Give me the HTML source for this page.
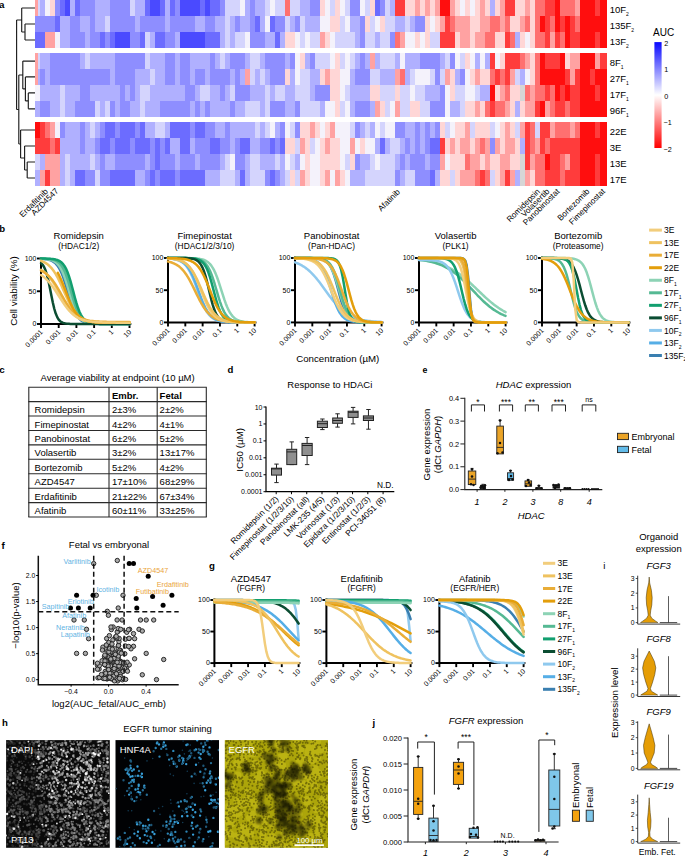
<!DOCTYPE html>
<html><head><meta charset="utf-8"><title>Figure</title>
<style>html,body{margin:0;padding:0;background:#fff;}body{width:685px;height:857px;overflow:hidden;}svg{display:block;}</style>
</head><body>
<svg width="685" height="857" viewBox="0 0 685 857" font-family='"Liberation Sans", sans-serif'>
<rect width="685" height="857" fill="#fff"/>
<g shape-rendering="crispEdges"><rect x="35" y="0" width="5.3" height="15.95" fill="#d4d4fd"/><rect x="40" y="0" width="5.3" height="15.95" fill="#b0b0ff"/><rect x="45" y="0" width="5.3" height="15.95" fill="#f4f2fb"/><rect x="50" y="0" width="5.3" height="15.95" fill="#ffd6d6"/><rect x="55" y="0" width="5.3" height="15.95" fill="#8e8eff"/><rect x="60" y="0" width="5.3" height="15.95" fill="#6c6cff"/><rect x="65" y="0" width="5.3" height="15.95" fill="#4a4aff"/><rect x="70" y="0" width="5.3" height="15.95" fill="#b0b0ff"/><rect x="75" y="0" width="5.3" height="15.95" fill="#6c6cff"/><rect x="80" y="0" width="15.3" height="15.95" fill="#8e8eff"/><rect x="95" y="0" width="15.3" height="15.95" fill="#b0b0ff"/><rect x="110" y="0" width="20.3" height="15.95" fill="#8e8eff"/><rect x="130" y="0" width="5.3" height="15.95" fill="#d4d4fd"/><rect x="135" y="0" width="10.3" height="15.95" fill="#b0b0ff"/><rect x="145" y="0" width="5.3" height="15.95" fill="#6c6cff"/><rect x="150" y="0" width="10.3" height="15.95" fill="#4a4aff"/><rect x="160" y="0" width="5.3" height="15.95" fill="#6c6cff"/><rect x="165" y="0" width="5.3" height="15.95" fill="#b0b0ff"/><rect x="170" y="0" width="5.3" height="15.95" fill="#6c6cff"/><rect x="175" y="0" width="5.3" height="15.95" fill="#8e8eff"/><rect x="180" y="0" width="20.3" height="15.95" fill="#4a4aff"/><rect x="200" y="0" width="5.3" height="15.95" fill="#6c6cff"/><rect x="205" y="0" width="5.3" height="15.95" fill="#4a4aff"/><rect x="210" y="0" width="10.3" height="15.95" fill="#6c6cff"/><rect x="220" y="0" width="5.3" height="15.95" fill="#8e8eff"/><rect x="225" y="0" width="15.3" height="15.95" fill="#d4d4fd"/><rect x="240" y="0" width="5.3" height="15.95" fill="#f4f2fb"/><rect x="245" y="0" width="5.3" height="15.95" fill="#b0b0ff"/><rect x="250" y="0" width="5.3" height="15.95" fill="#8e8eff"/><rect x="255" y="0" width="10.3" height="15.95" fill="#b0b0ff"/><rect x="265" y="0" width="5.3" height="15.95" fill="#d4d4fd"/><rect x="270" y="0" width="5.3" height="15.95" fill="#f4f2fb"/><rect x="275" y="0" width="10.3" height="15.95" fill="#d4d4fd"/><rect x="285" y="0" width="5.3" height="15.95" fill="#ff7070"/><rect x="290" y="0" width="10.3" height="15.95" fill="#d4d4fd"/><rect x="300" y="0" width="10.3" height="15.95" fill="#b0b0ff"/><rect x="310" y="0" width="10.3" height="15.95" fill="#8e8eff"/><rect x="320" y="0" width="5.3" height="15.95" fill="#ffd6d6"/><rect x="325" y="0" width="5.3" height="15.95" fill="#f4f2fb"/><rect x="330" y="0" width="5.3" height="15.95" fill="#d4d4fd"/><rect x="335" y="0" width="5.3" height="15.95" fill="#ffd6d6"/><rect x="340" y="0" width="5.3" height="15.95" fill="#f4f2fb"/><rect x="345" y="0" width="5.3" height="15.95" fill="#d4d4fd"/><rect x="350" y="0" width="10.3" height="15.95" fill="#8e8eff"/><rect x="360" y="0" width="5.3" height="15.95" fill="#f4f2fb"/><rect x="365" y="0" width="5.3" height="15.95" fill="#d4d4fd"/><rect x="370" y="0" width="5.3" height="15.95" fill="#ffd6d6"/><rect x="375" y="0" width="5.3" height="15.95" fill="#6c6cff"/><rect x="380" y="0" width="5.3" height="15.95" fill="#8e8eff"/><rect x="385" y="0" width="5.3" height="15.95" fill="#d4d4fd"/><rect x="390" y="0" width="5.3" height="15.95" fill="#b0b0ff"/><rect x="395" y="0" width="10.3" height="15.95" fill="#ff3c3c"/><rect x="405" y="0" width="10.3" height="15.95" fill="#ffd6d6"/><rect x="415" y="0" width="5.3" height="15.95" fill="#ffa2a2"/><rect x="420" y="0" width="5.3" height="15.95" fill="#ffd6d6"/><rect x="425" y="0" width="5.3" height="15.95" fill="#ffa2a2"/><rect x="430" y="0" width="5.3" height="15.95" fill="#ffd6d6"/><rect x="435" y="0" width="5.3" height="15.95" fill="#ffa2a2"/><rect x="440" y="0" width="10.3" height="15.95" fill="#ff0e0e"/><rect x="450" y="0" width="5.3" height="15.95" fill="#ffa2a2"/><rect x="455" y="0" width="5.3" height="15.95" fill="#ffd6d6"/><rect x="460" y="0" width="5.3" height="15.95" fill="#f4f2fb"/><rect x="465" y="0" width="5.3" height="15.95" fill="#ffd6d6"/><rect x="470" y="0" width="5.3" height="15.95" fill="#f4f2fb"/><rect x="475" y="0" width="5.3" height="15.95" fill="#ffd6d6"/><rect x="480" y="0" width="5.3" height="15.95" fill="#ffa2a2"/><rect x="485" y="0" width="5.3" height="15.95" fill="#ffd6d6"/><rect x="490" y="0" width="5.3" height="15.95" fill="#b0b0ff"/><rect x="495" y="0" width="5.3" height="15.95" fill="#ffd6d6"/><rect x="500" y="0" width="5.3" height="15.95" fill="#ffa2a2"/><rect x="505" y="0" width="10.3" height="15.95" fill="#ff3c3c"/><rect x="515" y="0" width="10.3" height="15.95" fill="#ffd6d6"/><rect x="525" y="0" width="5.3" height="15.95" fill="#ffa2a2"/><rect x="530" y="0" width="5.3" height="15.95" fill="#ffd6d6"/><rect x="535" y="0" width="10.3" height="15.95" fill="#ff7070"/><rect x="545" y="0" width="10.3" height="15.95" fill="#ff3c3c"/><rect x="555" y="0" width="5.3" height="15.95" fill="#ff0e0e"/><rect x="560" y="0" width="15.3" height="15.95" fill="#ff7070"/><rect x="575" y="0" width="5.3" height="15.95" fill="#ffa2a2"/><rect x="580" y="0" width="15.3" height="15.95" fill="#ff0e0e"/><rect x="595" y="0" width="5.3" height="15.95" fill="#ff3c3c"/><rect x="600" y="0" width="7" height="15.95" fill="#ff0e0e"/><rect x="35" y="15.95" width="20.3" height="16" fill="#8e8eff"/><rect x="55" y="15.95" width="5.3" height="16" fill="#6c6cff"/><rect x="60" y="15.95" width="10.3" height="16" fill="#b0b0ff"/><rect x="70" y="15.95" width="10.3" height="16" fill="#8e8eff"/><rect x="80" y="15.95" width="10.3" height="16" fill="#b0b0ff"/><rect x="90" y="15.95" width="5.3" height="16" fill="#8e8eff"/><rect x="95" y="15.95" width="10.3" height="16" fill="#b0b0ff"/><rect x="105" y="15.95" width="5.3" height="16" fill="#d4d4fd"/><rect x="110" y="15.95" width="25.3" height="16" fill="#8e8eff"/><rect x="135" y="15.95" width="5.3" height="16" fill="#b0b0ff"/><rect x="140" y="15.95" width="25.3" height="16" fill="#8e8eff"/><rect x="165" y="15.95" width="5.3" height="16" fill="#b0b0ff"/><rect x="170" y="15.95" width="25.3" height="16" fill="#8e8eff"/><rect x="195" y="15.95" width="10.3" height="16" fill="#b0b0ff"/><rect x="205" y="15.95" width="10.3" height="16" fill="#8e8eff"/><rect x="215" y="15.95" width="10.3" height="16" fill="#b0b0ff"/><rect x="225" y="15.95" width="5.3" height="16" fill="#d4d4fd"/><rect x="230" y="15.95" width="5.3" height="16" fill="#b0b0ff"/><rect x="235" y="15.95" width="5.3" height="16" fill="#8e8eff"/><rect x="240" y="15.95" width="10.3" height="16" fill="#b0b0ff"/><rect x="250" y="15.95" width="5.3" height="16" fill="#8e8eff"/><rect x="255" y="15.95" width="5.3" height="16" fill="#6c6cff"/><rect x="260" y="15.95" width="5.3" height="16" fill="#b0b0ff"/><rect x="265" y="15.95" width="5.3" height="16" fill="#f4f2fb"/><rect x="270" y="15.95" width="5.3" height="16" fill="#6c6cff"/><rect x="275" y="15.95" width="10.3" height="16" fill="#8e8eff"/><rect x="285" y="15.95" width="5.3" height="16" fill="#d4d4fd"/><rect x="290" y="15.95" width="5.3" height="16" fill="#b0b0ff"/><rect x="295" y="15.95" width="5.3" height="16" fill="#8e8eff"/><rect x="300" y="15.95" width="5.3" height="16" fill="#d4d4fd"/><rect x="305" y="15.95" width="15.3" height="16" fill="#b0b0ff"/><rect x="320" y="15.95" width="10.3" height="16" fill="#f4f2fb"/><rect x="330" y="15.95" width="10.3" height="16" fill="#ffd6d6"/><rect x="340" y="15.95" width="5.3" height="16" fill="#d4d4fd"/><rect x="345" y="15.95" width="5.3" height="16" fill="#f4f2fb"/><rect x="350" y="15.95" width="10.3" height="16" fill="#b0b0ff"/><rect x="360" y="15.95" width="5.3" height="16" fill="#8e8eff"/><rect x="365" y="15.95" width="5.3" height="16" fill="#ffd6d6"/><rect x="370" y="15.95" width="5.3" height="16" fill="#d4d4fd"/><rect x="375" y="15.95" width="5.3" height="16" fill="#f4f2fb"/><rect x="380" y="15.95" width="5.3" height="16" fill="#ffd6d6"/><rect x="385" y="15.95" width="10.3" height="16" fill="#d4d4fd"/><rect x="395" y="15.95" width="10.3" height="16" fill="#b0b0ff"/><rect x="405" y="15.95" width="5.3" height="16" fill="#d4d4fd"/><rect x="410" y="15.95" width="5.3" height="16" fill="#b0b0ff"/><rect x="415" y="15.95" width="10.3" height="16" fill="#8e8eff"/><rect x="425" y="15.95" width="5.3" height="16" fill="#ffd6d6"/><rect x="430" y="15.95" width="5.3" height="16" fill="#f4f2fb"/><rect x="435" y="15.95" width="5.3" height="16" fill="#ffd6d6"/><rect x="440" y="15.95" width="5.3" height="16" fill="#ffa2a2"/><rect x="445" y="15.95" width="5.3" height="16" fill="#ff3c3c"/><rect x="450" y="15.95" width="5.3" height="16" fill="#ff7070"/><rect x="455" y="15.95" width="15.3" height="16" fill="#ffa2a2"/><rect x="470" y="15.95" width="10.3" height="16" fill="#ffd6d6"/><rect x="480" y="15.95" width="10.3" height="16" fill="#ffa2a2"/><rect x="490" y="15.95" width="10.3" height="16" fill="#ff7070"/><rect x="500" y="15.95" width="5.3" height="16" fill="#ffa2a2"/><rect x="505" y="15.95" width="5.3" height="16" fill="#ff7070"/><rect x="510" y="15.95" width="10.3" height="16" fill="#ffd6d6"/><rect x="520" y="15.95" width="5.3" height="16" fill="#ffa2a2"/><rect x="525" y="15.95" width="5.3" height="16" fill="#ff7070"/><rect x="530" y="15.95" width="5.3" height="16" fill="#ffd6d6"/><rect x="535" y="15.95" width="5.3" height="16" fill="#ff7070"/><rect x="540" y="15.95" width="5.3" height="16" fill="#ff0e0e"/><rect x="545" y="15.95" width="5.3" height="16" fill="#ff3c3c"/><rect x="550" y="15.95" width="5.3" height="16" fill="#ff7070"/><rect x="555" y="15.95" width="5.3" height="16" fill="#ff0e0e"/><rect x="560" y="15.95" width="5.3" height="16" fill="#ff3c3c"/><rect x="565" y="15.95" width="5.3" height="16" fill="#ff0e0e"/><rect x="570" y="15.95" width="5.3" height="16" fill="#ff3c3c"/><rect x="575" y="15.95" width="5.3" height="16" fill="#ff7070"/><rect x="580" y="15.95" width="27" height="16" fill="#ff0e0e"/><rect x="35" y="31.95" width="10.3" height="16.05" fill="#6c6cff"/><rect x="45" y="31.95" width="10.3" height="16.05" fill="#ffa2a2"/><rect x="55" y="31.95" width="5.3" height="16.05" fill="#f4f2fb"/><rect x="60" y="31.95" width="10.3" height="16.05" fill="#b0b0ff"/><rect x="70" y="31.95" width="15.3" height="16.05" fill="#8e8eff"/><rect x="85" y="31.95" width="5.3" height="16.05" fill="#b0b0ff"/><rect x="90" y="31.95" width="10.3" height="16.05" fill="#8e8eff"/><rect x="100" y="31.95" width="5.3" height="16.05" fill="#6c6cff"/><rect x="105" y="31.95" width="5.3" height="16.05" fill="#8e8eff"/><rect x="110" y="31.95" width="5.3" height="16.05" fill="#6c6cff"/><rect x="115" y="31.95" width="15.3" height="16.05" fill="#4a4aff"/><rect x="130" y="31.95" width="10.3" height="16.05" fill="#8e8eff"/><rect x="140" y="31.95" width="5.3" height="16.05" fill="#6c6cff"/><rect x="145" y="31.95" width="5.3" height="16.05" fill="#d4d4fd"/><rect x="150" y="31.95" width="5.3" height="16.05" fill="#b0b0ff"/><rect x="155" y="31.95" width="10.3" height="16.05" fill="#6c6cff"/><rect x="165" y="31.95" width="10.3" height="16.05" fill="#8e8eff"/><rect x="175" y="31.95" width="5.3" height="16.05" fill="#b0b0ff"/><rect x="180" y="31.95" width="25.3" height="16.05" fill="#4a4aff"/><rect x="205" y="31.95" width="15.3" height="16.05" fill="#6c6cff"/><rect x="220" y="31.95" width="5.3" height="16.05" fill="#b0b0ff"/><rect x="225" y="31.95" width="5.3" height="16.05" fill="#d4d4fd"/><rect x="230" y="31.95" width="5.3" height="16.05" fill="#b0b0ff"/><rect x="235" y="31.95" width="10.3" height="16.05" fill="#d4d4fd"/><rect x="245" y="31.95" width="5.3" height="16.05" fill="#f4f2fb"/><rect x="250" y="31.95" width="15.3" height="16.05" fill="#8e8eff"/><rect x="265" y="31.95" width="10.3" height="16.05" fill="#b0b0ff"/><rect x="275" y="31.95" width="5.3" height="16.05" fill="#6c6cff"/><rect x="280" y="31.95" width="5.3" height="16.05" fill="#b0b0ff"/><rect x="285" y="31.95" width="10.3" height="16.05" fill="#ffd6d6"/><rect x="295" y="31.95" width="5.3" height="16.05" fill="#f4f2fb"/><rect x="300" y="31.95" width="5.3" height="16.05" fill="#d4d4fd"/><rect x="305" y="31.95" width="5.3" height="16.05" fill="#f4f2fb"/><rect x="310" y="31.95" width="10.3" height="16.05" fill="#d4d4fd"/><rect x="320" y="31.95" width="5.3" height="16.05" fill="#ffa2a2"/><rect x="325" y="31.95" width="5.3" height="16.05" fill="#ffd6d6"/><rect x="330" y="31.95" width="5.3" height="16.05" fill="#f4f2fb"/><rect x="335" y="31.95" width="20.3" height="16.05" fill="#d4d4fd"/><rect x="355" y="31.95" width="5.3" height="16.05" fill="#b0b0ff"/><rect x="360" y="31.95" width="5.3" height="16.05" fill="#8e8eff"/><rect x="365" y="31.95" width="10.3" height="16.05" fill="#d4d4fd"/><rect x="375" y="31.95" width="5.3" height="16.05" fill="#b0b0ff"/><rect x="380" y="31.95" width="10.3" height="16.05" fill="#d4d4fd"/><rect x="390" y="31.95" width="5.3" height="16.05" fill="#8e8eff"/><rect x="395" y="31.95" width="5.3" height="16.05" fill="#ff7070"/><rect x="400" y="31.95" width="5.3" height="16.05" fill="#ffa2a2"/><rect x="405" y="31.95" width="10.3" height="16.05" fill="#f4f2fb"/><rect x="415" y="31.95" width="5.3" height="16.05" fill="#ffd6d6"/><rect x="420" y="31.95" width="5.3" height="16.05" fill="#f4f2fb"/><rect x="425" y="31.95" width="5.3" height="16.05" fill="#ffd6d6"/><rect x="430" y="31.95" width="10.3" height="16.05" fill="#d4d4fd"/><rect x="440" y="31.95" width="15.3" height="16.05" fill="#ff3c3c"/><rect x="455" y="31.95" width="5.3" height="16.05" fill="#ffd6d6"/><rect x="460" y="31.95" width="10.3" height="16.05" fill="#ffa2a2"/><rect x="470" y="31.95" width="5.3" height="16.05" fill="#ffd6d6"/><rect x="475" y="31.95" width="10.3" height="16.05" fill="#ffa2a2"/><rect x="485" y="31.95" width="10.3" height="16.05" fill="#ff7070"/><rect x="495" y="31.95" width="10.3" height="16.05" fill="#ffd6d6"/><rect x="505" y="31.95" width="5.3" height="16.05" fill="#ff3c3c"/><rect x="510" y="31.95" width="5.3" height="16.05" fill="#ff7070"/><rect x="515" y="31.95" width="5.3" height="16.05" fill="#b0b0ff"/><rect x="520" y="31.95" width="5.3" height="16.05" fill="#ffd6d6"/><rect x="525" y="31.95" width="5.3" height="16.05" fill="#f4f2fb"/><rect x="530" y="31.95" width="5.3" height="16.05" fill="#ffd6d6"/><rect x="535" y="31.95" width="10.3" height="16.05" fill="#ff7070"/><rect x="545" y="31.95" width="5.3" height="16.05" fill="#ff3c3c"/><rect x="550" y="31.95" width="5.3" height="16.05" fill="#ffa2a2"/><rect x="555" y="31.95" width="5.3" height="16.05" fill="#ff3c3c"/><rect x="560" y="31.95" width="5.3" height="16.05" fill="#ff7070"/><rect x="565" y="31.95" width="5.3" height="16.05" fill="#ff0e0e"/><rect x="570" y="31.95" width="10.3" height="16.05" fill="#ff3c3c"/><rect x="580" y="31.95" width="15.3" height="16.05" fill="#ff0e0e"/><rect x="595" y="31.95" width="5.3" height="16.05" fill="#ff3c3c"/><rect x="600" y="31.95" width="7" height="16.05" fill="#ff0e0e"/><rect x="35" y="53.1" width="5.3" height="15.9" fill="#d4d4fd"/><rect x="40" y="53.1" width="10.3" height="15.9" fill="#b0b0ff"/><rect x="50" y="53.1" width="30.3" height="15.9" fill="#8e8eff"/><rect x="80" y="53.1" width="5.3" height="15.9" fill="#b0b0ff"/><rect x="85" y="53.1" width="5.3" height="15.9" fill="#d4d4fd"/><rect x="90" y="53.1" width="25.3" height="15.9" fill="#b0b0ff"/><rect x="115" y="53.1" width="30.3" height="15.9" fill="#8e8eff"/><rect x="145" y="53.1" width="5.3" height="15.9" fill="#d4d4fd"/><rect x="150" y="53.1" width="15.3" height="15.9" fill="#b0b0ff"/><rect x="165" y="53.1" width="10.3" height="15.9" fill="#8e8eff"/><rect x="175" y="53.1" width="5.3" height="15.9" fill="#b0b0ff"/><rect x="180" y="53.1" width="10.3" height="15.9" fill="#8e8eff"/><rect x="190" y="53.1" width="20.3" height="15.9" fill="#b0b0ff"/><rect x="210" y="53.1" width="5.3" height="15.9" fill="#8e8eff"/><rect x="215" y="53.1" width="5.3" height="15.9" fill="#b0b0ff"/><rect x="220" y="53.1" width="5.3" height="15.9" fill="#d4d4fd"/><rect x="225" y="53.1" width="5.3" height="15.9" fill="#b0b0ff"/><rect x="230" y="53.1" width="15.3" height="15.9" fill="#8e8eff"/><rect x="245" y="53.1" width="5.3" height="15.9" fill="#b0b0ff"/><rect x="250" y="53.1" width="10.3" height="15.9" fill="#d4d4fd"/><rect x="260" y="53.1" width="5.3" height="15.9" fill="#b0b0ff"/><rect x="265" y="53.1" width="20.3" height="15.9" fill="#8e8eff"/><rect x="285" y="53.1" width="5.3" height="15.9" fill="#b0b0ff"/><rect x="290" y="53.1" width="5.3" height="15.9" fill="#8e8eff"/><rect x="295" y="53.1" width="5.3" height="15.9" fill="#f4f2fb"/><rect x="300" y="53.1" width="5.3" height="15.9" fill="#ffd6d6"/><rect x="305" y="53.1" width="5.3" height="15.9" fill="#b0b0ff"/><rect x="310" y="53.1" width="5.3" height="15.9" fill="#8e8eff"/><rect x="315" y="53.1" width="15.3" height="15.9" fill="#d4d4fd"/><rect x="330" y="53.1" width="5.3" height="15.9" fill="#f4f2fb"/><rect x="335" y="53.1" width="5.3" height="15.9" fill="#ffd6d6"/><rect x="340" y="53.1" width="5.3" height="15.9" fill="#d4d4fd"/><rect x="345" y="53.1" width="5.3" height="15.9" fill="#f4f2fb"/><rect x="350" y="53.1" width="5.3" height="15.9" fill="#d4d4fd"/><rect x="355" y="53.1" width="5.3" height="15.9" fill="#b0b0ff"/><rect x="360" y="53.1" width="5.3" height="15.9" fill="#8e8eff"/><rect x="365" y="53.1" width="5.3" height="15.9" fill="#b0b0ff"/><rect x="370" y="53.1" width="5.3" height="15.9" fill="#ffa2a2"/><rect x="375" y="53.1" width="5.3" height="15.9" fill="#b0b0ff"/><rect x="380" y="53.1" width="15.3" height="15.9" fill="#d4d4fd"/><rect x="395" y="53.1" width="5.3" height="15.9" fill="#b0b0ff"/><rect x="400" y="53.1" width="5.3" height="15.9" fill="#f4f2fb"/><rect x="405" y="53.1" width="15.3" height="15.9" fill="#b0b0ff"/><rect x="420" y="53.1" width="20.3" height="15.9" fill="#8e8eff"/><rect x="440" y="53.1" width="5.3" height="15.9" fill="#b0b0ff"/><rect x="445" y="53.1" width="5.3" height="15.9" fill="#d4d4fd"/><rect x="450" y="53.1" width="5.3" height="15.9" fill="#8e8eff"/><rect x="455" y="53.1" width="5.3" height="15.9" fill="#f4f2fb"/><rect x="460" y="53.1" width="5.3" height="15.9" fill="#d4d4fd"/><rect x="465" y="53.1" width="5.3" height="15.9" fill="#ffd6d6"/><rect x="470" y="53.1" width="5.3" height="15.9" fill="#f4f2fb"/><rect x="475" y="53.1" width="5.3" height="15.9" fill="#b0b0ff"/><rect x="480" y="53.1" width="5.3" height="15.9" fill="#f4f2fb"/><rect x="485" y="53.1" width="5.3" height="15.9" fill="#b0b0ff"/><rect x="490" y="53.1" width="5.3" height="15.9" fill="#ff3c3c"/><rect x="495" y="53.1" width="5.3" height="15.9" fill="#f4f2fb"/><rect x="500" y="53.1" width="5.3" height="15.9" fill="#ffd6d6"/><rect x="505" y="53.1" width="15.3" height="15.9" fill="#ff3c3c"/><rect x="520" y="53.1" width="5.3" height="15.9" fill="#ff7070"/><rect x="525" y="53.1" width="5.3" height="15.9" fill="#ffa2a2"/><rect x="530" y="53.1" width="5.3" height="15.9" fill="#ffd6d6"/><rect x="535" y="53.1" width="5.3" height="15.9" fill="#ff7070"/><rect x="540" y="53.1" width="5.3" height="15.9" fill="#ff0e0e"/><rect x="545" y="53.1" width="15.3" height="15.9" fill="#ff3c3c"/><rect x="560" y="53.1" width="5.3" height="15.9" fill="#ff0e0e"/><rect x="565" y="53.1" width="5.3" height="15.9" fill="#ffd6d6"/><rect x="570" y="53.1" width="10.3" height="15.9" fill="#ffa2a2"/><rect x="580" y="53.1" width="15.3" height="15.9" fill="#ff0e0e"/><rect x="595" y="53.1" width="5.3" height="15.9" fill="#ffa2a2"/><rect x="600" y="53.1" width="7" height="15.9" fill="#ff3c3c"/><rect x="35" y="69" width="5.3" height="15.9" fill="#b0b0ff"/><rect x="40" y="69" width="5.3" height="15.9" fill="#8e8eff"/><rect x="45" y="69" width="5.3" height="15.9" fill="#b0b0ff"/><rect x="50" y="69" width="60.3" height="15.9" fill="#8e8eff"/><rect x="110" y="69" width="5.3" height="15.9" fill="#b0b0ff"/><rect x="115" y="69" width="20.3" height="15.9" fill="#8e8eff"/><rect x="135" y="69" width="15.3" height="15.9" fill="#b0b0ff"/><rect x="150" y="69" width="5.3" height="15.9" fill="#d4d4fd"/><rect x="155" y="69" width="10.3" height="15.9" fill="#b0b0ff"/><rect x="165" y="69" width="10.3" height="15.9" fill="#8e8eff"/><rect x="175" y="69" width="5.3" height="15.9" fill="#b0b0ff"/><rect x="180" y="69" width="10.3" height="15.9" fill="#8e8eff"/><rect x="190" y="69" width="5.3" height="15.9" fill="#b0b0ff"/><rect x="195" y="69" width="10.3" height="15.9" fill="#8e8eff"/><rect x="205" y="69" width="5.3" height="15.9" fill="#b0b0ff"/><rect x="210" y="69" width="20.3" height="15.9" fill="#8e8eff"/><rect x="230" y="69" width="5.3" height="15.9" fill="#b0b0ff"/><rect x="235" y="69" width="5.3" height="15.9" fill="#8e8eff"/><rect x="240" y="69" width="5.3" height="15.9" fill="#b0b0ff"/><rect x="245" y="69" width="5.3" height="15.9" fill="#ffa2a2"/><rect x="250" y="69" width="5.3" height="15.9" fill="#d4d4fd"/><rect x="255" y="69" width="5.3" height="15.9" fill="#b0b0ff"/><rect x="260" y="69" width="5.3" height="15.9" fill="#d4d4fd"/><rect x="265" y="69" width="5.3" height="15.9" fill="#b0b0ff"/><rect x="270" y="69" width="15.3" height="15.9" fill="#8e8eff"/><rect x="285" y="69" width="5.3" height="15.9" fill="#ffd6d6"/><rect x="290" y="69" width="5.3" height="15.9" fill="#b0b0ff"/><rect x="295" y="69" width="5.3" height="15.9" fill="#f4f2fb"/><rect x="300" y="69" width="10.3" height="15.9" fill="#d4d4fd"/><rect x="310" y="69" width="10.3" height="15.9" fill="#b0b0ff"/><rect x="320" y="69" width="5.3" height="15.9" fill="#ffd6d6"/><rect x="325" y="69" width="5.3" height="15.9" fill="#ffa2a2"/><rect x="330" y="69" width="10.3" height="15.9" fill="#ffd6d6"/><rect x="340" y="69" width="10.3" height="15.9" fill="#f4f2fb"/><rect x="350" y="69" width="5.3" height="15.9" fill="#b0b0ff"/><rect x="355" y="69" width="15.3" height="15.9" fill="#8e8eff"/><rect x="370" y="69" width="10.3" height="15.9" fill="#d4d4fd"/><rect x="380" y="69" width="15.3" height="15.9" fill="#b0b0ff"/><rect x="395" y="69" width="5.3" height="15.9" fill="#ffa2a2"/><rect x="400" y="69" width="5.3" height="15.9" fill="#ff7070"/><rect x="405" y="69" width="5.3" height="15.9" fill="#b0b0ff"/><rect x="410" y="69" width="5.3" height="15.9" fill="#d4d4fd"/><rect x="415" y="69" width="15.3" height="15.9" fill="#f4f2fb"/><rect x="430" y="69" width="5.3" height="15.9" fill="#d4d4fd"/><rect x="435" y="69" width="5.3" height="15.9" fill="#8e8eff"/><rect x="440" y="69" width="5.3" height="15.9" fill="#d4d4fd"/><rect x="445" y="69" width="5.3" height="15.9" fill="#ffa2a2"/><rect x="450" y="69" width="5.3" height="15.9" fill="#ffd6d6"/><rect x="455" y="69" width="5.3" height="15.9" fill="#b0b0ff"/><rect x="460" y="69" width="5.3" height="15.9" fill="#8e8eff"/><rect x="465" y="69" width="5.3" height="15.9" fill="#f4f2fb"/><rect x="470" y="69" width="5.3" height="15.9" fill="#ffd6d6"/><rect x="475" y="69" width="5.3" height="15.9" fill="#ffa2a2"/><rect x="480" y="69" width="10.3" height="15.9" fill="#ffd6d6"/><rect x="490" y="69" width="5.3" height="15.9" fill="#ff7070"/><rect x="495" y="69" width="5.3" height="15.9" fill="#ff3c3c"/><rect x="500" y="69" width="5.3" height="15.9" fill="#ff7070"/><rect x="505" y="69" width="5.3" height="15.9" fill="#ff3c3c"/><rect x="510" y="69" width="5.3" height="15.9" fill="#ffa2a2"/><rect x="515" y="69" width="5.3" height="15.9" fill="#d4d4fd"/><rect x="520" y="69" width="5.3" height="15.9" fill="#b0b0ff"/><rect x="525" y="69" width="5.3" height="15.9" fill="#f4f2fb"/><rect x="530" y="69" width="5.3" height="15.9" fill="#ffd6d6"/><rect x="535" y="69" width="5.3" height="15.9" fill="#ff7070"/><rect x="540" y="69" width="25.3" height="15.9" fill="#ff0e0e"/><rect x="565" y="69" width="5.3" height="15.9" fill="#ff3c3c"/><rect x="570" y="69" width="5.3" height="15.9" fill="#ffa2a2"/><rect x="575" y="69" width="5.3" height="15.9" fill="#ff3c3c"/><rect x="580" y="69" width="10.3" height="15.9" fill="#ff0e0e"/><rect x="590" y="69" width="5.3" height="15.9" fill="#ff3c3c"/><rect x="595" y="69" width="12" height="15.9" fill="#ff0e0e"/><rect x="35" y="84.9" width="5.3" height="15.9" fill="#f4f2fb"/><rect x="40" y="84.9" width="20.3" height="15.9" fill="#b0b0ff"/><rect x="60" y="84.9" width="5.3" height="15.9" fill="#d4d4fd"/><rect x="65" y="84.9" width="15.3" height="15.9" fill="#b0b0ff"/><rect x="80" y="84.9" width="10.3" height="15.9" fill="#8e8eff"/><rect x="90" y="84.9" width="30.3" height="15.9" fill="#b0b0ff"/><rect x="120" y="84.9" width="5.3" height="15.9" fill="#8e8eff"/><rect x="125" y="84.9" width="5.3" height="15.9" fill="#b0b0ff"/><rect x="130" y="84.9" width="5.3" height="15.9" fill="#8e8eff"/><rect x="135" y="84.9" width="5.3" height="15.9" fill="#b0b0ff"/><rect x="140" y="84.9" width="10.3" height="15.9" fill="#d4d4fd"/><rect x="150" y="84.9" width="35.3" height="15.9" fill="#b0b0ff"/><rect x="185" y="84.9" width="10.3" height="15.9" fill="#8e8eff"/><rect x="195" y="84.9" width="5.3" height="15.9" fill="#b0b0ff"/><rect x="200" y="84.9" width="10.3" height="15.9" fill="#d4d4fd"/><rect x="210" y="84.9" width="10.3" height="15.9" fill="#b0b0ff"/><rect x="220" y="84.9" width="5.3" height="15.9" fill="#8e8eff"/><rect x="225" y="84.9" width="5.3" height="15.9" fill="#b0b0ff"/><rect x="230" y="84.9" width="5.3" height="15.9" fill="#d4d4fd"/><rect x="235" y="84.9" width="15.3" height="15.9" fill="#8e8eff"/><rect x="250" y="84.9" width="15.3" height="15.9" fill="#b0b0ff"/><rect x="265" y="84.9" width="5.3" height="15.9" fill="#d4d4fd"/><rect x="270" y="84.9" width="5.3" height="15.9" fill="#b0b0ff"/><rect x="275" y="84.9" width="10.3" height="15.9" fill="#d4d4fd"/><rect x="285" y="84.9" width="10.3" height="15.9" fill="#b0b0ff"/><rect x="295" y="84.9" width="15.3" height="15.9" fill="#d4d4fd"/><rect x="310" y="84.9" width="5.3" height="15.9" fill="#b0b0ff"/><rect x="315" y="84.9" width="15.3" height="15.9" fill="#8e8eff"/><rect x="330" y="84.9" width="10.3" height="15.9" fill="#ffd6d6"/><rect x="340" y="84.9" width="5.3" height="15.9" fill="#f4f2fb"/><rect x="345" y="84.9" width="5.3" height="15.9" fill="#d4d4fd"/><rect x="350" y="84.9" width="20.3" height="15.9" fill="#b0b0ff"/><rect x="370" y="84.9" width="10.3" height="15.9" fill="#ffd6d6"/><rect x="380" y="84.9" width="15.3" height="15.9" fill="#d4d4fd"/><rect x="395" y="84.9" width="5.3" height="15.9" fill="#ffd6d6"/><rect x="400" y="84.9" width="10.3" height="15.9" fill="#d4d4fd"/><rect x="410" y="84.9" width="5.3" height="15.9" fill="#f4f2fb"/><rect x="415" y="84.9" width="10.3" height="15.9" fill="#d4d4fd"/><rect x="425" y="84.9" width="15.3" height="15.9" fill="#b0b0ff"/><rect x="440" y="84.9" width="5.3" height="15.9" fill="#8e8eff"/><rect x="445" y="84.9" width="5.3" height="15.9" fill="#f4f2fb"/><rect x="450" y="84.9" width="5.3" height="15.9" fill="#ffd6d6"/><rect x="455" y="84.9" width="10.3" height="15.9" fill="#d4d4fd"/><rect x="465" y="84.9" width="10.3" height="15.9" fill="#f4f2fb"/><rect x="475" y="84.9" width="5.3" height="15.9" fill="#d4d4fd"/><rect x="480" y="84.9" width="10.3" height="15.9" fill="#b0b0ff"/><rect x="490" y="84.9" width="5.3" height="15.9" fill="#ff0e0e"/><rect x="495" y="84.9" width="5.3" height="15.9" fill="#ffd6d6"/><rect x="500" y="84.9" width="5.3" height="15.9" fill="#ffa2a2"/><rect x="505" y="84.9" width="5.3" height="15.9" fill="#ff7070"/><rect x="510" y="84.9" width="10.3" height="15.9" fill="#ffd6d6"/><rect x="520" y="84.9" width="5.3" height="15.9" fill="#d6d6d6"/><rect x="525" y="84.9" width="5.3" height="15.9" fill="#ff7070"/><rect x="530" y="84.9" width="5.3" height="15.9" fill="#ffa2a2"/><rect x="535" y="84.9" width="10.3" height="15.9" fill="#ff7070"/><rect x="545" y="84.9" width="5.3" height="15.9" fill="#ff3c3c"/><rect x="550" y="84.9" width="5.3" height="15.9" fill="#ff7070"/><rect x="555" y="84.9" width="5.3" height="15.9" fill="#ff0e0e"/><rect x="560" y="84.9" width="5.3" height="15.9" fill="#ff3c3c"/><rect x="565" y="84.9" width="5.3" height="15.9" fill="#ff0e0e"/><rect x="570" y="84.9" width="10.3" height="15.9" fill="#ff3c3c"/><rect x="580" y="84.9" width="15.3" height="15.9" fill="#ff0e0e"/><rect x="595" y="84.9" width="5.3" height="15.9" fill="#ff3c3c"/><rect x="600" y="84.9" width="7" height="15.9" fill="#ff0e0e"/><rect x="35" y="100.8" width="5.3" height="15.9" fill="#b0b0ff"/><rect x="40" y="100.8" width="10.3" height="15.9" fill="#8e8eff"/><rect x="50" y="100.8" width="10.3" height="15.9" fill="#b0b0ff"/><rect x="60" y="100.8" width="5.3" height="15.9" fill="#d4d4fd"/><rect x="65" y="100.8" width="10.3" height="15.9" fill="#b0b0ff"/><rect x="75" y="100.8" width="20.3" height="15.9" fill="#8e8eff"/><rect x="95" y="100.8" width="5.3" height="15.9" fill="#d4d4fd"/><rect x="100" y="100.8" width="5.3" height="15.9" fill="#b0b0ff"/><rect x="105" y="100.8" width="5.3" height="15.9" fill="#d4d4fd"/><rect x="110" y="100.8" width="5.3" height="15.9" fill="#8e8eff"/><rect x="115" y="100.8" width="5.3" height="15.9" fill="#b0b0ff"/><rect x="120" y="100.8" width="10.3" height="15.9" fill="#8e8eff"/><rect x="130" y="100.8" width="10.3" height="15.9" fill="#b0b0ff"/><rect x="140" y="100.8" width="5.3" height="15.9" fill="#d4d4fd"/><rect x="145" y="100.8" width="15.3" height="15.9" fill="#b0b0ff"/><rect x="160" y="100.8" width="30.3" height="15.9" fill="#8e8eff"/><rect x="190" y="100.8" width="5.3" height="15.9" fill="#b0b0ff"/><rect x="195" y="100.8" width="5.3" height="15.9" fill="#8e8eff"/><rect x="200" y="100.8" width="5.3" height="15.9" fill="#b0b0ff"/><rect x="205" y="100.8" width="5.3" height="15.9" fill="#8e8eff"/><rect x="210" y="100.8" width="20.3" height="15.9" fill="#b0b0ff"/><rect x="230" y="100.8" width="5.3" height="15.9" fill="#8e8eff"/><rect x="235" y="100.8" width="10.3" height="15.9" fill="#b0b0ff"/><rect x="245" y="100.8" width="15.3" height="15.9" fill="#d4d4fd"/><rect x="260" y="100.8" width="5.3" height="15.9" fill="#b0b0ff"/><rect x="265" y="100.8" width="5.3" height="15.9" fill="#d4d4fd"/><rect x="270" y="100.8" width="15.3" height="15.9" fill="#8e8eff"/><rect x="285" y="100.8" width="10.3" height="15.9" fill="#b0b0ff"/><rect x="295" y="100.8" width="5.3" height="15.9" fill="#8e8eff"/><rect x="300" y="100.8" width="20.3" height="15.9" fill="#d4d4fd"/><rect x="320" y="100.8" width="5.3" height="15.9" fill="#b0b0ff"/><rect x="325" y="100.8" width="10.3" height="15.9" fill="#f4f2fb"/><rect x="335" y="100.8" width="5.3" height="15.9" fill="#ffd6d6"/><rect x="340" y="100.8" width="5.3" height="15.9" fill="#d4d4fd"/><rect x="345" y="100.8" width="5.3" height="15.9" fill="#f4f2fb"/><rect x="350" y="100.8" width="5.3" height="15.9" fill="#b0b0ff"/><rect x="355" y="100.8" width="15.3" height="15.9" fill="#8e8eff"/><rect x="370" y="100.8" width="5.3" height="15.9" fill="#b0b0ff"/><rect x="375" y="100.8" width="5.3" height="15.9" fill="#ffa2a2"/><rect x="380" y="100.8" width="5.3" height="15.9" fill="#ffd6d6"/><rect x="385" y="100.8" width="5.3" height="15.9" fill="#d4d4fd"/><rect x="390" y="100.8" width="5.3" height="15.9" fill="#f4f2fb"/><rect x="395" y="100.8" width="5.3" height="15.9" fill="#ffa2a2"/><rect x="400" y="100.8" width="10.3" height="15.9" fill="#d4d4fd"/><rect x="410" y="100.8" width="10.3" height="15.9" fill="#ffd6d6"/><rect x="420" y="100.8" width="10.3" height="15.9" fill="#d4d4fd"/><rect x="430" y="100.8" width="15.3" height="15.9" fill="#8e8eff"/><rect x="445" y="100.8" width="5.3" height="15.9" fill="#f4f2fb"/><rect x="450" y="100.8" width="10.3" height="15.9" fill="#b0b0ff"/><rect x="460" y="100.8" width="5.3" height="15.9" fill="#d4d4fd"/><rect x="465" y="100.8" width="10.3" height="15.9" fill="#ffd6d6"/><rect x="475" y="100.8" width="5.3" height="15.9" fill="#ffa2a2"/><rect x="480" y="100.8" width="5.3" height="15.9" fill="#ffd6d6"/><rect x="485" y="100.8" width="5.3" height="15.9" fill="#ff7070"/><rect x="490" y="100.8" width="5.3" height="15.9" fill="#ff3c3c"/><rect x="495" y="100.8" width="10.3" height="15.9" fill="#ff7070"/><rect x="505" y="100.8" width="5.3" height="15.9" fill="#ffa2a2"/><rect x="510" y="100.8" width="5.3" height="15.9" fill="#ffd6d6"/><rect x="515" y="100.8" width="5.3" height="15.9" fill="#b0b0ff"/><rect x="520" y="100.8" width="5.3" height="15.9" fill="#ffd6d6"/><rect x="525" y="100.8" width="10.3" height="15.9" fill="#ffa2a2"/><rect x="535" y="100.8" width="5.3" height="15.9" fill="#ff3c3c"/><rect x="540" y="100.8" width="5.3" height="15.9" fill="#ff0e0e"/><rect x="545" y="100.8" width="5.3" height="15.9" fill="#ffa2a2"/><rect x="550" y="100.8" width="5.3" height="15.9" fill="#ff7070"/><rect x="555" y="100.8" width="10.3" height="15.9" fill="#ff3c3c"/><rect x="565" y="100.8" width="5.3" height="15.9" fill="#ff7070"/><rect x="570" y="100.8" width="10.3" height="15.9" fill="#ff3c3c"/><rect x="580" y="100.8" width="27" height="15.9" fill="#ff0e0e"/><rect x="35" y="121.9" width="5.3" height="16" fill="#ff0e0e"/><rect x="40" y="121.9" width="5.3" height="16" fill="#ff3c3c"/><rect x="45" y="121.9" width="5.3" height="16" fill="#ff7070"/><rect x="50" y="121.9" width="5.3" height="16" fill="#ffa2a2"/><rect x="55" y="121.9" width="5.3" height="16" fill="#f4f2fb"/><rect x="60" y="121.9" width="5.3" height="16" fill="#8e8eff"/><rect x="65" y="121.9" width="15.3" height="16" fill="#b0b0ff"/><rect x="80" y="121.9" width="5.3" height="16" fill="#8e8eff"/><rect x="85" y="121.9" width="5.3" height="16" fill="#b0b0ff"/><rect x="90" y="121.9" width="5.3" height="16" fill="#d4d4fd"/><rect x="95" y="121.9" width="5.3" height="16" fill="#b0b0ff"/><rect x="100" y="121.9" width="5.3" height="16" fill="#8e8eff"/><rect x="105" y="121.9" width="10.3" height="16" fill="#6c6cff"/><rect x="115" y="121.9" width="5.3" height="16" fill="#8e8eff"/><rect x="120" y="121.9" width="15.3" height="16" fill="#6c6cff"/><rect x="135" y="121.9" width="5.3" height="16" fill="#8e8eff"/><rect x="140" y="121.9" width="5.3" height="16" fill="#6c6cff"/><rect x="145" y="121.9" width="10.3" height="16" fill="#b0b0ff"/><rect x="155" y="121.9" width="10.3" height="16" fill="#d4d4fd"/><rect x="165" y="121.9" width="5.3" height="16" fill="#b0b0ff"/><rect x="170" y="121.9" width="20.3" height="16" fill="#6c6cff"/><rect x="190" y="121.9" width="5.3" height="16" fill="#8e8eff"/><rect x="195" y="121.9" width="10.3" height="16" fill="#6c6cff"/><rect x="205" y="121.9" width="10.3" height="16" fill="#8e8eff"/><rect x="215" y="121.9" width="10.3" height="16" fill="#b0b0ff"/><rect x="225" y="121.9" width="5.3" height="16" fill="#8e8eff"/><rect x="230" y="121.9" width="25.3" height="16" fill="#b0b0ff"/><rect x="255" y="121.9" width="5.3" height="16" fill="#d4d4fd"/><rect x="260" y="121.9" width="5.3" height="16" fill="#b0b0ff"/><rect x="265" y="121.9" width="5.3" height="16" fill="#d4d4fd"/><rect x="270" y="121.9" width="5.3" height="16" fill="#f4f2fb"/><rect x="275" y="121.9" width="5.3" height="16" fill="#b0b0ff"/><rect x="280" y="121.9" width="5.3" height="16" fill="#8e8eff"/><rect x="285" y="121.9" width="5.3" height="16" fill="#f4f2fb"/><rect x="290" y="121.9" width="5.3" height="16" fill="#d4d4fd"/><rect x="295" y="121.9" width="5.3" height="16" fill="#8e8eff"/><rect x="300" y="121.9" width="10.3" height="16" fill="#ffd6d6"/><rect x="310" y="121.9" width="5.3" height="16" fill="#ffa2a2"/><rect x="315" y="121.9" width="5.3" height="16" fill="#ffd6d6"/><rect x="320" y="121.9" width="5.3" height="16" fill="#f4f2fb"/><rect x="325" y="121.9" width="5.3" height="16" fill="#ffd6d6"/><rect x="330" y="121.9" width="5.3" height="16" fill="#ffa2a2"/><rect x="335" y="121.9" width="15.3" height="16" fill="#f4f2fb"/><rect x="350" y="121.9" width="5.3" height="16" fill="#d4d4fd"/><rect x="355" y="121.9" width="5.3" height="16" fill="#8e8eff"/><rect x="360" y="121.9" width="5.3" height="16" fill="#b0b0ff"/><rect x="365" y="121.9" width="5.3" height="16" fill="#d4d4fd"/><rect x="370" y="121.9" width="5.3" height="16" fill="#b0b0ff"/><rect x="375" y="121.9" width="5.3" height="16" fill="#f4f2fb"/><rect x="380" y="121.9" width="5.3" height="16" fill="#d4d4fd"/><rect x="385" y="121.9" width="10.3" height="16" fill="#f4f2fb"/><rect x="395" y="121.9" width="10.3" height="16" fill="#8e8eff"/><rect x="405" y="121.9" width="10.3" height="16" fill="#b0b0ff"/><rect x="415" y="121.9" width="5.3" height="16" fill="#8e8eff"/><rect x="420" y="121.9" width="5.3" height="16" fill="#b0b0ff"/><rect x="425" y="121.9" width="5.3" height="16" fill="#8e8eff"/><rect x="430" y="121.9" width="5.3" height="16" fill="#b0b0ff"/><rect x="435" y="121.9" width="5.3" height="16" fill="#8e8eff"/><rect x="440" y="121.9" width="5.3" height="16" fill="#ffd6d6"/><rect x="445" y="121.9" width="5.3" height="16" fill="#d4d4fd"/><rect x="450" y="121.9" width="5.3" height="16" fill="#f4f2fb"/><rect x="455" y="121.9" width="10.3" height="16" fill="#ffd6d6"/><rect x="465" y="121.9" width="5.3" height="16" fill="#ffa2a2"/><rect x="470" y="121.9" width="5.3" height="16" fill="#d4d4fd"/><rect x="475" y="121.9" width="15.3" height="16" fill="#ffd6d6"/><rect x="490" y="121.9" width="5.3" height="16" fill="#d4d4fd"/><rect x="495" y="121.9" width="5.3" height="16" fill="#f4f2fb"/><rect x="500" y="121.9" width="5.3" height="16" fill="#ffd6d6"/><rect x="505" y="121.9" width="5.3" height="16" fill="#ffa2a2"/><rect x="510" y="121.9" width="5.3" height="16" fill="#ffd6d6"/><rect x="515" y="121.9" width="5.3" height="16" fill="#d4d4fd"/><rect x="520" y="121.9" width="5.3" height="16" fill="#ffa2a2"/><rect x="525" y="121.9" width="5.3" height="16" fill="#ff3c3c"/><rect x="530" y="121.9" width="5.3" height="16" fill="#ff7070"/><rect x="535" y="121.9" width="5.3" height="16" fill="#d4d4fd"/><rect x="540" y="121.9" width="10.3" height="16" fill="#ff3c3c"/><rect x="550" y="121.9" width="5.3" height="16" fill="#ffa2a2"/><rect x="555" y="121.9" width="15.3" height="16" fill="#ff7070"/><rect x="570" y="121.9" width="5.3" height="16" fill="#ffa2a2"/><rect x="575" y="121.9" width="5.3" height="16" fill="#ff7070"/><rect x="580" y="121.9" width="15.3" height="16" fill="#ff0e0e"/><rect x="595" y="121.9" width="5.3" height="16" fill="#ff3c3c"/><rect x="600" y="121.9" width="7" height="16" fill="#ff0e0e"/><rect x="35" y="137.9" width="15.3" height="16" fill="#ff3c3c"/><rect x="50" y="137.9" width="5.3" height="16" fill="#ff7070"/><rect x="55" y="137.9" width="5.3" height="16" fill="#ff3c3c"/><rect x="60" y="137.9" width="20.3" height="16" fill="#b0b0ff"/><rect x="80" y="137.9" width="5.3" height="16" fill="#8e8eff"/><rect x="85" y="137.9" width="10.3" height="16" fill="#b0b0ff"/><rect x="95" y="137.9" width="5.3" height="16" fill="#8e8eff"/><rect x="100" y="137.9" width="10.3" height="16" fill="#6c6cff"/><rect x="110" y="137.9" width="5.3" height="16" fill="#8e8eff"/><rect x="115" y="137.9" width="15.3" height="16" fill="#6c6cff"/><rect x="130" y="137.9" width="5.3" height="16" fill="#8e8eff"/><rect x="135" y="137.9" width="15.3" height="16" fill="#6c6cff"/><rect x="150" y="137.9" width="5.3" height="16" fill="#8e8eff"/><rect x="155" y="137.9" width="5.3" height="16" fill="#6c6cff"/><rect x="160" y="137.9" width="5.3" height="16" fill="#8e8eff"/><rect x="165" y="137.9" width="5.3" height="16" fill="#6c6cff"/><rect x="170" y="137.9" width="10.3" height="16" fill="#b0b0ff"/><rect x="180" y="137.9" width="10.3" height="16" fill="#6c6cff"/><rect x="190" y="137.9" width="5.3" height="16" fill="#b0b0ff"/><rect x="195" y="137.9" width="15.3" height="16" fill="#8e8eff"/><rect x="210" y="137.9" width="10.3" height="16" fill="#6c6cff"/><rect x="220" y="137.9" width="10.3" height="16" fill="#8e8eff"/><rect x="230" y="137.9" width="5.3" height="16" fill="#b0b0ff"/><rect x="235" y="137.9" width="5.3" height="16" fill="#8e8eff"/><rect x="240" y="137.9" width="10.3" height="16" fill="#6c6cff"/><rect x="250" y="137.9" width="10.3" height="16" fill="#b0b0ff"/><rect x="260" y="137.9" width="10.3" height="16" fill="#8e8eff"/><rect x="270" y="137.9" width="5.3" height="16" fill="#6c6cff"/><rect x="275" y="137.9" width="5.3" height="16" fill="#8e8eff"/><rect x="280" y="137.9" width="5.3" height="16" fill="#6c6cff"/><rect x="285" y="137.9" width="10.3" height="16" fill="#ffd6d6"/><rect x="295" y="137.9" width="5.3" height="16" fill="#d4d4fd"/><rect x="300" y="137.9" width="5.3" height="16" fill="#ffa2a2"/><rect x="305" y="137.9" width="5.3" height="16" fill="#ffd6d6"/><rect x="310" y="137.9" width="5.3" height="16" fill="#d4d4fd"/><rect x="315" y="137.9" width="5.3" height="16" fill="#f4f2fb"/><rect x="320" y="137.9" width="5.3" height="16" fill="#ffd6d6"/><rect x="325" y="137.9" width="5.3" height="16" fill="#ffa2a2"/><rect x="330" y="137.9" width="10.3" height="16" fill="#ffd6d6"/><rect x="340" y="137.9" width="10.3" height="16" fill="#f4f2fb"/><rect x="350" y="137.9" width="5.3" height="16" fill="#ffa2a2"/><rect x="355" y="137.9" width="5.3" height="16" fill="#f4f2fb"/><rect x="360" y="137.9" width="5.3" height="16" fill="#ffd6d6"/><rect x="365" y="137.9" width="10.3" height="16" fill="#f4f2fb"/><rect x="375" y="137.9" width="5.3" height="16" fill="#b0b0ff"/><rect x="380" y="137.9" width="5.3" height="16" fill="#6c6cff"/><rect x="385" y="137.9" width="5.3" height="16" fill="#b0b0ff"/><rect x="390" y="137.9" width="10.3" height="16" fill="#d4d4fd"/><rect x="400" y="137.9" width="5.3" height="16" fill="#b0b0ff"/><rect x="405" y="137.9" width="5.3" height="16" fill="#8e8eff"/><rect x="410" y="137.9" width="5.3" height="16" fill="#b0b0ff"/><rect x="415" y="137.9" width="5.3" height="16" fill="#8e8eff"/><rect x="420" y="137.9" width="5.3" height="16" fill="#b0b0ff"/><rect x="425" y="137.9" width="5.3" height="16" fill="#8e8eff"/><rect x="430" y="137.9" width="10.3" height="16" fill="#6c6cff"/><rect x="440" y="137.9" width="5.3" height="16" fill="#ff3c3c"/><rect x="445" y="137.9" width="5.3" height="16" fill="#ffd6d6"/><rect x="450" y="137.9" width="5.3" height="16" fill="#ffa2a2"/><rect x="455" y="137.9" width="5.3" height="16" fill="#ffd6d6"/><rect x="460" y="137.9" width="10.3" height="16" fill="#ffa2a2"/><rect x="470" y="137.9" width="5.3" height="16" fill="#ffd6d6"/><rect x="475" y="137.9" width="5.3" height="16" fill="#ffa2a2"/><rect x="480" y="137.9" width="5.3" height="16" fill="#ff7070"/><rect x="485" y="137.9" width="5.3" height="16" fill="#ffa2a2"/><rect x="490" y="137.9" width="5.3" height="16" fill="#8e8eff"/><rect x="495" y="137.9" width="5.3" height="16" fill="#ffa2a2"/><rect x="500" y="137.9" width="5.3" height="16" fill="#ffd6d6"/><rect x="505" y="137.9" width="10.3" height="16" fill="#ffa2a2"/><rect x="515" y="137.9" width="5.3" height="16" fill="#ffd6d6"/><rect x="520" y="137.9" width="5.3" height="16" fill="#b0b0ff"/><rect x="525" y="137.9" width="5.3" height="16" fill="#ff3c3c"/><rect x="530" y="137.9" width="5.3" height="16" fill="#ff7070"/><rect x="535" y="137.9" width="5.3" height="16" fill="#ffa2a2"/><rect x="540" y="137.9" width="5.3" height="16" fill="#ff3c3c"/><rect x="545" y="137.9" width="5.3" height="16" fill="#ff7070"/><rect x="550" y="137.9" width="30.3" height="16" fill="#ff3c3c"/><rect x="580" y="137.9" width="27" height="16" fill="#ff0e0e"/><rect x="35" y="153.9" width="5.3" height="16" fill="#d4d4fd"/><rect x="40" y="153.9" width="5.3" height="16" fill="#b0b0ff"/><rect x="45" y="153.9" width="15.3" height="16" fill="#ffa2a2"/><rect x="60" y="153.9" width="5.3" height="16" fill="#b0b0ff"/><rect x="65" y="153.9" width="5.3" height="16" fill="#d4d4fd"/><rect x="70" y="153.9" width="20.3" height="16" fill="#b0b0ff"/><rect x="90" y="153.9" width="5.3" height="16" fill="#d4d4fd"/><rect x="95" y="153.9" width="5.3" height="16" fill="#b0b0ff"/><rect x="100" y="153.9" width="5.3" height="16" fill="#8e8eff"/><rect x="105" y="153.9" width="10.3" height="16" fill="#b0b0ff"/><rect x="115" y="153.9" width="30.3" height="16" fill="#8e8eff"/><rect x="145" y="153.9" width="5.3" height="16" fill="#b0b0ff"/><rect x="150" y="153.9" width="5.3" height="16" fill="#8e8eff"/><rect x="155" y="153.9" width="5.3" height="16" fill="#6c6cff"/><rect x="160" y="153.9" width="15.3" height="16" fill="#8e8eff"/><rect x="175" y="153.9" width="5.3" height="16" fill="#b0b0ff"/><rect x="180" y="153.9" width="15.3" height="16" fill="#8e8eff"/><rect x="195" y="153.9" width="5.3" height="16" fill="#b0b0ff"/><rect x="200" y="153.9" width="20.3" height="16" fill="#8e8eff"/><rect x="220" y="153.9" width="5.3" height="16" fill="#b0b0ff"/><rect x="225" y="153.9" width="5.3" height="16" fill="#d4d4fd"/><rect x="230" y="153.9" width="5.3" height="16" fill="#f4f2fb"/><rect x="235" y="153.9" width="10.3" height="16" fill="#8e8eff"/><rect x="245" y="153.9" width="5.3" height="16" fill="#b0b0ff"/><rect x="250" y="153.9" width="10.3" height="16" fill="#d4d4fd"/><rect x="260" y="153.9" width="15.3" height="16" fill="#b0b0ff"/><rect x="275" y="153.9" width="5.3" height="16" fill="#d4d4fd"/><rect x="280" y="153.9" width="5.3" height="16" fill="#b0b0ff"/><rect x="285" y="153.9" width="5.3" height="16" fill="#f4f2fb"/><rect x="290" y="153.9" width="5.3" height="16" fill="#d4d4fd"/><rect x="295" y="153.9" width="5.3" height="16" fill="#b0b0ff"/><rect x="300" y="153.9" width="5.3" height="16" fill="#f4f2fb"/><rect x="305" y="153.9" width="5.3" height="16" fill="#ffd6d6"/><rect x="310" y="153.9" width="10.3" height="16" fill="#f4f2fb"/><rect x="320" y="153.9" width="20.3" height="16" fill="#ffd6d6"/><rect x="340" y="153.9" width="5.3" height="16" fill="#f4f2fb"/><rect x="345" y="153.9" width="5.3" height="16" fill="#d4d4fd"/><rect x="350" y="153.9" width="5.3" height="16" fill="#ffd6d6"/><rect x="355" y="153.9" width="5.3" height="16" fill="#8e8eff"/><rect x="360" y="153.9" width="10.3" height="16" fill="#b0b0ff"/><rect x="370" y="153.9" width="5.3" height="16" fill="#d4d4fd"/><rect x="375" y="153.9" width="5.3" height="16" fill="#f4f2fb"/><rect x="380" y="153.9" width="15.3" height="16" fill="#d4d4fd"/><rect x="395" y="153.9" width="5.3" height="16" fill="#b0b0ff"/><rect x="400" y="153.9" width="5.3" height="16" fill="#8e8eff"/><rect x="405" y="153.9" width="5.3" height="16" fill="#b0b0ff"/><rect x="410" y="153.9" width="15.3" height="16" fill="#8e8eff"/><rect x="425" y="153.9" width="5.3" height="16" fill="#b0b0ff"/><rect x="430" y="153.9" width="10.3" height="16" fill="#8e8eff"/><rect x="440" y="153.9" width="5.3" height="16" fill="#ffa2a2"/><rect x="445" y="153.9" width="5.3" height="16" fill="#f4f2fb"/><rect x="450" y="153.9" width="15.3" height="16" fill="#ffd6d6"/><rect x="465" y="153.9" width="5.3" height="16" fill="#ff7070"/><rect x="470" y="153.9" width="10.3" height="16" fill="#ffa2a2"/><rect x="480" y="153.9" width="5.3" height="16" fill="#ffd6d6"/><rect x="485" y="153.9" width="5.3" height="16" fill="#ffa2a2"/><rect x="490" y="153.9" width="10.3" height="16" fill="#ffd6d6"/><rect x="500" y="153.9" width="10.3" height="16" fill="#ffa2a2"/><rect x="510" y="153.9" width="10.3" height="16" fill="#ffd6d6"/><rect x="520" y="153.9" width="5.3" height="16" fill="#d6d6d6"/><rect x="525" y="153.9" width="5.3" height="16" fill="#ff3c3c"/><rect x="530" y="153.9" width="5.3" height="16" fill="#ffa2a2"/><rect x="535" y="153.9" width="10.3" height="16" fill="#ff7070"/><rect x="545" y="153.9" width="5.3" height="16" fill="#ff0e0e"/><rect x="550" y="153.9" width="10.3" height="16" fill="#ff3c3c"/><rect x="560" y="153.9" width="5.3" height="16" fill="#ff7070"/><rect x="565" y="153.9" width="5.3" height="16" fill="#ffa2a2"/><rect x="570" y="153.9" width="10.3" height="16" fill="#ff3c3c"/><rect x="580" y="153.9" width="15.3" height="16" fill="#ff0e0e"/><rect x="595" y="153.9" width="5.3" height="16" fill="#ff3c3c"/><rect x="600" y="153.9" width="7" height="16" fill="#ff0e0e"/><rect x="35" y="169.9" width="5.3" height="16" fill="#b0b0ff"/><rect x="40" y="169.9" width="5.3" height="16" fill="#ffa2a2"/><rect x="45" y="169.9" width="5.3" height="16" fill="#ff3c3c"/><rect x="50" y="169.9" width="10.3" height="16" fill="#ffa2a2"/><rect x="60" y="169.9" width="5.3" height="16" fill="#b0b0ff"/><rect x="65" y="169.9" width="5.3" height="16" fill="#d4d4fd"/><rect x="70" y="169.9" width="5.3" height="16" fill="#b0b0ff"/><rect x="75" y="169.9" width="10.3" height="16" fill="#6c6cff"/><rect x="85" y="169.9" width="10.3" height="16" fill="#8e8eff"/><rect x="95" y="169.9" width="5.3" height="16" fill="#d4d4fd"/><rect x="100" y="169.9" width="10.3" height="16" fill="#8e8eff"/><rect x="110" y="169.9" width="25.3" height="16" fill="#6c6cff"/><rect x="135" y="169.9" width="10.3" height="16" fill="#b0b0ff"/><rect x="145" y="169.9" width="5.3" height="16" fill="#8e8eff"/><rect x="150" y="169.9" width="5.3" height="16" fill="#6c6cff"/><rect x="155" y="169.9" width="5.3" height="16" fill="#8e8eff"/><rect x="160" y="169.9" width="15.3" height="16" fill="#6c6cff"/><rect x="175" y="169.9" width="5.3" height="16" fill="#8e8eff"/><rect x="180" y="169.9" width="25.3" height="16" fill="#6c6cff"/><rect x="205" y="169.9" width="15.3" height="16" fill="#b0b0ff"/><rect x="220" y="169.9" width="15.3" height="16" fill="#d4d4fd"/><rect x="235" y="169.9" width="5.3" height="16" fill="#b0b0ff"/><rect x="240" y="169.9" width="5.3" height="16" fill="#6c6cff"/><rect x="245" y="169.9" width="5.3" height="16" fill="#b0b0ff"/><rect x="250" y="169.9" width="15.3" height="16" fill="#d4d4fd"/><rect x="265" y="169.9" width="5.3" height="16" fill="#8e8eff"/><rect x="270" y="169.9" width="5.3" height="16" fill="#6c6cff"/><rect x="275" y="169.9" width="5.3" height="16" fill="#8e8eff"/><rect x="280" y="169.9" width="5.3" height="16" fill="#b0b0ff"/><rect x="285" y="169.9" width="5.3" height="16" fill="#d4d4fd"/><rect x="290" y="169.9" width="5.3" height="16" fill="#ffd6d6"/><rect x="295" y="169.9" width="5.3" height="16" fill="#d4d4fd"/><rect x="300" y="169.9" width="5.3" height="16" fill="#ffa2a2"/><rect x="305" y="169.9" width="5.3" height="16" fill="#ffd6d6"/><rect x="310" y="169.9" width="10.3" height="16" fill="#f4f2fb"/><rect x="320" y="169.9" width="5.3" height="16" fill="#ffd6d6"/><rect x="325" y="169.9" width="5.3" height="16" fill="#ffa2a2"/><rect x="330" y="169.9" width="5.3" height="16" fill="#f4f2fb"/><rect x="335" y="169.9" width="5.3" height="16" fill="#ffa2a2"/><rect x="340" y="169.9" width="5.3" height="16" fill="#ffd6d6"/><rect x="345" y="169.9" width="5.3" height="16" fill="#f4f2fb"/><rect x="350" y="169.9" width="15.3" height="16" fill="#b0b0ff"/><rect x="365" y="169.9" width="30.3" height="16" fill="#d4d4fd"/><rect x="395" y="169.9" width="5.3" height="16" fill="#8e8eff"/><rect x="400" y="169.9" width="5.3" height="16" fill="#b0b0ff"/><rect x="405" y="169.9" width="10.3" height="16" fill="#d4d4fd"/><rect x="415" y="169.9" width="15.3" height="16" fill="#8e8eff"/><rect x="430" y="169.9" width="5.3" height="16" fill="#6c6cff"/><rect x="435" y="169.9" width="5.3" height="16" fill="#b0b0ff"/><rect x="440" y="169.9" width="10.3" height="16" fill="#ffd6d6"/><rect x="450" y="169.9" width="5.3" height="16" fill="#d4d4fd"/><rect x="455" y="169.9" width="5.3" height="16" fill="#ffd6d6"/><rect x="460" y="169.9" width="15.3" height="16" fill="#ffa2a2"/><rect x="475" y="169.9" width="5.3" height="16" fill="#ff7070"/><rect x="480" y="169.9" width="5.3" height="16" fill="#ff3c3c"/><rect x="485" y="169.9" width="5.3" height="16" fill="#ff7070"/><rect x="490" y="169.9" width="5.3" height="16" fill="#d4d4fd"/><rect x="495" y="169.9" width="5.3" height="16" fill="#ffd6d6"/><rect x="500" y="169.9" width="5.3" height="16" fill="#ffa2a2"/><rect x="505" y="169.9" width="5.3" height="16" fill="#ff3c3c"/><rect x="510" y="169.9" width="5.3" height="16" fill="#ffa2a2"/><rect x="515" y="169.9" width="5.3" height="16" fill="#b0b0ff"/><rect x="520" y="169.9" width="5.3" height="16" fill="#d6d6d6"/><rect x="525" y="169.9" width="5.3" height="16" fill="#ffa2a2"/><rect x="530" y="169.9" width="5.3" height="16" fill="#ffd6d6"/><rect x="535" y="169.9" width="10.3" height="16" fill="#ff7070"/><rect x="545" y="169.9" width="15.3" height="16" fill="#ff3c3c"/><rect x="560" y="169.9" width="5.3" height="16" fill="#ff7070"/><rect x="565" y="169.9" width="15.3" height="16" fill="#ff3c3c"/><rect x="580" y="169.9" width="15.3" height="16" fill="#ff0e0e"/><rect x="595" y="169.9" width="5.3" height="16" fill="#ff3c3c"/><rect x="600" y="169.9" width="7" height="16" fill="#ff0e0e"/><rect x="35" y="0" width="2.8" height="15.95" fill="#ffa2a2"/><rect x="35" y="53.1" width="2.8" height="15.9" fill="#ffa2a2"/><rect x="35" y="69" width="2.8" height="15.9" fill="#ffa2a2"/></g>
<path d="M21.7 8L35 8 M25 24L35 24 M25 40L35 40 M25 24L25 40 M21.7 32L25 32 M21.7 8L21.7 32 M16.6 20L21.7 20 M22.8 61.1L35 61.1 M25.4 76.9L35 76.9 M28.3 92.9L35 92.9 M28.3 108.8L35 108.8 M28.3 92.9L28.3 108.8 M25.4 100.9L28.3 100.9 M25.4 76.9L25.4 100.9 M22.8 88.9L25.4 88.9 M22.8 61.1L22.8 88.9 M18.8 75L22.8 75 M20.6 130L35 130 M24.6 146L35 146 M27.2 162L35 162 M27.2 178L35 178 M27.2 162L27.2 178 M24.6 170L27.2 170 M24.6 146L24.6 170 M20.6 158L24.6 158 M20.6 130L20.6 158 M18.8 144L20.6 144 M18.8 75L18.8 144 M16.6 109.5L18.8 109.5 M16.6 20L16.6 109.5" stroke="#1e1e1e" fill="none" stroke-width="1.15"/>
<text x="609.7" y="12.97" font-size="9.5" text-anchor="start" fill="#000">10F<tspan font-size="5" dy="3">2</tspan></text>
<text x="609.7" y="28.95" font-size="9.5" text-anchor="start" fill="#000">135F<tspan font-size="5" dy="3">2</tspan></text>
<text x="609.7" y="44.98" font-size="9.5" text-anchor="start" fill="#000">13F<tspan font-size="5" dy="3">2</tspan></text>
<text x="609.7" y="66.05" font-size="9.5" text-anchor="start" fill="#000">8F<tspan font-size="5" dy="3">1</tspan></text>
<text x="609.7" y="81.95" font-size="9.5" text-anchor="start" fill="#000">27F<tspan font-size="5" dy="3">1</tspan></text>
<text x="609.7" y="97.85" font-size="9.5" text-anchor="start" fill="#000">17F<tspan font-size="5" dy="3">1</tspan></text>
<text x="609.7" y="113.75" font-size="9.5" text-anchor="start" fill="#000">96F<tspan font-size="5" dy="3">1</tspan></text>
<text x="609.7" y="134.9" font-size="9.5" text-anchor="start" fill="#000">22E</text>
<text x="609.7" y="150.9" font-size="9.5" text-anchor="start" fill="#000">3E</text>
<text x="609.7" y="166.9" font-size="9.5" text-anchor="start" fill="#000">13E</text>
<text x="609.7" y="182.9" font-size="9.5" text-anchor="start" fill="#000">17E</text>
<text x="48.5" y="192" font-size="8.2" text-anchor="end" fill="#000" transform="rotate(-45 48.5 192)">Erdafitinib</text>
<text x="59" y="191.5" font-size="8.2" text-anchor="end" fill="#000" transform="rotate(-45 59 191.5)">AZD4547</text>
<text x="400.5" y="192.5" font-size="8.2" text-anchor="end" fill="#000" transform="rotate(-45 400.5 192.5)">Afatinib</text>
<text x="540.5" y="192" font-size="8.2" text-anchor="end" fill="#000" transform="rotate(-45 540.5 192)">Romidepsin</text>
<text x="550" y="192" font-size="8.2" text-anchor="end" fill="#000" transform="rotate(-45 550 192)">Volasertib</text>
<text x="560" y="192" font-size="8.2" text-anchor="end" fill="#000" transform="rotate(-45 560 192)">Panobinostat</text>
<text x="590" y="192" font-size="8.2" text-anchor="end" fill="#000" transform="rotate(-45 590 192)">Bortezomib</text>
<text x="605.5" y="192" font-size="8.2" text-anchor="end" fill="#000" transform="rotate(-45 605.5 192)">Fimepinostat</text>
<defs><linearGradient id="cb" x1="0" y1="0" x2="0" y2="1"><stop offset="0" stop-color="#0808ff"/><stop offset="0.5" stop-color="#ffffff"/><stop offset="1" stop-color="#ff0000"/></linearGradient></defs>
<rect x="654.4" y="42.1" width="7.2" height="105.9" fill="url(#cb)"/>
<text x="653" y="35.5" font-size="10" text-anchor="start" fill="#000">AUC</text>
<text x="664.2" y="46.2" font-size="7.2" text-anchor="start" fill="#000">2</text>
<text x="664.2" y="72.4" font-size="7.2" text-anchor="start" fill="#000">1</text>
<text x="664.2" y="98.6" font-size="7.2" text-anchor="start" fill="#000">0</text>
<text x="663.5" y="124.8" font-size="7.2" text-anchor="start" fill="#000">−1</text>
<text x="663.5" y="151.5" font-size="7.2" text-anchor="start" fill="#000">−2</text>
<text x="-1" y="7.9" font-size="9.8" text-anchor="start" fill="#000" font-weight="bold">a</text>
<path d="M41 258.69 L42.48 258.76 L43.95 258.86 L45.42 258.98 L46.9 259.16 L48.38 259.39 L49.85 259.7 L51.33 260.12 L52.8 260.69 L54.27 261.44 L55.75 262.43 L57.22 263.73 L58.7 265.41 L60.17 267.56 L61.65 270.23 L63.12 273.48 L64.6 277.32 L66.08 281.68 L67.55 286.46 L69.02 291.45 L70.5 296.43 L71.97 301.18 L73.45 305.51 L74.93 309.3 L76.4 312.51 L77.88 315.13 L79.35 317.24 L80.82 318.88 L82.3 320.16 L83.78 321.13 L85.25 321.86 L86.72 322.41 L88.2 322.83 L89.67 323.13 L91.15 323.36 L92.62 323.53 L94.1 323.65 L95.58 323.74 L97.05 323.81 L98.53 323.86 L100 323.9 L101.47 323.92 L102.95 323.94 L104.42 323.96 L105.9 323.97 L107.38 323.98 L108.85 323.98 L110.32 323.99 L111.8 323.99 L113.27 323.99 L114.75 324 L116.22 324 L117.7 324 L119.17 324 L120.65 324 L122.12 324 L123.6 324 L125.08 324 L126.55 324 L128.03 324 L129.5 324 L129.5 324 L128.03 324 L126.55 324 L125.08 324 L123.6 324 L122.12 324 L120.65 324 L119.17 324 L117.7 324 L116.22 324 L114.75 324 L113.27 323.99 L111.8 323.99 L110.32 323.99 L108.85 323.98 L107.38 323.98 L105.9 323.97 L104.42 323.96 L102.95 323.94 L101.47 323.91 L100 323.88 L98.53 323.83 L97.05 323.75 L95.58 323.65 L94.1 323.51 L92.62 323.31 L91.15 323.03 L89.67 322.64 L88.2 322.1 L86.72 321.34 L85.25 320.31 L83.78 318.91 L82.3 317.03 L80.82 314.57 L79.35 311.42 L77.88 307.54 L76.4 302.93 L74.93 297.72 L73.45 292.15 L71.97 286.53 L70.5 281.18 L69.02 276.36 L67.55 272.24 L66.08 268.86 L64.6 266.19 L63.12 264.14 L61.65 262.59 L60.17 261.45 L58.7 260.62 L57.22 260.01 L55.75 259.58 L54.27 259.27 L52.8 259.05 L51.33 258.89 L49.85 258.77 L48.38 258.69 L46.9 258.64 L45.42 258.6 L43.95 258.57 L42.48 258.55 L41 258.53 Z" stroke="none" fill="#8ad2b6" stroke-width="1"/>
<path d="M41 257.9 L41 324 L130.3 324" stroke="#000" fill="none" stroke-width="2" stroke-linecap="square"/>
<line x1="41" y1="324" x2="41" y2="328" stroke="#000" stroke-width="1.9"/>
<line x1="58.7" y1="324" x2="58.7" y2="328" stroke="#000" stroke-width="1.9"/>
<line x1="76.4" y1="324" x2="76.4" y2="328" stroke="#000" stroke-width="1.9"/>
<line x1="94.1" y1="324" x2="94.1" y2="328" stroke="#000" stroke-width="1.9"/>
<line x1="111.8" y1="324" x2="111.8" y2="328" stroke="#000" stroke-width="1.9"/>
<line x1="129.5" y1="324" x2="129.5" y2="328" stroke="#000" stroke-width="1.9"/>
<line x1="37" y1="258.5" x2="41" y2="258.5" stroke="#000" stroke-width="1.9"/>
<text x="36.4" y="260.8" font-size="7" text-anchor="end" fill="#000">100</text>
<line x1="37" y1="291.25" x2="41" y2="291.25" stroke="#000" stroke-width="1.9"/>
<text x="36.4" y="293.55" font-size="7" text-anchor="end" fill="#000">50</text>
<line x1="37" y1="324" x2="41" y2="324" stroke="#000" stroke-width="1.9"/>
<text x="36.4" y="326.3" font-size="7" text-anchor="end" fill="#000">0</text>
<text x="43.2" y="332.6" font-size="7" text-anchor="end" fill="#000" transform="rotate(-45 43.2 332.6)">0.0001</text>
<text x="60.9" y="332.6" font-size="7" text-anchor="end" fill="#000" transform="rotate(-45 60.9 332.6)">0.001</text>
<text x="78.6" y="332.6" font-size="7" text-anchor="end" fill="#000" transform="rotate(-45 78.6 332.6)">0.01</text>
<text x="96.3" y="332.6" font-size="7" text-anchor="end" fill="#000" transform="rotate(-45 96.3 332.6)">0.1</text>
<text x="114" y="332.6" font-size="7" text-anchor="end" fill="#000" transform="rotate(-45 114 332.6)">1</text>
<text x="131.7" y="332.6" font-size="7" text-anchor="end" fill="#000" transform="rotate(-45 131.7 332.6)">10</text>
<path d="M41 258.76 L42.48 258.85 L43.95 258.98 L45.42 259.15 L46.9 259.38 L48.38 259.69 L49.85 260.1 L51.33 260.66 L52.8 261.41 L54.27 262.39 L55.75 263.67 L57.22 265.34 L58.7 267.46 L60.17 270.11 L61.65 273.34 L63.12 277.15 L64.6 281.5 L66.08 286.26 L67.55 291.25 L69.02 296.24 L70.5 301 L71.97 305.35 L73.45 309.16 L74.93 312.39 L76.4 315.04 L77.88 317.16 L79.35 318.83 L80.82 320.11 L82.3 321.09 L83.78 321.84 L85.25 322.4 L86.72 322.81 L88.2 323.12 L89.67 323.35 L91.15 323.52 L92.62 323.65 L94.1 323.74 L95.58 323.81 L97.05 323.86 L98.53 323.9 L100 323.92 L101.47 323.94 L102.95 323.96 L104.42 323.97 L105.9 323.98 L107.38 323.98 L108.85 323.99 L110.32 323.99 L111.8 323.99 L113.27 324 L114.75 324 L116.22 324 L117.7 324 L119.17 324 L120.65 324 L122.12 324 L123.6 324 L125.08 324 L126.55 324 L128.03 324 L129.5 324" stroke="#3a7fb0" fill="none" stroke-width="2.5" stroke-linejoin="round" stroke-linecap="round"/>
<path d="M41 258.69 L42.48 258.76 L43.95 258.86 L45.42 258.98 L46.9 259.16 L48.38 259.39 L49.85 259.7 L51.33 260.12 L52.8 260.69 L54.27 261.44 L55.75 262.43 L57.22 263.73 L58.7 265.41 L60.17 267.56 L61.65 270.23 L63.12 273.48 L64.6 277.32 L66.08 281.68 L67.55 286.46 L69.02 291.45 L70.5 296.43 L71.97 301.18 L73.45 305.51 L74.93 309.3 L76.4 312.51 L77.88 315.13 L79.35 317.24 L80.82 318.88 L82.3 320.16 L83.78 321.13 L85.25 321.86 L86.72 322.41 L88.2 322.83 L89.67 323.13 L91.15 323.36 L92.62 323.53 L94.1 323.65 L95.58 323.74 L97.05 323.81 L98.53 323.86 L100 323.9 L101.47 323.92 L102.95 323.94 L104.42 323.96 L105.9 323.97 L107.38 323.98 L108.85 323.98 L110.32 323.99 L111.8 323.99 L113.27 323.99 L114.75 324 L116.22 324 L117.7 324 L119.17 324 L120.65 324 L122.12 324 L123.6 324 L125.08 324 L126.55 324 L128.03 324 L129.5 324" stroke="#8dd3b5" fill="none" stroke-width="2.5" stroke-linejoin="round" stroke-linecap="round"/>
<path d="M41 258.58 L42.48 258.62 L43.95 258.66 L45.42 258.72 L46.9 258.81 L48.38 258.93 L49.85 259.09 L51.33 259.32 L52.8 259.63 L54.27 260.05 L55.75 260.63 L57.22 261.42 L58.7 262.47 L60.17 263.88 L61.65 265.72 L63.12 268.1 L64.6 271.09 L66.08 274.75 L67.55 279.05 L69.02 283.9 L70.5 289.12 L71.97 294.44 L73.45 299.61 L74.93 304.36 L76.4 308.54 L77.88 312.06 L79.35 314.92 L80.82 317.18 L82.3 318.93 L83.78 320.26 L85.25 321.26 L86.72 322 L88.2 322.54 L89.67 322.94 L91.15 323.23 L92.62 323.45 L94.1 323.6 L95.58 323.71 L97.05 323.79 L98.53 323.85 L100 323.89 L101.47 323.92 L102.95 323.94 L104.42 323.96 L105.9 323.97 L107.38 323.98 L108.85 323.98 L110.32 323.99 L111.8 323.99 L113.27 323.99 L114.75 324 L116.22 324 L117.7 324 L119.17 324 L120.65 324 L122.12 324 L123.6 324 L125.08 324 L126.55 324 L128.03 324 L129.5 324" stroke="#55b993" fill="none" stroke-width="2.5" stroke-linejoin="round" stroke-linecap="round"/>
<path d="M41 258.53 L42.48 258.55 L43.95 258.57 L45.42 258.6 L46.9 258.64 L48.38 258.69 L49.85 258.77 L51.33 258.89 L52.8 259.05 L54.27 259.27 L55.75 259.58 L57.22 260.01 L58.7 260.62 L60.17 261.45 L61.65 262.59 L63.12 264.14 L64.6 266.19 L66.08 268.86 L67.55 272.24 L69.02 276.36 L70.5 281.18 L71.97 286.53 L73.45 292.15 L74.93 297.72 L76.4 302.93 L77.88 307.54 L79.35 311.42 L80.82 314.57 L82.3 317.03 L83.78 318.91 L85.25 320.31 L86.72 321.34 L88.2 322.1 L89.67 322.64 L91.15 323.03 L92.62 323.31 L94.1 323.51 L95.58 323.65 L97.05 323.75 L98.53 323.83 L100 323.88 L101.47 323.91 L102.95 323.94 L104.42 323.96 L105.9 323.97 L107.38 323.98 L108.85 323.98 L110.32 323.99 L111.8 323.99 L113.27 323.99 L114.75 324 L116.22 324 L117.7 324 L119.17 324 L120.65 324 L122.12 324 L123.6 324 L125.08 324 L126.55 324 L128.03 324 L129.5 324" stroke="#129f6f" fill="none" stroke-width="2.5" stroke-linejoin="round" stroke-linecap="round"/>
<path d="M41 263.04 L42.48 264.52 L43.95 266.76 L45.42 270.06 L46.9 274.64 L48.38 280.61 L49.85 287.69 L51.33 295.27 L52.8 302.52 L54.27 308.74 L55.75 313.6 L57.22 317.13 L58.7 319.57 L60.17 321.18 L61.65 322.23 L63.12 322.89 L64.6 323.31 L66.08 323.57 L67.55 323.73 L69.02 323.83 L70.5 323.9 L71.97 323.94 L73.45 323.96 L74.93 323.98 L76.4 323.98 L77.88 323.99 L79.35 323.99 L80.82 324 L82.3 324 L83.78 324 L85.25 324 L86.72 324 L88.2 324 L89.67 324 L91.15 324 L92.62 324 L94.1 324 L95.58 324 L97.05 324 L98.53 324 L100 324 L101.47 324 L102.95 324 L104.42 324 L105.9 324 L107.38 324 L108.85 324 L110.32 324 L111.8 324 L113.27 324 L114.75 324 L116.22 324 L117.7 324 L119.17 324 L120.65 324 L122.12 324 L123.6 324 L125.08 324 L126.55 324 L128.03 324 L129.5 324" stroke="#0b4d32" fill="none" stroke-width="2.5" stroke-linejoin="round" stroke-linecap="round"/>
<path d="M41 269.77 L42.48 270.67 L43.95 271.72 L45.42 272.94 L46.9 274.33 L48.38 275.93 L49.85 277.72 L51.33 279.72 L52.8 281.92 L54.27 284.29 L55.75 286.83 L57.22 289.48 L58.7 292.21 L60.17 294.98 L61.65 297.72 L63.12 300.39 L64.6 302.95 L66.08 305.36 L67.55 307.59 L69.02 309.63 L70.5 311.47 L71.97 313.1 L73.45 314.54 L74.93 315.79 L76.4 316.88 L77.88 317.8 L79.35 318.6 L80.82 319.27 L82.3 319.84 L83.78 320.31 L85.25 320.71 L86.72 321.05 L88.2 321.33 L89.67 321.56 L91.15 321.76 L92.62 321.92 L94.1 322.05 L95.58 322.16 L97.05 322.25 L98.53 322.33 L100 322.39 L101.47 322.44 L102.95 322.49 L104.42 322.52 L105.9 322.55 L107.38 322.58 L108.85 322.6 L110.32 322.61 L111.8 322.63 L113.27 322.64 L114.75 322.65 L116.22 322.65 L117.7 322.66 L119.17 322.67 L120.65 322.67 L122.12 322.67 L123.6 322.68 L125.08 322.68 L126.55 322.68 L128.03 322.68 L129.5 322.68" stroke="#f2cd7c" fill="none" stroke-width="2.5" stroke-linejoin="round" stroke-linecap="round"/>
<path d="M41 260.91 L42.48 261.46 L43.95 262.11 L45.42 262.9 L46.9 263.85 L48.38 264.98 L49.85 266.32 L51.33 267.89 L52.8 269.71 L54.27 271.79 L55.75 274.16 L57.22 276.79 L58.7 279.67 L60.17 282.76 L61.65 286.02 L63.12 289.38 L64.6 292.76 L66.08 296.1 L67.55 299.31 L69.02 302.35 L70.5 305.17 L71.97 307.72 L73.45 310.01 L74.93 312.02 L76.4 313.77 L77.88 315.27 L79.35 316.55 L80.82 317.62 L82.3 318.52 L83.78 319.27 L85.25 319.9 L86.72 320.41 L88.2 320.83 L89.67 321.18 L91.15 321.46 L92.62 321.69 L94.1 321.88 L95.58 322.03 L97.05 322.15 L98.53 322.26 L100 322.34 L101.47 322.4 L102.95 322.46 L104.42 322.5 L105.9 322.54 L107.38 322.57 L108.85 322.59 L110.32 322.61 L111.8 322.62 L113.27 322.64 L114.75 322.65 L116.22 322.66 L117.7 322.66 L119.17 322.67 L120.65 322.67 L122.12 322.68 L123.6 322.68 L125.08 322.68 L126.55 322.68 L128.03 322.68 L129.5 322.68" stroke="#efc25f" fill="none" stroke-width="2.5" stroke-linejoin="round" stroke-linecap="round"/>
<path d="M41 270.65 L42.48 271.36 L43.95 272.19 L45.42 273.17 L46.9 274.3 L48.38 275.6 L49.85 277.08 L51.33 278.75 L52.8 280.62 L54.27 282.68 L55.75 284.92 L57.22 287.31 L58.7 289.82 L60.17 292.42 L61.65 295.05 L63.12 297.68 L64.6 300.25 L66.08 302.72 L67.55 305.05 L69.02 307.21 L70.5 309.2 L71.97 310.99 L73.45 312.59 L74.93 314 L76.4 315.23 L77.88 316.29 L79.35 317.2 L80.82 317.99 L82.3 318.65 L83.78 319.21 L85.25 319.68 L86.72 320.08 L88.2 320.41 L89.67 320.69 L91.15 320.92 L92.62 321.11 L94.1 321.27 L95.58 321.4 L97.05 321.51 L98.53 321.6 L100 321.68 L101.47 321.74 L102.95 321.79 L104.42 321.83 L105.9 321.87 L107.38 321.9 L108.85 321.92 L110.32 321.94 L111.8 321.96 L113.27 321.97 L114.75 321.98 L116.22 321.99 L117.7 322 L119.17 322.01 L120.65 322.01 L122.12 322.01 L123.6 322.02 L125.08 322.02 L126.55 322.02 L128.03 322.03 L129.5 322.03" stroke="#e9ad37" fill="none" stroke-width="2.5" stroke-linejoin="round" stroke-linecap="round"/>
<path d="M57.81 272.93 L59.01 275.22 L60.2 277.73 L61.4 280.45 L62.59 283.33 L63.79 286.35 L64.98 289.44 L66.18 292.56 L67.37 295.63 L68.57 298.62 L69.76 301.46 L70.96 304.13 L72.15 306.58 L73.35 308.81 L74.54 310.81 L75.74 312.58 L76.93 314.12 L78.13 315.47 L79.32 316.62 L80.52 317.61 L81.71 318.45 L82.9 319.15 L84.1 319.75 L85.29 320.25 L86.49 320.67 L87.68 321.01 L88.88 321.3 L90.07 321.54 L91.27 321.74 L92.46 321.91 L93.66 322.05 L94.85 322.16 L96.05 322.25 L97.24 322.33 L98.44 322.39 L99.63 322.44 L100.83 322.49 L102.02 322.52 L103.22 322.55 L104.41 322.58 L105.61 322.6 L106.8 322.61 L107.99 322.63 L109.19 322.64 L110.38 322.65 L111.58 322.65 L112.77 322.66 L113.97 322.67 L115.16 322.67 L116.36 322.67 L117.55 322.68 L118.75 322.68 L119.94 322.68 L121.14 322.68 L122.33 322.68 L123.53 322.68 L124.72 322.69 L125.92 322.69 L127.11 322.69 L128.31 322.69 L129.5 322.69" stroke="#e39e0b" fill="none" stroke-width="2.5" stroke-linejoin="round" stroke-linecap="round"/>
<path d="M41 274.99 L42.48 275.97 L43.95 277.09 L45.42 278.35 L46.9 279.76 L48.38 281.33 L49.85 283.05 L51.33 284.91 L52.8 286.91 L54.27 289.03 L55.75 291.24 L57.22 293.52 L58.7 295.83 L60.17 298.15 L61.65 300.43 L63.12 302.64 L64.6 304.76 L66.08 306.76 L67.55 308.62 L69.02 310.34 L70.5 311.91 L71.97 313.32 L73.45 314.58 L74.93 315.7 L76.4 316.68 L77.88 317.55 L79.35 318.29 L80.82 318.94 L82.3 319.5 L83.78 319.98 L85.25 320.39 L86.72 320.74 L88.2 321.04 L89.67 321.3 L91.15 321.51 L92.62 321.7 L94.1 321.85 L95.58 321.98 L97.05 322.09 L98.53 322.19 L100 322.27 L101.47 322.33 L102.95 322.39 L104.42 322.44 L105.9 322.48 L107.38 322.51 L108.85 322.54 L110.32 322.56 L111.8 322.58 L113.27 322.6 L114.75 322.61 L116.22 322.63 L117.7 322.64 L119.17 322.64 L120.65 322.65 L122.12 322.66 L123.6 322.66 L125.08 322.67 L126.55 322.67 L128.03 322.67 L129.5 322.68" stroke="#f2cd7c" fill="none" stroke-width="2.5" stroke-linejoin="round" stroke-linecap="round"/>
<text x="78.7" y="239.3" font-size="9.5" text-anchor="middle" fill="#000">Romidepsin</text>
<text x="78.7" y="249.1" font-size="8.4" text-anchor="middle" fill="#000">(HDAC1/2)</text>
<path d="M168 257.4 L168 322.4 L255.4 322.4" stroke="#000" fill="none" stroke-width="2" stroke-linecap="square"/>
<line x1="168" y1="322.4" x2="168" y2="326.4" stroke="#000" stroke-width="1.9"/>
<line x1="185.32" y1="322.4" x2="185.32" y2="326.4" stroke="#000" stroke-width="1.9"/>
<line x1="202.64" y1="322.4" x2="202.64" y2="326.4" stroke="#000" stroke-width="1.9"/>
<line x1="219.96" y1="322.4" x2="219.96" y2="326.4" stroke="#000" stroke-width="1.9"/>
<line x1="237.28" y1="322.4" x2="237.28" y2="326.4" stroke="#000" stroke-width="1.9"/>
<line x1="254.6" y1="322.4" x2="254.6" y2="326.4" stroke="#000" stroke-width="1.9"/>
<line x1="164" y1="258" x2="168" y2="258" stroke="#000" stroke-width="1.9"/>
<text x="163.4" y="260.3" font-size="7" text-anchor="end" fill="#000">100</text>
<line x1="164" y1="290.2" x2="168" y2="290.2" stroke="#000" stroke-width="1.9"/>
<text x="163.4" y="292.5" font-size="7" text-anchor="end" fill="#000">50</text>
<line x1="164" y1="322.4" x2="168" y2="322.4" stroke="#000" stroke-width="1.9"/>
<text x="163.4" y="324.7" font-size="7" text-anchor="end" fill="#000">0</text>
<text x="170.2" y="331" font-size="7" text-anchor="end" fill="#000" transform="rotate(-45 170.2 331)">0.0001</text>
<text x="187.52" y="331" font-size="7" text-anchor="end" fill="#000" transform="rotate(-45 187.52 331)">0.001</text>
<text x="204.84" y="331" font-size="7" text-anchor="end" fill="#000" transform="rotate(-45 204.84 331)">0.01</text>
<text x="222.16" y="331" font-size="7" text-anchor="end" fill="#000" transform="rotate(-45 222.16 331)">0.1</text>
<text x="239.48" y="331" font-size="7" text-anchor="end" fill="#000" transform="rotate(-45 239.48 331)">1</text>
<text x="256.8" y="331" font-size="7" text-anchor="end" fill="#000" transform="rotate(-45 256.8 331)">10</text>
<path d="M168 258 L169.44 258 L170.89 258 L172.33 258 L173.77 258 L175.22 258.01 L176.66 258.01 L178.1 258.01 L179.55 258.02 L180.99 258.02 L182.43 258.03 L183.88 258.04 L185.32 258.05 L186.76 258.07 L188.21 258.09 L189.65 258.12 L191.09 258.15 L192.54 258.21 L193.98 258.27 L195.42 258.36 L196.87 258.48 L198.31 258.64 L199.75 258.86 L201.2 259.14 L202.64 259.51 L204.08 260 L205.53 260.63 L206.97 261.47 L208.41 262.54 L209.86 263.92 L211.3 265.65 L212.74 267.82 L214.19 270.46 L215.63 273.61 L217.07 277.26 L218.52 281.35 L219.96 285.78 L221.4 290.39 L222.85 294.98 L224.29 299.39 L225.73 303.45 L227.18 307.06 L228.62 310.17 L230.06 312.77 L231.51 314.9 L232.95 316.61 L234.39 317.96 L235.84 319.01 L237.28 319.82 L238.72 320.45 L240.17 320.92 L241.61 321.29 L243.05 321.56 L244.5 321.77 L245.94 321.93 L247.38 322.04 L248.83 322.13 L250.27 322.2 L251.71 322.25 L253.16 322.29 L254.6 322.32" stroke="#8dd3b5" fill="none" stroke-width="2.5" stroke-linejoin="round" stroke-linecap="round"/>
<path d="M168 258 L169.44 258 L170.89 258 L172.33 258.01 L173.77 258.01 L175.22 258.01 L176.66 258.01 L178.1 258.02 L179.55 258.02 L180.99 258.03 L182.43 258.05 L183.88 258.06 L185.32 258.08 L186.76 258.12 L188.21 258.16 L189.65 258.21 L191.09 258.29 L192.54 258.39 L193.98 258.53 L195.42 258.72 L196.87 258.97 L198.31 259.32 L199.75 259.78 L201.2 260.39 L202.64 261.21 L204.08 262.29 L205.53 263.69 L206.97 265.5 L208.41 267.79 L209.86 270.61 L211.3 274.02 L212.74 277.99 L214.19 282.45 L215.63 287.24 L217.07 292.17 L218.52 297.02 L219.96 301.55 L221.4 305.63 L222.85 309.15 L224.29 312.09 L225.73 314.48 L227.18 316.38 L228.62 317.86 L230.06 319 L231.51 319.86 L232.95 320.51 L234.39 321 L235.84 321.36 L237.28 321.63 L238.72 321.84 L240.17 321.98 L241.61 322.09 L243.05 322.17 L244.5 322.23 L245.94 322.28 L247.38 322.31 L248.83 322.33 L250.27 322.35 L251.71 322.36 L253.16 322.37 L254.6 322.38" stroke="#55b993" fill="none" stroke-width="2.5" stroke-linejoin="round" stroke-linecap="round"/>
<path d="M168 258 L169.44 258 L170.89 258 L172.33 258 L173.77 258 L175.22 258.01 L176.66 258.01 L178.1 258.01 L179.55 258.02 L180.99 258.03 L182.43 258.04 L183.88 258.05 L185.32 258.07 L186.76 258.11 L188.21 258.15 L189.65 258.21 L191.09 258.3 L192.54 258.42 L193.98 258.59 L195.42 258.83 L196.87 259.17 L198.31 259.64 L199.75 260.29 L201.2 261.18 L202.64 262.41 L204.08 264.05 L205.53 266.23 L206.97 269.05 L208.41 272.57 L209.86 276.82 L211.3 281.73 L212.74 287.1 L214.19 292.64 L215.63 298.05 L217.07 303.02 L218.52 307.36 L219.96 310.97 L221.4 313.87 L222.85 316.12 L224.29 317.82 L225.73 319.09 L227.18 320.02 L228.62 320.7 L230.06 321.18 L231.51 321.54 L232.95 321.79 L234.39 321.96 L235.84 322.09 L237.28 322.18 L238.72 322.24 L240.17 322.29 L241.61 322.32 L243.05 322.34 L244.5 322.36 L245.94 322.37 L247.38 322.38 L248.83 322.39 L250.27 322.39 L251.71 322.39 L253.16 322.4 L254.6 322.4" stroke="#129f6f" fill="none" stroke-width="2.5" stroke-linejoin="round" stroke-linecap="round"/>
<path d="M168 258 L169.44 258 L170.89 258 L172.33 258 L173.77 258.01 L175.22 258.01 L176.66 258.01 L178.1 258.02 L179.55 258.03 L180.99 258.04 L182.43 258.05 L183.88 258.08 L185.32 258.12 L186.76 258.17 L188.21 258.25 L189.65 258.37 L191.09 258.54 L192.54 258.79 L193.98 259.15 L195.42 259.68 L196.87 260.43 L198.31 261.5 L199.75 263.02 L201.2 265.1 L202.64 267.91 L204.08 271.58 L205.53 276.14 L206.97 281.52 L208.41 287.49 L209.86 293.65 L211.3 299.56 L212.74 304.86 L214.19 309.31 L215.63 312.87 L217.07 315.58 L218.52 317.59 L219.96 319.05 L221.4 320.08 L222.85 320.8 L224.29 321.3 L225.73 321.65 L227.18 321.88 L228.62 322.05 L230.06 322.16 L231.51 322.24 L232.95 322.29 L234.39 322.32 L235.84 322.35 L237.28 322.36 L238.72 322.38 L240.17 322.38 L241.61 322.39 L243.05 322.39 L244.5 322.39 L245.94 322.4 L247.38 322.4 L248.83 322.4 L250.27 322.4 L251.71 322.4 L253.16 322.4 L254.6 322.4" stroke="#0b4d32" fill="none" stroke-width="2.5" stroke-linejoin="round" stroke-linecap="round"/>
<path d="M168 258.39 L169.44 258.51 L170.89 258.65 L172.33 258.83 L173.77 259.06 L175.22 259.35 L176.66 259.73 L178.1 260.2 L179.55 260.79 L180.99 261.54 L182.43 262.48 L183.88 263.63 L185.32 265.05 L186.76 266.78 L188.21 268.85 L189.65 271.29 L191.09 274.11 L192.54 277.31 L193.98 280.84 L195.42 284.63 L196.87 288.59 L198.31 292.61 L199.75 296.54 L201.2 300.29 L202.64 303.76 L204.08 306.88 L205.53 309.63 L206.97 311.99 L208.41 313.99 L209.86 315.65 L211.3 317.02 L212.74 318.13 L214.19 319.02 L215.63 319.74 L217.07 320.3 L218.52 320.76 L219.96 321.11 L221.4 321.39 L222.85 321.61 L224.29 321.78 L225.73 321.92 L227.18 322.02 L228.62 322.11 L230.06 322.17 L231.51 322.22 L232.95 322.26 L234.39 322.29 L235.84 322.32 L237.28 322.33 L238.72 322.35 L240.17 322.36 L241.61 322.37 L243.05 322.38 L244.5 322.38 L245.94 322.39 L247.38 322.39 L248.83 322.39 L250.27 322.39 L251.71 322.39 L253.16 322.4 L254.6 322.4" stroke="#8fc9ee" fill="none" stroke-width="2.5" stroke-linejoin="round" stroke-linecap="round"/>
<path d="M168 258.34 L169.44 258.44 L170.89 258.56 L172.33 258.71 L173.77 258.91 L175.22 259.17 L176.66 259.49 L178.1 259.9 L179.55 260.42 L180.99 261.07 L182.43 261.89 L183.88 262.91 L185.32 264.17 L186.76 265.71 L188.21 267.57 L189.65 269.78 L191.09 272.37 L192.54 275.35 L193.98 278.68 L195.42 282.33 L196.87 286.2 L198.31 290.2 L199.75 294.2 L201.2 298.07 L202.64 301.72 L204.08 305.05 L205.53 308.03 L206.97 310.62 L208.41 312.83 L209.86 314.69 L211.3 316.23 L212.74 317.49 L214.19 318.51 L215.63 319.33 L217.07 319.98 L218.52 320.5 L219.96 320.91 L221.4 321.23 L222.85 321.49 L224.29 321.69 L225.73 321.84 L227.18 321.96 L228.62 322.06 L230.06 322.13 L231.51 322.19 L232.95 322.24 L234.39 322.27 L235.84 322.3 L237.28 322.32 L238.72 322.34 L240.17 322.35 L241.61 322.36 L243.05 322.37 L244.5 322.38 L245.94 322.38 L247.38 322.39 L248.83 322.39 L250.27 322.39 L251.71 322.39 L253.16 322.4 L254.6 322.4" stroke="#56aee6" fill="none" stroke-width="2.5" stroke-linejoin="round" stroke-linecap="round"/>
<path d="M168 261.57 L169.44 261.9 L170.89 262.31 L172.33 262.79 L173.77 263.36 L175.22 264.03 L176.66 264.83 L178.1 265.77 L179.55 266.87 L180.99 268.14 L182.43 269.61 L183.88 271.29 L185.32 273.18 L186.76 275.29 L188.21 277.62 L189.65 280.15 L191.09 282.86 L192.54 285.71 L193.98 288.65 L195.42 291.65 L196.87 294.63 L198.31 297.55 L199.75 300.36 L201.2 303.01 L202.64 305.48 L204.08 307.74 L205.53 309.78 L206.97 311.6 L208.41 313.21 L209.86 314.62 L211.3 315.83 L212.74 316.88 L214.19 317.77 L215.63 318.53 L217.07 319.17 L218.52 319.71 L219.96 320.16 L221.4 320.54 L222.85 320.86 L224.29 321.12 L225.73 321.34 L227.18 321.52 L228.62 321.67 L230.06 321.8 L231.51 321.9 L232.95 321.99 L234.39 322.06 L235.84 322.12 L237.28 322.17 L238.72 322.21 L240.17 322.24 L241.61 322.27 L243.05 322.29 L244.5 322.31 L245.94 322.33 L247.38 322.34 L248.83 322.35 L250.27 322.36 L251.71 322.37 L253.16 322.37 L254.6 322.38" stroke="#e9ad37" fill="none" stroke-width="2.5" stroke-linejoin="round" stroke-linecap="round"/>
<path d="M168 258.34 L169.44 258.42 L170.89 258.53 L172.33 258.67 L173.77 258.84 L175.22 259.05 L176.66 259.32 L178.1 259.65 L179.55 260.06 L180.99 260.58 L182.43 261.21 L183.88 261.99 L185.32 262.95 L186.76 264.1 L188.21 265.5 L189.65 267.17 L191.09 269.13 L192.54 271.41 L193.98 274.02 L195.42 276.95 L196.87 280.17 L198.31 283.62 L199.75 287.24 L201.2 290.94 L202.64 294.62 L204.08 298.19 L205.53 301.55 L206.97 304.66 L208.41 307.46 L209.86 309.94 L211.3 312.09 L212.74 313.93 L214.19 315.49 L215.63 316.79 L217.07 317.86 L218.52 318.74 L219.96 319.46 L221.4 320.04 L222.85 320.51 L224.29 320.89 L225.73 321.2 L227.18 321.44 L228.62 321.63 L230.06 321.79 L231.51 321.92 L232.95 322.01 L234.39 322.09 L235.84 322.16 L237.28 322.21 L238.72 322.25 L240.17 322.28 L241.61 322.3 L243.05 322.32 L244.5 322.34 L245.94 322.35 L247.38 322.36 L248.83 322.37 L250.27 322.38 L251.71 322.38 L253.16 322.38 L254.6 322.39" stroke="#f2cd7c" fill="none" stroke-width="2.5" stroke-linejoin="round" stroke-linecap="round"/>
<path d="M168 258.46 L169.44 258.56 L170.89 258.7 L172.33 258.86 L173.77 259.06 L175.22 259.3 L176.66 259.6 L178.1 259.96 L179.55 260.4 L180.99 260.94 L182.43 261.59 L183.88 262.38 L185.32 263.33 L186.76 264.45 L188.21 265.79 L189.65 267.35 L191.09 269.17 L192.54 271.25 L193.98 273.61 L195.42 276.24 L196.87 279.12 L198.31 282.21 L199.75 285.48 L201.2 288.84 L202.64 292.24 L204.08 295.59 L205.53 298.82 L206.97 301.88 L208.41 304.71 L209.86 307.29 L211.3 309.59 L212.74 311.62 L214.19 313.38 L215.63 314.9 L217.07 316.19 L218.52 317.28 L219.96 318.19 L221.4 318.95 L222.85 319.57 L224.29 320.09 L225.73 320.52 L227.18 320.87 L228.62 321.15 L230.06 321.39 L231.51 321.58 L232.95 321.73 L234.39 321.86 L235.84 321.96 L237.28 322.04 L238.72 322.11 L240.17 322.17 L241.61 322.21 L243.05 322.25 L244.5 322.28 L245.94 322.3 L247.38 322.32 L248.83 322.33 L250.27 322.35 L251.71 322.36 L253.16 322.36 L254.6 322.37" stroke="#efc25f" fill="none" stroke-width="2.5" stroke-linejoin="round" stroke-linecap="round"/>
<path d="M168 258.08 L169.44 258.1 L170.89 258.13 L172.33 258.16 L173.77 258.2 L175.22 258.25 L176.66 258.32 L178.1 258.4 L179.55 258.5 L180.99 258.63 L182.43 258.79 L183.88 259 L185.32 259.25 L186.76 259.56 L188.21 259.96 L189.65 260.44 L191.09 261.05 L192.54 261.79 L193.98 262.7 L195.42 263.81 L196.87 265.14 L198.31 266.74 L199.75 268.63 L201.2 270.83 L202.64 273.36 L204.08 276.22 L205.53 279.37 L206.97 282.77 L208.41 286.36 L209.86 290.05 L211.3 293.74 L212.74 297.35 L214.19 300.77 L215.63 303.94 L217.07 306.82 L218.52 309.38 L219.96 311.61 L221.4 313.52 L222.85 315.14 L224.29 316.5 L225.73 317.62 L227.18 318.54 L228.62 319.3 L230.06 319.91 L231.51 320.41 L232.95 320.81 L234.39 321.13 L235.84 321.39 L237.28 321.59 L238.72 321.76 L240.17 321.89 L241.61 321.99 L243.05 322.08 L244.5 322.14 L245.94 322.2 L247.38 322.24 L248.83 322.27 L250.27 322.3 L251.71 322.32 L253.16 322.34 L254.6 322.35" stroke="#e39e0b" fill="none" stroke-width="2.5" stroke-linejoin="round" stroke-linecap="round"/>
<text x="204.6" y="239.3" font-size="9.5" text-anchor="middle" fill="#000">Fimepinostat</text>
<text x="204.6" y="249.1" font-size="8.4" text-anchor="middle" fill="#000">(HDAC1/2/3/10)</text>
<path d="M295 257.4 L295 322.4 L382.4 322.4" stroke="#000" fill="none" stroke-width="2" stroke-linecap="square"/>
<line x1="295" y1="322.4" x2="295" y2="326.4" stroke="#000" stroke-width="1.9"/>
<line x1="312.32" y1="322.4" x2="312.32" y2="326.4" stroke="#000" stroke-width="1.9"/>
<line x1="329.64" y1="322.4" x2="329.64" y2="326.4" stroke="#000" stroke-width="1.9"/>
<line x1="346.96" y1="322.4" x2="346.96" y2="326.4" stroke="#000" stroke-width="1.9"/>
<line x1="364.28" y1="322.4" x2="364.28" y2="326.4" stroke="#000" stroke-width="1.9"/>
<line x1="381.6" y1="322.4" x2="381.6" y2="326.4" stroke="#000" stroke-width="1.9"/>
<line x1="291" y1="258" x2="295" y2="258" stroke="#000" stroke-width="1.9"/>
<text x="290.4" y="260.3" font-size="7" text-anchor="end" fill="#000">100</text>
<line x1="291" y1="290.2" x2="295" y2="290.2" stroke="#000" stroke-width="1.9"/>
<text x="290.4" y="292.5" font-size="7" text-anchor="end" fill="#000">50</text>
<line x1="291" y1="322.4" x2="295" y2="322.4" stroke="#000" stroke-width="1.9"/>
<text x="290.4" y="324.7" font-size="7" text-anchor="end" fill="#000">0</text>
<text x="297.2" y="331" font-size="7" text-anchor="end" fill="#000" transform="rotate(-45 297.2 331)">0.0001</text>
<text x="314.52" y="331" font-size="7" text-anchor="end" fill="#000" transform="rotate(-45 314.52 331)">0.001</text>
<text x="331.84" y="331" font-size="7" text-anchor="end" fill="#000" transform="rotate(-45 331.84 331)">0.01</text>
<text x="349.16" y="331" font-size="7" text-anchor="end" fill="#000" transform="rotate(-45 349.16 331)">0.1</text>
<text x="366.48" y="331" font-size="7" text-anchor="end" fill="#000" transform="rotate(-45 366.48 331)">1</text>
<text x="383.8" y="331" font-size="7" text-anchor="end" fill="#000" transform="rotate(-45 383.8 331)">10</text>
<path d="M295 262.37 L296.44 262.91 L297.89 263.51 L299.33 264.17 L300.77 264.9 L302.22 265.71 L303.66 266.59 L305.1 267.57 L306.55 268.63 L307.99 269.78 L309.43 271.03 L310.88 272.37 L312.32 273.81 L313.76 275.35 L315.21 276.97 L316.65 278.68 L318.09 280.47 L319.54 282.33 L320.98 284.25 L322.42 286.2 L323.87 288.19 L325.31 290.2 L326.75 292.21 L328.2 294.2 L329.64 296.15 L331.08 298.07 L332.53 299.93 L333.97 301.72 L335.41 303.43 L336.86 305.05 L338.3 306.59 L339.74 308.03 L341.19 309.37 L342.63 310.62 L344.07 311.77 L345.52 312.83 L346.96 313.81 L348.4 314.69 L349.85 315.5 L351.29 316.23 L352.73 316.89 L354.18 317.49 L355.62 318.03 L357.06 318.51 L358.51 318.94 L359.95 319.33 L361.39 319.67 L362.84 319.98 L364.28 320.25 L365.72 320.5 L367.17 320.72 L368.61 320.91 L370.05 321.08 L371.5 321.23 L372.94 321.37 L374.38 321.49 L375.83 321.59 L377.27 321.69 L378.71 321.77 L380.16 321.84 L381.6 321.91" stroke="#8fc9ee" fill="none" stroke-width="2.5" stroke-linejoin="round" stroke-linecap="round"/>
<path d="M295 258.05 L296.44 258.07 L297.89 258.09 L299.33 258.12 L300.77 258.15 L302.22 258.21 L303.66 258.27 L305.1 258.36 L306.55 258.48 L307.99 258.64 L309.43 258.86 L310.88 259.14 L312.32 259.51 L313.76 260 L315.21 260.63 L316.65 261.47 L318.09 262.54 L319.54 263.92 L320.98 265.65 L322.42 267.82 L323.87 270.46 L325.31 273.61 L326.75 277.26 L328.2 281.35 L329.64 285.78 L331.08 290.39 L332.53 294.98 L333.97 299.39 L335.41 303.45 L336.86 307.06 L338.3 310.17 L339.74 312.77 L341.19 314.9 L342.63 316.61 L344.07 317.96 L345.52 319.01 L346.96 319.82 L348.4 320.45 L349.85 320.92 L351.29 321.29 L352.73 321.56 L354.18 321.77 L355.62 321.93 L357.06 322.04 L358.51 322.13 L359.95 322.2 L361.39 322.25 L362.84 322.29 L364.28 322.32 L365.72 322.34 L367.17 322.35 L368.61 322.36 L370.05 322.37 L371.5 322.38 L372.94 322.38 L374.38 322.39 L375.83 322.39 L377.27 322.39 L378.71 322.4 L380.16 322.4 L381.6 322.4" stroke="#56aee6" fill="none" stroke-width="2.5" stroke-linejoin="round" stroke-linecap="round"/>
<path d="M295 258 L296.44 258 L297.89 258 L299.33 258.01 L300.77 258.01 L302.22 258.01 L303.66 258.02 L305.1 258.02 L306.55 258.03 L307.99 258.05 L309.43 258.06 L310.88 258.09 L312.32 258.13 L313.76 258.18 L315.21 258.26 L316.65 258.36 L318.09 258.51 L319.54 258.71 L320.98 259 L322.42 259.41 L323.87 259.97 L325.31 260.75 L326.75 261.82 L328.2 263.27 L329.64 265.2 L331.08 267.72 L332.53 270.93 L333.97 274.87 L335.41 279.5 L336.86 284.69 L338.3 290.2 L339.74 295.71 L341.19 300.9 L342.63 305.53 L344.07 309.47 L345.52 312.68 L346.96 315.2 L348.4 317.13 L349.85 318.58 L351.29 319.65 L352.73 320.43 L354.18 320.99 L355.62 321.4 L357.06 321.69 L358.51 321.89 L359.95 322.04 L361.39 322.14 L362.84 322.22 L364.28 322.27 L365.72 322.31 L367.17 322.34 L368.61 322.35 L370.05 322.37 L371.5 322.38 L372.94 322.38 L374.38 322.39 L375.83 322.39 L377.27 322.39 L378.71 322.4 L380.16 322.4 L381.6 322.4" stroke="#3a7fb0" fill="none" stroke-width="2.5" stroke-linejoin="round" stroke-linecap="round"/>
<path d="M295 258.01 L296.44 258.01 L297.89 258.01 L299.33 258.01 L300.77 258.02 L302.22 258.02 L303.66 258.03 L305.1 258.05 L306.55 258.06 L307.99 258.08 L309.43 258.12 L310.88 258.16 L312.32 258.21 L313.76 258.29 L315.21 258.39 L316.65 258.53 L318.09 258.72 L319.54 258.97 L320.98 259.32 L322.42 259.78 L323.87 260.39 L325.31 261.21 L326.75 262.29 L328.2 263.69 L329.64 265.5 L331.08 267.79 L332.53 270.61 L333.97 274.02 L335.41 277.99 L336.86 282.45 L338.3 287.24 L339.74 292.17 L341.19 297.02 L342.63 301.55 L344.07 305.63 L345.52 309.15 L346.96 312.09 L348.4 314.48 L349.85 316.38 L351.29 317.86 L352.73 319 L354.18 319.86 L355.62 320.51 L357.06 321 L358.51 321.36 L359.95 321.63 L361.39 321.84 L362.84 321.98 L364.28 322.09 L365.72 322.17 L367.17 322.23 L368.61 322.28 L370.05 322.31 L371.5 322.33 L372.94 322.35 L374.38 322.36 L375.83 322.37 L377.27 322.38 L378.71 322.39 L380.16 322.39 L381.6 322.39" stroke="#8dd3b5" fill="none" stroke-width="2.5" stroke-linejoin="round" stroke-linecap="round"/>
<path d="M295 258 L296.44 258 L297.89 258 L299.33 258.01 L300.77 258.01 L302.22 258.01 L303.66 258.02 L305.1 258.02 L306.55 258.03 L307.99 258.05 L309.43 258.06 L310.88 258.09 L312.32 258.12 L313.76 258.17 L315.21 258.23 L316.65 258.32 L318.09 258.45 L319.54 258.62 L320.98 258.86 L322.42 259.18 L323.87 259.63 L325.31 260.23 L326.75 261.05 L328.2 262.15 L329.64 263.61 L331.08 265.53 L332.53 267.98 L333.97 271.05 L335.41 274.77 L336.86 279.12 L338.3 283.98 L339.74 289.15 L341.19 294.38 L342.63 299.39 L344.07 303.96 L345.52 307.94 L346.96 311.27 L348.4 313.96 L349.85 316.08 L351.29 317.71 L352.73 318.95 L354.18 319.87 L355.62 320.55 L357.06 321.06 L358.51 321.43 L359.95 321.69 L361.39 321.89 L362.84 322.03 L364.28 322.13 L365.72 322.21 L367.17 322.26 L368.61 322.3 L370.05 322.33 L371.5 322.35 L372.94 322.36 L374.38 322.37 L375.83 322.38 L377.27 322.39 L378.71 322.39 L380.16 322.39 L381.6 322.39" stroke="#55b993" fill="none" stroke-width="2.5" stroke-linejoin="round" stroke-linecap="round"/>
<path d="M295 258 L296.44 258 L297.89 258 L299.33 258 L300.77 258 L302.22 258 L303.66 258 L305.1 258 L306.55 258 L307.99 258 L309.43 258 L310.88 258 L312.32 258 L313.76 258 L315.21 258 L316.65 258 L318.09 258 L319.54 258 L320.98 258 L322.42 258.01 L323.87 258.01 L325.31 258.03 L326.75 258.05 L328.2 258.08 L329.64 258.15 L331.08 258.26 L332.53 258.46 L333.97 258.82 L335.41 259.44 L336.86 260.52 L338.3 262.35 L339.74 265.35 L341.19 270 L342.63 276.64 L344.07 285.05 L345.52 294.26 L346.96 302.83 L348.4 309.71 L349.85 314.59 L351.29 317.76 L352.73 319.71 L354.18 320.86 L355.62 321.52 L357.06 321.9 L358.51 322.12 L359.95 322.24 L361.39 322.31 L362.84 322.35 L364.28 322.37 L365.72 322.38 L367.17 322.39 L368.61 322.4 L370.05 322.4 L371.5 322.4 L372.94 322.4 L374.38 322.4 L375.83 322.4 L377.27 322.4 L378.71 322.4 L380.16 322.4 L381.6 322.4" stroke="#129f6f" fill="none" stroke-width="2.5" stroke-linejoin="round" stroke-linecap="round"/>
<path d="M295 258.2 L296.44 258.26 L297.89 258.32 L299.33 258.41 L300.77 258.51 L302.22 258.64 L303.66 258.81 L305.1 259.01 L306.55 259.27 L307.99 259.59 L309.43 259.99 L310.88 260.49 L312.32 261.1 L313.76 261.86 L315.21 262.78 L316.65 263.9 L318.09 265.26 L319.54 266.88 L320.98 268.79 L322.42 271.02 L323.87 273.58 L325.31 276.46 L326.75 279.63 L328.2 283.05 L329.64 286.66 L331.08 290.35 L332.53 294.04 L333.97 297.63 L335.41 301.03 L336.86 304.18 L338.3 307.04 L339.74 309.57 L341.19 311.77 L342.63 313.66 L344.07 315.26 L345.52 316.59 L346.96 317.7 L348.4 318.61 L349.85 319.35 L351.29 319.96 L352.73 320.44 L354.18 320.84 L355.62 321.15 L357.06 321.4 L358.51 321.61 L359.95 321.77 L361.39 321.9 L362.84 322 L364.28 322.08 L365.72 322.15 L367.17 322.2 L368.61 322.24 L370.05 322.27 L371.5 322.3 L372.94 322.32 L374.38 322.34 L375.83 322.35 L377.27 322.36 L378.71 322.37 L380.16 322.37 L381.6 322.38" stroke="#f2cd7c" fill="none" stroke-width="2.5" stroke-linejoin="round" stroke-linecap="round"/>
<path d="M295 258.13 L296.44 258.16 L297.89 258.2 L299.33 258.26 L300.77 258.32 L302.22 258.4 L303.66 258.51 L305.1 258.64 L306.55 258.8 L307.99 259 L309.43 259.26 L310.88 259.58 L312.32 259.97 L313.76 260.47 L315.21 261.07 L316.65 261.82 L318.09 262.74 L319.54 263.85 L320.98 265.2 L322.42 266.81 L323.87 268.71 L325.31 270.93 L326.75 273.47 L328.2 276.34 L329.64 279.5 L331.08 282.91 L332.53 286.51 L333.97 290.2 L335.41 293.89 L336.86 297.49 L338.3 300.9 L339.74 304.06 L341.19 306.93 L342.63 309.47 L344.07 311.69 L345.52 313.59 L346.96 315.2 L348.4 316.55 L349.85 317.66 L351.29 318.58 L352.73 319.33 L354.18 319.93 L355.62 320.43 L357.06 320.82 L358.51 321.14 L359.95 321.4 L361.39 321.6 L362.84 321.76 L364.28 321.89 L365.72 322 L367.17 322.08 L368.61 322.14 L370.05 322.2 L371.5 322.24 L372.94 322.27 L374.38 322.3 L375.83 322.32 L377.27 322.34 L378.71 322.35 L380.16 322.36 L381.6 322.37" stroke="#efc25f" fill="none" stroke-width="2.5" stroke-linejoin="round" stroke-linecap="round"/>
<path d="M295 258.02 L296.44 258.03 L297.89 258.03 L299.33 258.04 L300.77 258.05 L302.22 258.07 L303.66 258.09 L305.1 258.11 L306.55 258.15 L307.99 258.19 L309.43 258.24 L310.88 258.31 L312.32 258.39 L313.76 258.51 L315.21 258.65 L316.65 258.83 L318.09 259.06 L319.54 259.35 L320.98 259.73 L322.42 260.2 L323.87 260.79 L325.31 261.54 L326.75 262.48 L328.2 263.63 L329.64 265.05 L331.08 266.78 L332.53 268.85 L333.97 271.29 L335.41 274.11 L336.86 277.31 L338.3 280.84 L339.74 284.63 L341.19 288.59 L342.63 292.61 L344.07 296.54 L345.52 300.29 L346.96 303.76 L348.4 306.88 L349.85 309.63 L351.29 311.99 L352.73 313.99 L354.18 315.65 L355.62 317.02 L357.06 318.13 L358.51 319.02 L359.95 319.74 L361.39 320.3 L362.84 320.76 L364.28 321.11 L365.72 321.39 L367.17 321.61 L368.61 321.78 L370.05 321.92 L371.5 322.02 L372.94 322.11 L374.38 322.17 L375.83 322.22 L377.27 322.26 L378.71 322.29 L380.16 322.32 L381.6 322.33" stroke="#e9ad37" fill="none" stroke-width="2.5" stroke-linejoin="round" stroke-linecap="round"/>
<path d="M295 258 L296.44 258 L297.89 258 L299.33 258 L300.77 258 L302.22 258 L303.66 258 L305.1 258 L306.55 258 L307.99 258 L309.43 258.01 L310.88 258.01 L312.32 258.01 L313.76 258.02 L315.21 258.02 L316.65 258.03 L318.09 258.04 L319.54 258.06 L320.98 258.08 L322.42 258.12 L323.87 258.17 L325.31 258.24 L326.75 258.34 L328.2 258.47 L329.64 258.67 L331.08 258.94 L332.53 259.32 L333.97 259.85 L335.41 260.58 L336.86 261.58 L338.3 262.95 L339.74 264.77 L341.19 267.17 L342.63 270.23 L344.07 274.02 L345.52 278.52 L346.96 283.62 L348.4 289.09 L349.85 294.62 L351.29 299.9 L352.73 304.66 L354.18 308.74 L355.62 312.09 L357.06 314.75 L358.51 316.79 L359.95 318.32 L361.39 319.46 L362.84 320.29 L364.28 320.89 L365.72 321.32 L367.17 321.63 L368.61 321.86 L370.05 322.01 L371.5 322.13 L372.94 322.21 L374.38 322.26 L375.83 322.3 L377.27 322.33 L378.71 322.35 L380.16 322.37 L381.6 322.38" stroke="#e39e0b" fill="none" stroke-width="2.5" stroke-linejoin="round" stroke-linecap="round"/>
<text x="331.6" y="239.3" font-size="9.5" text-anchor="middle" fill="#000">Panobinostat</text>
<text x="331.6" y="249.1" font-size="8.4" text-anchor="middle" fill="#000">(Pan-HDAC)</text>
<path d="M419 257.4 L419 322.4 L506.4 322.4" stroke="#000" fill="none" stroke-width="2" stroke-linecap="square"/>
<line x1="419" y1="322.4" x2="419" y2="326.4" stroke="#000" stroke-width="1.9"/>
<line x1="436.32" y1="322.4" x2="436.32" y2="326.4" stroke="#000" stroke-width="1.9"/>
<line x1="453.64" y1="322.4" x2="453.64" y2="326.4" stroke="#000" stroke-width="1.9"/>
<line x1="470.96" y1="322.4" x2="470.96" y2="326.4" stroke="#000" stroke-width="1.9"/>
<line x1="488.28" y1="322.4" x2="488.28" y2="326.4" stroke="#000" stroke-width="1.9"/>
<line x1="505.6" y1="322.4" x2="505.6" y2="326.4" stroke="#000" stroke-width="1.9"/>
<line x1="415" y1="258" x2="419" y2="258" stroke="#000" stroke-width="1.9"/>
<text x="414.4" y="260.3" font-size="7" text-anchor="end" fill="#000">100</text>
<line x1="415" y1="290.2" x2="419" y2="290.2" stroke="#000" stroke-width="1.9"/>
<text x="414.4" y="292.5" font-size="7" text-anchor="end" fill="#000">50</text>
<line x1="415" y1="322.4" x2="419" y2="322.4" stroke="#000" stroke-width="1.9"/>
<text x="414.4" y="324.7" font-size="7" text-anchor="end" fill="#000">0</text>
<text x="421.2" y="331" font-size="7" text-anchor="end" fill="#000" transform="rotate(-45 421.2 331)">0.0001</text>
<text x="438.52" y="331" font-size="7" text-anchor="end" fill="#000" transform="rotate(-45 438.52 331)">0.001</text>
<text x="455.84" y="331" font-size="7" text-anchor="end" fill="#000" transform="rotate(-45 455.84 331)">0.01</text>
<text x="473.16" y="331" font-size="7" text-anchor="end" fill="#000" transform="rotate(-45 473.16 331)">0.1</text>
<text x="490.48" y="331" font-size="7" text-anchor="end" fill="#000" transform="rotate(-45 490.48 331)">1</text>
<text x="507.8" y="331" font-size="7" text-anchor="end" fill="#000" transform="rotate(-45 507.8 331)">10</text>
<path d="M419 259.85 L420.44 260.01 L421.89 260.18 L423.33 260.37 L424.77 260.58 L426.22 260.8 L427.66 261.04 L429.1 261.3 L430.55 261.58 L431.99 261.88 L433.43 262.21 L434.88 262.57 L436.32 262.95 L437.76 263.35 L439.21 263.79 L440.65 264.27 L442.09 264.77 L443.54 265.31 L444.98 265.89 L446.42 266.51 L447.87 267.17 L449.31 267.87 L450.75 268.61 L452.2 269.4 L453.64 270.23 L455.08 271.11 L456.53 272.03 L457.97 273 L459.41 274.02 L460.86 275.08 L462.3 276.19 L463.74 277.33 L465.19 278.52 L466.63 279.75 L468.07 281.01 L469.52 282.3 L470.96 283.62 L472.4 284.96 L473.85 286.33 L475.29 287.7 L476.73 289.09 L478.18 290.48 L479.62 291.87 L481.06 293.25 L482.51 294.62 L483.95 295.98 L485.39 297.31 L486.84 298.62 L488.28 299.9 L489.72 301.15 L491.17 302.36 L492.61 303.53 L494.05 304.66 L495.5 305.75 L496.94 306.79 L498.38 307.79 L499.83 308.74 L501.27 309.65 L502.71 310.51 L504.16 311.32 L505.6 312.09" stroke="#8dd3b5" fill="none" stroke-width="2.5" stroke-linejoin="round" stroke-linecap="round"/>
<path d="M419 259.77 L420.44 259.94 L421.89 260.13 L423.33 260.33 L424.77 260.56 L426.22 260.8 L427.66 261.07 L429.1 261.37 L430.55 261.69 L431.99 262.03 L433.43 262.41 L434.88 262.82 L436.32 263.27 L437.76 263.75 L439.21 264.28 L440.65 264.84 L442.09 265.45 L443.54 266.11 L444.98 266.81 L446.42 267.57 L447.87 268.37 L449.31 269.24 L450.75 270.15 L452.2 271.13 L453.64 272.16 L455.08 273.25 L456.53 274.39 L457.97 275.59 L459.41 276.85 L460.86 278.15 L462.3 279.5 L463.74 280.9 L465.19 282.33 L466.63 283.8 L468.07 285.3 L469.52 286.81 L470.96 288.35 L472.4 289.89 L473.85 291.44 L475.29 292.97 L476.73 294.5 L478.18 296.01 L479.62 297.49 L481.06 298.93 L482.51 300.35 L483.95 301.72 L485.39 303.04 L486.84 304.31 L488.28 305.53 L489.72 306.7 L491.17 307.81 L492.61 308.87 L494.05 309.86 L495.5 310.8 L496.94 311.69 L498.38 312.52 L499.83 313.29 L501.27 314.02 L502.71 314.69 L504.16 315.32 L505.6 315.9" stroke="#55b993" fill="none" stroke-width="2.5" stroke-linejoin="round" stroke-linecap="round"/>
<path d="M419 259.96 L420.44 259.97 L421.89 259.98 L423.33 259.99 L424.77 260.02 L426.22 260.04 L427.66 260.08 L429.1 260.13 L430.55 260.19 L431.99 260.28 L433.43 260.4 L434.88 260.55 L436.32 260.75 L437.76 261.02 L439.21 261.38 L440.65 261.85 L442.09 262.46 L443.54 263.26 L444.98 264.29 L446.42 265.61 L447.87 267.28 L449.31 269.36 L450.75 271.91 L452.2 274.94 L453.64 278.46 L455.08 282.42 L456.53 286.7 L457.97 291.17 L459.41 295.63 L460.86 299.92 L462.3 303.87 L463.74 307.39 L465.19 310.43 L466.63 312.97 L468.07 315.05 L469.52 316.72 L470.96 318.04 L472.4 319.07 L473.85 319.87 L475.29 320.49 L476.73 320.95 L478.18 321.31 L479.62 321.58 L481.06 321.78 L482.51 321.94 L483.95 322.05 L485.39 322.14 L486.84 322.2 L488.28 322.25 L489.72 322.29 L491.17 322.32 L492.61 322.34 L494.05 322.35 L495.5 322.36 L496.94 322.37 L498.38 322.38 L499.83 322.39 L501.27 322.39 L502.71 322.39 L504.16 322.39 L505.6 322.4" stroke="#8fc9ee" fill="none" stroke-width="2.5" stroke-linejoin="round" stroke-linecap="round"/>
<path d="M419 258 L420.44 258 L421.89 258 L423.33 258 L424.77 258 L426.22 258.01 L427.66 258.01 L429.1 258.01 L430.55 258.02 L431.99 258.02 L433.43 258.04 L434.88 258.05 L436.32 258.08 L437.76 258.11 L439.21 258.17 L440.65 258.24 L442.09 258.36 L443.54 258.52 L444.98 258.77 L446.42 259.12 L447.87 259.63 L449.31 260.36 L450.75 261.4 L452.2 262.88 L453.64 264.91 L455.08 267.66 L456.53 271.25 L457.97 275.74 L459.41 281.07 L460.86 287 L462.3 293.16 L463.74 299.11 L465.19 304.46 L466.63 308.99 L468.07 312.61 L469.52 315.39 L470.96 317.45 L472.4 318.95 L473.85 320.01 L475.29 320.75 L476.73 321.27 L478.18 321.62 L479.62 321.87 L481.06 322.04 L482.51 322.15 L483.95 322.23 L485.39 322.28 L486.84 322.32 L488.28 322.35 L489.72 322.36 L491.17 322.38 L492.61 322.38 L494.05 322.39 L495.5 322.39 L496.94 322.39 L498.38 322.4 L499.83 322.4 L501.27 322.4 L502.71 322.4 L504.16 322.4 L505.6 322.4" stroke="#129f6f" fill="none" stroke-width="2.5" stroke-linejoin="round" stroke-linecap="round"/>
<path d="M419 258 L420.44 258 L421.89 258 L423.33 258 L424.77 258 L426.22 258 L427.66 258 L429.1 258 L430.55 258 L431.99 258 L433.43 258 L434.88 258 L436.32 258 L437.76 258 L439.21 258 L440.65 258 L442.09 258 L443.54 258 L444.98 258 L446.42 258 L447.87 258 L449.31 258 L450.75 258 L452.2 258 L453.64 258 L455.08 258 L456.53 258 L457.97 258.01 L459.41 258.03 L460.86 258.08 L462.3 258.26 L463.74 258.8 L465.19 260.47 L466.63 265.2 L468.07 276.34 L469.52 293.89 L470.96 309.47 L472.4 317.66 L473.85 320.82 L475.29 321.89 L476.73 322.24 L478.18 322.35 L479.62 322.38 L481.06 322.39 L482.51 322.4 L483.95 322.4 L485.39 322.4 L486.84 322.4 L488.28 322.4 L489.72 322.4 L491.17 322.4 L492.61 322.4 L494.05 322.4 L495.5 322.4 L496.94 322.4 L498.38 322.4 L499.83 322.4 L501.27 322.4 L502.71 322.4 L504.16 322.4 L505.6 322.4" stroke="#3a7fb0" fill="none" stroke-width="2.5" stroke-linejoin="round" stroke-linecap="round"/>
<path d="M419 258 L420.44 258 L421.89 258 L423.33 258 L424.77 258 L426.22 258 L427.66 258 L429.1 258 L430.55 258 L431.99 258 L433.43 258 L434.88 258 L436.32 258 L437.76 258.01 L439.21 258.01 L440.65 258.02 L442.09 258.02 L443.54 258.04 L444.98 258.06 L446.42 258.1 L447.87 258.17 L449.31 258.27 L450.75 258.44 L452.2 258.7 L453.64 259.13 L455.08 259.8 L456.53 260.86 L457.97 262.49 L459.41 264.96 L460.86 268.54 L462.3 273.47 L463.74 279.78 L465.19 287.12 L466.63 294.8 L468.07 301.98 L469.52 308.03 L470.96 312.68 L472.4 316.01 L473.85 318.29 L475.29 319.79 L476.73 320.76 L478.18 321.38 L479.62 321.76 L481.06 322 L482.51 322.15 L483.95 322.25 L485.39 322.31 L486.84 322.34 L488.28 322.36 L489.72 322.38 L491.17 322.39 L492.61 322.39 L494.05 322.39 L495.5 322.4 L496.94 322.4 L498.38 322.4 L499.83 322.4 L501.27 322.4 L502.71 322.4 L504.16 322.4 L505.6 322.4" stroke="#f2cd7c" fill="none" stroke-width="2.5" stroke-linejoin="round" stroke-linecap="round"/>
<path d="M419 258 L420.44 258 L421.89 258 L423.33 258 L424.77 258 L426.22 258 L427.66 258 L429.1 258 L430.55 258 L431.99 258 L433.43 258 L434.88 258 L436.32 258 L437.76 258 L439.21 258 L440.65 258 L442.09 258 L443.54 258 L444.98 258 L446.42 258 L447.87 258.01 L449.31 258.02 L450.75 258.03 L452.2 258.06 L453.64 258.12 L455.08 258.23 L456.53 258.46 L457.97 258.89 L459.41 259.71 L460.86 261.27 L462.3 264.1 L463.74 268.95 L465.19 276.44 L466.63 286.33 L468.07 297.02 L469.52 306.33 L470.96 313.05 L472.4 317.26 L473.85 319.67 L475.29 320.97 L476.73 321.66 L478.18 322.02 L479.62 322.21 L481.06 322.3 L482.51 322.35 L483.95 322.37 L485.39 322.39 L486.84 322.39 L488.28 322.4 L489.72 322.4 L491.17 322.4 L492.61 322.4 L494.05 322.4 L495.5 322.4 L496.94 322.4 L498.38 322.4 L499.83 322.4 L501.27 322.4 L502.71 322.4 L504.16 322.4 L505.6 322.4" stroke="#efc25f" fill="none" stroke-width="2.5" stroke-linejoin="round" stroke-linecap="round"/>
<path d="M419 258 L420.44 258 L421.89 258 L423.33 258 L424.77 258 L426.22 258 L427.66 258 L429.1 258 L430.55 258 L431.99 258 L433.43 258 L434.88 258 L436.32 258 L437.76 258 L439.21 258 L440.65 258 L442.09 258 L443.54 258 L444.98 258 L446.42 258 L447.87 258 L449.31 258 L450.75 258.01 L452.2 258.02 L453.64 258.03 L455.08 258.07 L456.53 258.16 L457.97 258.34 L459.41 258.72 L460.86 259.53 L462.3 261.21 L463.74 264.54 L465.19 270.61 L466.63 280.17 L468.07 292.17 L469.52 303.66 L470.96 312.09 L472.4 317.17 L473.85 319.86 L475.29 321.2 L476.73 321.84 L478.18 322.14 L479.62 322.28 L481.06 322.34 L482.51 322.37 L483.95 322.39 L485.39 322.39 L486.84 322.4 L488.28 322.4 L489.72 322.4 L491.17 322.4 L492.61 322.4 L494.05 322.4 L495.5 322.4 L496.94 322.4 L498.38 322.4 L499.83 322.4 L501.27 322.4 L502.71 322.4 L504.16 322.4 L505.6 322.4" stroke="#e9ad37" fill="none" stroke-width="2.5" stroke-linejoin="round" stroke-linecap="round"/>
<path d="M419 258 L420.44 258 L421.89 258 L423.33 258 L424.77 258 L426.22 258 L427.66 258 L429.1 258 L430.55 258 L431.99 258 L433.43 258 L434.88 258 L436.32 258 L437.76 258 L439.21 258 L440.65 258 L442.09 258 L443.54 258 L444.98 258 L446.42 258 L447.87 258 L449.31 258 L450.75 258 L452.2 258 L453.64 258 L455.08 258 L456.53 258 L457.97 258.01 L459.41 258.03 L460.86 258.11 L462.3 258.34 L463.74 259.05 L465.19 261.21 L466.63 267.17 L468.07 280.17 L469.52 298.19 L470.96 312.09 L472.4 318.74 L473.85 321.2 L475.29 322.01 L476.73 322.28 L478.18 322.36 L479.62 322.39 L481.06 322.4 L482.51 322.4 L483.95 322.4 L485.39 322.4 L486.84 322.4 L488.28 322.4 L489.72 322.4 L491.17 322.4 L492.61 322.4 L494.05 322.4 L495.5 322.4 L496.94 322.4 L498.38 322.4 L499.83 322.4 L501.27 322.4 L502.71 322.4 L504.16 322.4 L505.6 322.4" stroke="#e39e0b" fill="none" stroke-width="2.5" stroke-linejoin="round" stroke-linecap="round"/>
<text x="455.6" y="239.3" font-size="9.5" text-anchor="middle" fill="#000">Volasertib</text>
<text x="455.6" y="249.1" font-size="8.4" text-anchor="middle" fill="#000">(PLK1)</text>
<path d="M542 257.4 L542 322.4 L629.4 322.4" stroke="#000" fill="none" stroke-width="2" stroke-linecap="square"/>
<line x1="542" y1="322.4" x2="542" y2="326.4" stroke="#000" stroke-width="1.9"/>
<line x1="559.32" y1="322.4" x2="559.32" y2="326.4" stroke="#000" stroke-width="1.9"/>
<line x1="576.64" y1="322.4" x2="576.64" y2="326.4" stroke="#000" stroke-width="1.9"/>
<line x1="593.96" y1="322.4" x2="593.96" y2="326.4" stroke="#000" stroke-width="1.9"/>
<line x1="611.28" y1="322.4" x2="611.28" y2="326.4" stroke="#000" stroke-width="1.9"/>
<line x1="628.6" y1="322.4" x2="628.6" y2="326.4" stroke="#000" stroke-width="1.9"/>
<line x1="538" y1="258" x2="542" y2="258" stroke="#000" stroke-width="1.9"/>
<text x="537.4" y="260.3" font-size="7" text-anchor="end" fill="#000">100</text>
<line x1="538" y1="290.2" x2="542" y2="290.2" stroke="#000" stroke-width="1.9"/>
<text x="537.4" y="292.5" font-size="7" text-anchor="end" fill="#000">50</text>
<line x1="538" y1="322.4" x2="542" y2="322.4" stroke="#000" stroke-width="1.9"/>
<text x="537.4" y="324.7" font-size="7" text-anchor="end" fill="#000">0</text>
<text x="544.2" y="331" font-size="7" text-anchor="end" fill="#000" transform="rotate(-45 544.2 331)">0.0001</text>
<text x="561.52" y="331" font-size="7" text-anchor="end" fill="#000" transform="rotate(-45 561.52 331)">0.001</text>
<text x="578.84" y="331" font-size="7" text-anchor="end" fill="#000" transform="rotate(-45 578.84 331)">0.01</text>
<text x="596.16" y="331" font-size="7" text-anchor="end" fill="#000" transform="rotate(-45 596.16 331)">0.1</text>
<text x="613.48" y="331" font-size="7" text-anchor="end" fill="#000" transform="rotate(-45 613.48 331)">1</text>
<text x="630.8" y="331" font-size="7" text-anchor="end" fill="#000" transform="rotate(-45 630.8 331)">10</text>
<path d="M542 258 L543.44 258 L544.89 258 L546.33 258 L547.77 258 L549.22 258 L550.66 258 L552.1 258 L553.55 258.01 L554.99 258.01 L556.43 258.01 L557.88 258.02 L559.32 258.03 L560.76 258.04 L562.21 258.05 L563.65 258.07 L565.09 258.11 L566.54 258.15 L567.98 258.21 L569.42 258.3 L570.87 258.42 L572.31 258.59 L573.75 258.83 L575.2 259.17 L576.64 259.64 L578.08 260.29 L579.53 261.18 L580.97 262.41 L582.41 264.05 L583.86 266.23 L585.3 269.05 L586.74 272.57 L588.19 276.82 L589.63 281.73 L591.07 287.1 L592.52 292.64 L593.96 298.05 L595.4 303.02 L596.85 307.36 L598.29 310.97 L599.73 313.87 L601.18 316.12 L602.62 317.82 L604.06 319.09 L605.51 320.02 L606.95 320.7 L608.39 321.18 L609.84 321.54 L611.28 321.79 L612.72 321.96 L614.17 322.09 L615.61 322.18 L617.05 322.24 L618.5 322.29 L619.94 322.32 L621.38 322.34 L622.83 322.36 L624.27 322.37 L625.71 322.38 L627.16 322.39 L628.6 322.39" stroke="#8dd3b5" fill="none" stroke-width="2.5" stroke-linejoin="round" stroke-linecap="round"/>
<path d="M542 258.01 L543.44 258.01 L544.89 258.01 L546.33 258.02 L547.77 258.02 L549.22 258.03 L550.66 258.05 L552.1 258.06 L553.55 258.09 L554.99 258.13 L556.43 258.18 L557.88 258.26 L559.32 258.36 L560.76 258.51 L562.21 258.71 L563.65 259 L565.09 259.41 L566.54 259.97 L567.98 260.75 L569.42 261.82 L570.87 263.27 L572.31 265.2 L573.75 267.72 L575.2 270.93 L576.64 274.87 L578.08 279.5 L579.53 284.69 L580.97 290.2 L582.41 295.71 L583.86 300.9 L585.3 305.53 L586.74 309.47 L588.19 312.68 L589.63 315.2 L591.07 317.13 L592.52 318.58 L593.96 319.65 L595.4 320.43 L596.85 320.99 L598.29 321.4 L599.73 321.69 L601.18 321.89 L602.62 322.04 L604.06 322.14 L605.51 322.22 L606.95 322.27 L608.39 322.31 L609.84 322.34 L611.28 322.35 L612.72 322.37 L614.17 322.38 L615.61 322.38 L617.05 322.39 L618.5 322.39 L619.94 322.39 L621.38 322.4 L622.83 322.4 L624.27 322.4 L625.71 322.4 L627.16 322.4 L628.6 322.4" stroke="#0b4d32" fill="none" stroke-width="2.5" stroke-linejoin="round" stroke-linecap="round"/>
<path d="M542 258.03 L543.44 258.05 L544.89 258.07 L546.33 258.1 L547.77 258.15 L549.22 258.22 L550.66 258.32 L552.1 258.47 L553.55 258.69 L554.99 259 L556.43 259.46 L557.88 260.13 L559.32 261.07 L560.76 262.41 L562.21 264.28 L563.65 266.81 L565.09 270.15 L566.54 274.39 L567.98 279.5 L569.42 285.3 L570.87 291.44 L572.31 297.49 L573.75 303.04 L575.2 307.81 L576.64 311.69 L578.08 314.69 L579.53 316.94 L580.97 318.58 L582.41 319.75 L583.86 320.57 L585.3 321.14 L586.74 321.54 L588.19 321.81 L589.63 322 L591.07 322.12 L592.52 322.21 L593.96 322.27 L595.4 322.31 L596.85 322.34 L598.29 322.36 L599.73 322.37 L601.18 322.38 L602.62 322.39 L604.06 322.39 L605.51 322.39 L606.95 322.4 L608.39 322.4 L609.84 322.4 L611.28 322.4 L612.72 322.4 L614.17 322.4 L615.61 322.4 L617.05 322.4 L618.5 322.4 L619.94 322.4 L621.38 322.4 L622.83 322.4 L624.27 322.4 L625.71 322.4 L627.16 322.4 L628.6 322.4" stroke="#55b993" fill="none" stroke-width="2.5" stroke-linejoin="round" stroke-linecap="round"/>
<path d="M542 258 L543.44 258 L544.89 258 L546.33 258 L547.77 258 L549.22 258.01 L550.66 258.01 L552.1 258.02 L553.55 258.03 L554.99 258.05 L556.43 258.08 L557.88 258.13 L559.32 258.2 L560.76 258.33 L562.21 258.53 L563.65 258.85 L565.09 259.36 L566.54 260.17 L567.98 261.43 L569.42 263.36 L570.87 266.24 L572.31 270.34 L573.75 275.84 L575.2 282.62 L576.64 290.2 L578.08 297.78 L579.53 304.56 L580.97 310.06 L582.41 314.16 L583.86 317.04 L585.3 318.97 L586.74 320.23 L588.19 321.04 L589.63 321.55 L591.07 321.87 L592.52 322.07 L593.96 322.2 L595.4 322.27 L596.85 322.32 L598.29 322.35 L599.73 322.37 L601.18 322.38 L602.62 322.39 L604.06 322.39 L605.51 322.4 L606.95 322.4 L608.39 322.4 L609.84 322.4 L611.28 322.4 L612.72 322.4 L614.17 322.4 L615.61 322.4 L617.05 322.4 L618.5 322.4 L619.94 322.4 L621.38 322.4 L622.83 322.4 L624.27 322.4 L625.71 322.4 L627.16 322.4 L628.6 322.4" stroke="#129f6f" fill="none" stroke-width="2.5" stroke-linejoin="round" stroke-linecap="round"/>
<path d="M542 258.74 L543.44 258.93 L544.89 259.17 L546.33 259.47 L547.77 259.84 L549.22 260.3 L550.66 260.86 L552.1 261.57 L553.55 262.43 L554.99 263.47 L556.43 264.74 L557.88 266.26 L559.32 268.07 L560.76 270.18 L562.21 272.62 L563.65 275.39 L565.09 278.46 L566.54 281.8 L567.98 285.34 L569.42 289.01 L570.87 292.72 L572.31 296.35 L573.75 299.83 L575.2 303.08 L576.64 306.05 L578.08 308.69 L579.53 311.01 L580.97 313.01 L582.41 314.71 L583.86 316.14 L585.3 317.33 L586.74 318.3 L588.19 319.1 L589.63 319.75 L591.07 320.28 L592.52 320.7 L593.96 321.05 L595.4 321.32 L596.85 321.54 L598.29 321.71 L599.73 321.85 L601.18 321.97 L602.62 322.05 L604.06 322.13 L605.51 322.18 L606.95 322.23 L608.39 322.26 L609.84 322.29 L611.28 322.31 L612.72 322.33 L614.17 322.34 L615.61 322.36 L617.05 322.37 L618.5 322.37 L619.94 322.38 L621.38 322.38 L622.83 322.39 L624.27 322.39 L625.71 322.39 L627.16 322.39 L628.6 322.39" stroke="#e39e0b" fill="none" stroke-width="2.5" stroke-linejoin="round" stroke-linecap="round"/>
<path d="M542 258 L543.44 258 L544.89 258 L546.33 258 L547.77 258 L549.22 258 L550.66 258 L552.1 258 L553.55 258 L554.99 258 L556.43 258 L557.88 258 L559.32 258 L560.76 258 L562.21 258 L563.65 258 L565.09 258 L566.54 258 L567.98 258.02 L569.42 258.11 L570.87 258.74 L572.31 262.74 L573.75 280.61 L575.2 308.66 L576.64 319.93 L578.08 322.03 L579.53 322.34 L580.97 322.39 L582.41 322.4 L583.86 322.4 L585.3 322.4 L586.74 322.4 L588.19 322.4 L589.63 322.4 L591.07 322.4 L592.52 322.4 L593.96 322.4 L595.4 322.4 L596.85 322.4 L598.29 322.4 L599.73 322.4 L601.18 322.4 L602.62 322.4 L604.06 322.4 L605.51 322.4 L606.95 322.4 L608.39 322.4 L609.84 322.4 L611.28 322.4 L612.72 322.4 L614.17 322.4 L615.61 322.4 L617.05 322.4 L618.5 322.4 L619.94 322.4 L621.38 322.4 L622.83 322.4 L624.27 322.4 L625.71 322.4 L627.16 322.4 L628.6 322.4" stroke="#f2cd7c" fill="none" stroke-width="2.5" stroke-linejoin="round" stroke-linecap="round"/>
<text x="578.2" y="239.3" font-size="9.5" text-anchor="middle" fill="#000">Bortezomib</text>
<text x="578.2" y="249.1" font-size="8.4" text-anchor="middle" fill="#000">(Proteasome)</text>
<text x="-0.7" y="232" font-size="9.6" text-anchor="start" fill="#000" font-weight="bold">b</text>
<text x="17.4" y="291" font-size="9.8" text-anchor="middle" fill="#000" transform="rotate(-90 17.4 291)">Cell viability (%)</text>
<text x="337.8" y="361.8" font-size="9.7" text-anchor="middle" fill="#000">Concentration (µM)</text>
<line x1="649.1" y1="230.1" x2="661.9" y2="230.1" stroke="#f2cd7c" stroke-width="3"/>
<text x="664" y="233.2" font-size="8.5" text-anchor="start" fill="#000">3E</text>
<line x1="649.1" y1="242.64" x2="661.9" y2="242.64" stroke="#efc25f" stroke-width="3"/>
<text x="664" y="245.74" font-size="8.5" text-anchor="start" fill="#000">13E</text>
<line x1="649.1" y1="255.18" x2="661.9" y2="255.18" stroke="#e9ad37" stroke-width="3"/>
<text x="664" y="258.28" font-size="8.5" text-anchor="start" fill="#000">17E</text>
<line x1="649.1" y1="267.72" x2="661.9" y2="267.72" stroke="#e39e0b" stroke-width="3"/>
<text x="664" y="270.82" font-size="8.5" text-anchor="start" fill="#000">22E</text>
<line x1="649.1" y1="280.26" x2="661.9" y2="280.26" stroke="#8dd3b5" stroke-width="3"/>
<text x="664" y="283.36" font-size="8.5" text-anchor="start" fill="#000">8F<tspan font-size="5" dy="2.6">1</tspan></text>
<line x1="649.1" y1="292.8" x2="661.9" y2="292.8" stroke="#55b993" stroke-width="3"/>
<text x="664" y="295.9" font-size="8.5" text-anchor="start" fill="#000">17F<tspan font-size="5" dy="2.6">1</tspan></text>
<line x1="649.1" y1="305.34" x2="661.9" y2="305.34" stroke="#129f6f" stroke-width="3"/>
<text x="664" y="308.44" font-size="8.5" text-anchor="start" fill="#000">27F<tspan font-size="5" dy="2.6">1</tspan></text>
<line x1="649.1" y1="317.88" x2="661.9" y2="317.88" stroke="#0b4d32" stroke-width="3"/>
<text x="664" y="320.98" font-size="8.5" text-anchor="start" fill="#000">96F<tspan font-size="5" dy="2.6">1</tspan></text>
<line x1="649.1" y1="330.42" x2="661.9" y2="330.42" stroke="#8fc9ee" stroke-width="3"/>
<text x="664" y="333.52" font-size="8.5" text-anchor="start" fill="#000">10F<tspan font-size="5" dy="2.6">2</tspan></text>
<line x1="649.1" y1="342.96" x2="661.9" y2="342.96" stroke="#56aee6" stroke-width="3"/>
<text x="664" y="346.06" font-size="8.5" text-anchor="start" fill="#000">13F<tspan font-size="5" dy="2.6">2</tspan></text>
<line x1="649.1" y1="355.5" x2="661.9" y2="355.5" stroke="#3a7fb0" stroke-width="3"/>
<text x="664" y="358.6" font-size="8.5" text-anchor="start" fill="#000">135F<tspan font-size="5" dy="2.6">2</tspan></text>
<text x="-0.8" y="372.8" font-size="9.8" text-anchor="start" fill="#000" font-weight="bold">c</text>
<text x="117.6" y="380.8" font-size="9.5" text-anchor="middle" fill="#000">Average viability at endpoint (10 µM)</text>
<line x1="28.8" y1="387.3" x2="28.8" y2="517.04" stroke="#2a2a2a" stroke-width="1.1"/>
<line x1="109" y1="387.3" x2="109" y2="517.04" stroke="#2a2a2a" stroke-width="1.1"/>
<line x1="157.2" y1="387.3" x2="157.2" y2="517.04" stroke="#2a2a2a" stroke-width="1.1"/>
<line x1="206.3" y1="387.3" x2="206.3" y2="517.04" stroke="#2a2a2a" stroke-width="1.1"/>
<line x1="28.3" y1="387.3" x2="206.8" y2="387.3" stroke="#2a2a2a" stroke-width="1.1"/>
<line x1="28.3" y1="401.6" x2="206.8" y2="401.6" stroke="#2a2a2a" stroke-width="1.1"/>
<line x1="28.3" y1="416.03" x2="206.8" y2="416.03" stroke="#2a2a2a" stroke-width="1.1"/>
<line x1="28.3" y1="430.46" x2="206.8" y2="430.46" stroke="#2a2a2a" stroke-width="1.1"/>
<line x1="28.3" y1="444.89" x2="206.8" y2="444.89" stroke="#2a2a2a" stroke-width="1.1"/>
<line x1="28.3" y1="459.32" x2="206.8" y2="459.32" stroke="#2a2a2a" stroke-width="1.1"/>
<line x1="28.3" y1="473.75" x2="206.8" y2="473.75" stroke="#2a2a2a" stroke-width="1.1"/>
<line x1="28.3" y1="488.18" x2="206.8" y2="488.18" stroke="#2a2a2a" stroke-width="1.1"/>
<line x1="28.3" y1="502.61" x2="206.8" y2="502.61" stroke="#2a2a2a" stroke-width="1.1"/>
<line x1="28.3" y1="517.04" x2="206.8" y2="517.04" stroke="#2a2a2a" stroke-width="1.1"/>
<text x="112" y="398.8" font-size="9.5" text-anchor="start" fill="#000" font-weight="bold">Embr.</text>
<text x="159.6" y="398.8" font-size="9.5" text-anchor="start" fill="#000" font-weight="bold">Fetal</text>
<text x="34.6" y="413.12" font-size="9.5" text-anchor="start" fill="#000">Romidepsin</text>
<text x="112" y="413.12" font-size="9.5" text-anchor="start" fill="#000">2±3%</text>
<text x="159.6" y="413.12" font-size="9.5" text-anchor="start" fill="#000">2±2%</text>
<text x="34.6" y="427.55" font-size="9.5" text-anchor="start" fill="#000">Fimepinostat</text>
<text x="112" y="427.55" font-size="9.5" text-anchor="start" fill="#000">4±2%</text>
<text x="159.6" y="427.55" font-size="9.5" text-anchor="start" fill="#000">4±1%</text>
<text x="34.6" y="441.98" font-size="9.5" text-anchor="start" fill="#000">Panobinostat</text>
<text x="112" y="441.98" font-size="9.5" text-anchor="start" fill="#000">6±2%</text>
<text x="159.6" y="441.98" font-size="9.5" text-anchor="start" fill="#000">5±2%</text>
<text x="34.6" y="456.41" font-size="9.5" text-anchor="start" fill="#000">Volasertib</text>
<text x="112" y="456.41" font-size="9.5" text-anchor="start" fill="#000">3±2%</text>
<text x="159.6" y="456.41" font-size="9.5" text-anchor="start" fill="#000">13±17%</text>
<text x="34.6" y="470.84" font-size="9.5" text-anchor="start" fill="#000">Bortezomib</text>
<text x="112" y="470.84" font-size="9.5" text-anchor="start" fill="#000">5±2%</text>
<text x="159.6" y="470.84" font-size="9.5" text-anchor="start" fill="#000">4±2%</text>
<text x="34.6" y="485.27" font-size="9.5" text-anchor="start" fill="#000">AZD4547</text>
<text x="112" y="485.27" font-size="9.5" text-anchor="start" fill="#000">17±10%</text>
<text x="159.6" y="485.27" font-size="9.5" text-anchor="start" fill="#000">68±29%</text>
<text x="34.6" y="499.69" font-size="9.5" text-anchor="start" fill="#000">Erdafitinib</text>
<text x="112" y="499.69" font-size="9.5" text-anchor="start" fill="#000">21±22%</text>
<text x="159.6" y="499.69" font-size="9.5" text-anchor="start" fill="#000">67±34%</text>
<text x="34.6" y="514.12" font-size="9.5" text-anchor="start" fill="#000">Afatinib</text>
<text x="112" y="514.12" font-size="9.5" text-anchor="start" fill="#000">60±11%</text>
<text x="159.6" y="514.12" font-size="9.5" text-anchor="start" fill="#000">33±25%</text>
<text x="227.4" y="372.9" font-size="9.6" text-anchor="start" fill="#000" font-weight="bold">d</text>
<text x="329.8" y="388" font-size="9.5" text-anchor="middle" fill="#000">Response to HDACi</text>
<path d="M266 406.5 L266 491.7 L394.3 491.7" stroke="#000" fill="none" stroke-width="1.2"/>
<line x1="263.5" y1="407" x2="266" y2="407" stroke="#000" stroke-width="1"/>
<text x="262.5" y="409.5" font-size="7" text-anchor="end" fill="#000">10</text>
<line x1="263.5" y1="423.94" x2="266" y2="423.94" stroke="#000" stroke-width="1"/>
<text x="262.5" y="426.44" font-size="7" text-anchor="end" fill="#000">1</text>
<line x1="263.5" y1="440.88" x2="266" y2="440.88" stroke="#000" stroke-width="1"/>
<text x="262.5" y="443.38" font-size="7" text-anchor="end" fill="#000">0.1</text>
<line x1="263.5" y1="457.82" x2="266" y2="457.82" stroke="#000" stroke-width="1"/>
<text x="262.5" y="460.32" font-size="7" text-anchor="end" fill="#000">0.01</text>
<line x1="263.5" y1="474.76" x2="266" y2="474.76" stroke="#000" stroke-width="1"/>
<text x="262.5" y="477.26" font-size="7" text-anchor="end" fill="#000">0.001</text>
<line x1="263.5" y1="491.7" x2="266" y2="491.7" stroke="#000" stroke-width="1"/>
<text x="262.5" y="494.2" font-size="7" text-anchor="end" fill="#000">0.0001</text>
<line x1="276.2" y1="491.7" x2="276.2" y2="494.2" stroke="#000" stroke-width="1"/>
<text x="279" y="499.5" font-size="8.4" text-anchor="end" fill="#000" transform="rotate(-45 279 499.5)">Romidepsin (1/2)</text>
<line x1="291.47" y1="491.7" x2="291.47" y2="494.2" stroke="#000" stroke-width="1"/>
<text x="294.27" y="499.5" font-size="8.4" text-anchor="end" fill="#000" transform="rotate(-45 294.27 499.5)">Fimepinostat (1/2/3/10)</text>
<line x1="306.74" y1="491.7" x2="306.74" y2="494.2" stroke="#000" stroke-width="1"/>
<text x="309.54" y="499.5" font-size="8.4" text-anchor="end" fill="#000" transform="rotate(-45 309.54 499.5)">Panobinostat (all)</text>
<line x1="322.01" y1="491.7" x2="322.01" y2="494.2" stroke="#000" stroke-width="1"/>
<text x="324.81" y="499.5" font-size="8.4" text-anchor="end" fill="#000" transform="rotate(-45 324.81 499.5)">LMK-235 (4/5)</text>
<line x1="337.28" y1="491.7" x2="337.28" y2="494.2" stroke="#000" stroke-width="1"/>
<text x="340.08" y="499.5" font-size="8.4" text-anchor="end" fill="#000" transform="rotate(-45 340.08 499.5)">Vorinostat (1/3)</text>
<line x1="352.55" y1="491.7" x2="352.55" y2="494.2" stroke="#000" stroke-width="1"/>
<text x="355.35" y="499.5" font-size="8.4" text-anchor="end" fill="#000" transform="rotate(-45 355.35 499.5)">Epidaza (1/2/3/10)</text>
<line x1="367.82" y1="491.7" x2="367.82" y2="494.2" stroke="#000" stroke-width="1"/>
<text x="370.62" y="499.5" font-size="8.4" text-anchor="end" fill="#000" transform="rotate(-45 370.62 499.5)">Entinostat (1/2/3)</text>
<line x1="383.09" y1="491.7" x2="383.09" y2="494.2" stroke="#000" stroke-width="1"/>
<text x="385.89" y="499.5" font-size="8.4" text-anchor="end" fill="#000" transform="rotate(-45 385.89 499.5)">PCI-34051 (8)</text>
<text x="242.6" y="449.8" font-size="9.8" text-anchor="middle" fill="#000" transform="rotate(-90 242.6 449.8)">IC50 (µM)</text>
<text x="393.5" y="488.3" font-size="8.3" text-anchor="end" fill="#000">N.D.</text>
<line x1="276.5" y1="464.1" x2="276.5" y2="468.2" stroke="#222" stroke-width="1"/>
<line x1="276.5" y1="475.1" x2="276.5" y2="482.6" stroke="#222" stroke-width="1"/>
<line x1="274.3" y1="464.1" x2="278.7" y2="464.1" stroke="#222" stroke-width="1"/>
<line x1="274.3" y1="482.6" x2="278.7" y2="482.6" stroke="#222" stroke-width="1"/>
<rect x="271.5" y="468.2" width="10" height="6.9" fill="#8f8f8f" stroke="#222" stroke-width="1"/>
<line x1="271.5" y1="468.9" x2="281.5" y2="468.9" stroke="#222" stroke-width="1"/>
<line x1="291.75" y1="441.9" x2="291.75" y2="449.3" stroke="#222" stroke-width="1"/>
<line x1="291.75" y1="464.6" x2="291.75" y2="464.6" stroke="#222" stroke-width="1"/>
<line x1="289.55" y1="441.9" x2="293.95" y2="441.9" stroke="#222" stroke-width="1"/>
<line x1="289.55" y1="464.6" x2="293.95" y2="464.6" stroke="#222" stroke-width="1"/>
<rect x="286.8" y="449.3" width="9.9" height="15.3" fill="#8f8f8f" stroke="#222" stroke-width="1"/>
<line x1="286.8" y1="451.9" x2="296.7" y2="451.9" stroke="#222" stroke-width="1"/>
<line x1="307.1" y1="437.5" x2="307.1" y2="443.4" stroke="#222" stroke-width="1"/>
<line x1="307.1" y1="455.5" x2="307.1" y2="464.6" stroke="#222" stroke-width="1"/>
<line x1="304.9" y1="437.5" x2="309.3" y2="437.5" stroke="#222" stroke-width="1"/>
<line x1="304.9" y1="464.6" x2="309.3" y2="464.6" stroke="#222" stroke-width="1"/>
<rect x="302" y="443.4" width="10.2" height="12.1" fill="#8f8f8f" stroke="#222" stroke-width="1"/>
<line x1="302" y1="445.5" x2="312.2" y2="445.5" stroke="#222" stroke-width="1"/>
<line x1="322.4" y1="419" x2="322.4" y2="421.2" stroke="#222" stroke-width="1"/>
<line x1="322.4" y1="427.5" x2="322.4" y2="429.6" stroke="#222" stroke-width="1"/>
<line x1="320.2" y1="419" x2="324.6" y2="419" stroke="#222" stroke-width="1"/>
<line x1="320.2" y1="429.6" x2="324.6" y2="429.6" stroke="#222" stroke-width="1"/>
<rect x="317.4" y="421.2" width="10" height="6.3" fill="#8f8f8f" stroke="#222" stroke-width="1"/>
<line x1="317.4" y1="423.7" x2="327.4" y2="423.7" stroke="#222" stroke-width="1"/>
<line x1="337.55" y1="413.8" x2="337.55" y2="418" stroke="#222" stroke-width="1"/>
<line x1="337.55" y1="423.3" x2="337.55" y2="427.1" stroke="#222" stroke-width="1"/>
<line x1="335.35" y1="413.8" x2="339.75" y2="413.8" stroke="#222" stroke-width="1"/>
<line x1="335.35" y1="427.1" x2="339.75" y2="427.1" stroke="#222" stroke-width="1"/>
<rect x="332.7" y="418" width="9.7" height="5.3" fill="#8f8f8f" stroke="#222" stroke-width="1"/>
<line x1="332.7" y1="420.5" x2="342.4" y2="420.5" stroke="#222" stroke-width="1"/>
<line x1="353.1" y1="407.4" x2="353.1" y2="411.2" stroke="#222" stroke-width="1"/>
<line x1="353.1" y1="417.4" x2="353.1" y2="423.9" stroke="#222" stroke-width="1"/>
<line x1="350.9" y1="407.4" x2="355.3" y2="407.4" stroke="#222" stroke-width="1"/>
<line x1="350.9" y1="423.9" x2="355.3" y2="423.9" stroke="#222" stroke-width="1"/>
<rect x="348.1" y="411.2" width="10" height="6.2" fill="#8f8f8f" stroke="#222" stroke-width="1"/>
<line x1="348.1" y1="412.3" x2="358.1" y2="412.3" stroke="#222" stroke-width="1"/>
<line x1="368.45" y1="409.5" x2="368.45" y2="415.9" stroke="#222" stroke-width="1"/>
<line x1="368.45" y1="420.5" x2="368.45" y2="429.2" stroke="#222" stroke-width="1"/>
<line x1="366.25" y1="409.5" x2="370.65" y2="409.5" stroke="#222" stroke-width="1"/>
<line x1="366.25" y1="429.2" x2="370.65" y2="429.2" stroke="#222" stroke-width="1"/>
<rect x="363.4" y="415.9" width="10.1" height="4.6" fill="#8f8f8f" stroke="#222" stroke-width="1"/>
<line x1="363.4" y1="418" x2="373.5" y2="418" stroke="#222" stroke-width="1"/>
<text x="422.6" y="372.9" font-size="8.8" text-anchor="start" fill="#000" font-weight="bold">e</text>
<text x="533.5" y="387.5" font-size="9.5" text-anchor="middle"><tspan font-style="italic">HDAC</tspan> expression</text>
<path d="M464.8 397.8 L464.8 489.6 L602.3 489.6" stroke="#222" fill="none" stroke-width="1.1"/>
<line x1="460.4" y1="398.3" x2="464.8" y2="398.3" stroke="#222" stroke-width="1"/>
<text x="459.2" y="400.9" font-size="7.4" text-anchor="end" fill="#000">0.4</text>
<line x1="460.4" y1="421.12" x2="464.8" y2="421.12" stroke="#222" stroke-width="1"/>
<text x="459.2" y="423.73" font-size="7.4" text-anchor="end" fill="#000">0.3</text>
<line x1="460.4" y1="443.95" x2="464.8" y2="443.95" stroke="#222" stroke-width="1"/>
<text x="459.2" y="446.55" font-size="7.4" text-anchor="end" fill="#000">0.2</text>
<line x1="460.4" y1="466.78" x2="464.8" y2="466.78" stroke="#222" stroke-width="1"/>
<text x="459.2" y="469.38" font-size="7.4" text-anchor="end" fill="#000">0.1</text>
<line x1="460.4" y1="489.6" x2="464.8" y2="489.6" stroke="#222" stroke-width="1"/>
<text x="459.2" y="492.2" font-size="7.4" text-anchor="end" fill="#000">0.0</text>
<line x1="477.1" y1="489.6" x2="477.1" y2="491.8" stroke="#222" stroke-width="1"/>
<text x="477.1" y="504.5" font-size="9" text-anchor="middle" fill="#000" font-style="italic">1</text>
<line x1="504.9" y1="489.6" x2="504.9" y2="491.8" stroke="#222" stroke-width="1"/>
<text x="504.9" y="504.5" font-size="9" text-anchor="middle" fill="#000" font-style="italic">2</text>
<line x1="532.9" y1="489.6" x2="532.9" y2="491.8" stroke="#222" stroke-width="1"/>
<text x="532.9" y="504.5" font-size="9" text-anchor="middle" fill="#000" font-style="italic">3</text>
<line x1="560.7" y1="489.6" x2="560.7" y2="491.8" stroke="#222" stroke-width="1"/>
<text x="560.7" y="504.5" font-size="9" text-anchor="middle" fill="#000" font-style="italic">8</text>
<line x1="589.2" y1="489.6" x2="589.2" y2="491.8" stroke="#222" stroke-width="1"/>
<text x="589.2" y="504.5" font-size="9" text-anchor="middle" fill="#000" font-style="italic">4</text>
<text x="531.2" y="518.6" font-size="9.5" text-anchor="middle" fill="#000" font-style="italic">HDAC</text>
<text x="429.8" y="444.5" font-size="9.5" text-anchor="middle" transform="rotate(-90 429.8 444.5)">Gene expression</text>
<text x="441.3" y="444.5" font-size="9.5" text-anchor="middle" transform="rotate(-90 441.3 444.5)">(dCt <tspan font-style="italic">GAPDH</tspan>)</text>
<line x1="472.05" y1="468.4" x2="472.05" y2="471" stroke="#222" stroke-width="0.9"/>
<line x1="470.55" y1="468.4" x2="473.55" y2="468.4" stroke="#222" stroke-width="0.9"/>
<rect x="468.3" y="471" width="7.5" height="13.6" fill="#eba427" stroke="#222" stroke-width="0.9"/>
<line x1="468.3" y1="479.1" x2="475.8" y2="479.1" stroke="#222" stroke-width="0.9"/>
<circle cx="472" cy="469.3" r="1.25" fill="#111"/>
<circle cx="472" cy="476.5" r="1.25" fill="#111"/>
<circle cx="471" cy="484.3" r="1.25" fill="#111"/>
<circle cx="473.5" cy="485" r="1.25" fill="#111"/>
<line x1="483" y1="484.3" x2="483" y2="485.3" stroke="#222" stroke-width="0.9"/>
<line x1="481.5" y1="484.3" x2="484.5" y2="484.3" stroke="#222" stroke-width="0.9"/>
<rect x="480.5" y="485.3" width="5" height="3.3" fill="#111" stroke="#222" stroke-width="0.9"/>
<line x1="480.5" y1="487.5" x2="485.5" y2="487.5" stroke="#222" stroke-width="0.9"/>
<circle cx="480.5" cy="487.5" r="1.25" fill="#111"/>
<circle cx="482" cy="486" r="1.25" fill="#111"/>
<circle cx="483.5" cy="487" r="1.25" fill="#111"/>
<circle cx="485" cy="485.2" r="1.25" fill="#111"/>
<circle cx="484" cy="488.3" r="1.25" fill="#111"/>
<line x1="500.1" y1="420.2" x2="500.1" y2="426.1" stroke="#222" stroke-width="0.9"/>
<line x1="498.6" y1="420.2" x2="501.6" y2="420.2" stroke="#222" stroke-width="0.9"/>
<rect x="496.8" y="426.1" width="6.6" height="27.8" fill="#eba427" stroke="#222" stroke-width="0.9"/>
<line x1="496.8" y1="447.4" x2="503.4" y2="447.4" stroke="#222" stroke-width="0.9"/>
<circle cx="500" cy="420.6" r="1.25" fill="#111"/>
<circle cx="500" cy="443" r="1.25" fill="#111"/>
<circle cx="497.5" cy="453.3" r="1.25" fill="#111"/>
<circle cx="502.5" cy="452.4" r="1.25" fill="#111"/>
<line x1="510.55" y1="470.5" x2="510.55" y2="472.8" stroke="#222" stroke-width="0.9"/>
<line x1="509.05" y1="470.5" x2="512.05" y2="470.5" stroke="#222" stroke-width="0.9"/>
<rect x="507.5" y="472.8" width="6.1" height="7.4" fill="#62bbe9" stroke="#222" stroke-width="0.9"/>
<line x1="507.5" y1="478.5" x2="513.6" y2="478.5" stroke="#222" stroke-width="0.9"/>
<circle cx="510.5" cy="470.8" r="1.25" fill="#111"/>
<circle cx="509" cy="480" r="1.25" fill="#111"/>
<circle cx="512.5" cy="479.6" r="1.25" fill="#111"/>
<circle cx="511" cy="476" r="1.25" fill="#111"/>
<line x1="528.3" y1="479.8" x2="528.3" y2="480.9" stroke="#222" stroke-width="0.9"/>
<line x1="526.8" y1="479.8" x2="529.8" y2="479.8" stroke="#222" stroke-width="0.9"/>
<rect x="525" y="480.9" width="6.6" height="5.4" fill="#eba427" stroke="#222" stroke-width="0.9"/>
<line x1="525" y1="483.8" x2="531.6" y2="483.8" stroke="#222" stroke-width="0.9"/>
<circle cx="528" cy="480" r="1.25" fill="#111"/>
<circle cx="526" cy="486" r="1.25" fill="#111"/>
<circle cx="530.5" cy="485" r="1.25" fill="#111"/>
<circle cx="529" cy="482.5" r="1.25" fill="#111"/>
<line x1="539" y1="485.7" x2="539" y2="487.5" stroke="#222" stroke-width="0.9"/>
<line x1="537.5" y1="485.7" x2="540.5" y2="485.7" stroke="#222" stroke-width="0.9"/>
<rect x="536" y="487.5" width="6" height="1.5" fill="#111" stroke="#222" stroke-width="0.9"/>
<line x1="536" y1="488.5" x2="542" y2="488.5" stroke="#222" stroke-width="0.9"/>
<circle cx="538.8" cy="485.7" r="1.25" fill="#111"/>
<circle cx="536.5" cy="488.5" r="1.25" fill="#111"/>
<circle cx="541.5" cy="488.5" r="1.25" fill="#111"/>
<rect x="553" y="484.8" width="6.6" height="3.3" fill="#111" stroke="#222" stroke-width="0.9"/>
<line x1="553" y1="486.5" x2="559.6" y2="486.5" stroke="#222" stroke-width="0.9"/>
<circle cx="553.5" cy="485" r="1.25" fill="#111"/>
<circle cx="556" cy="485.5" r="1.25" fill="#111"/>
<circle cx="558.5" cy="484.5" r="1.25" fill="#111"/>
<circle cx="555" cy="488" r="1.25" fill="#111"/>
<rect x="564" y="487.8" width="6.6" height="1.4" fill="#111" stroke="#222" stroke-width="0.9"/>
<line x1="564" y1="488.6" x2="570.6" y2="488.6" stroke="#222" stroke-width="0.9"/>
<circle cx="565" cy="488.2" r="1.25" fill="#111"/>
<circle cx="567.5" cy="488.5" r="1.25" fill="#111"/>
<circle cx="569.8" cy="488.2" r="1.25" fill="#111"/>
<circle cx="582.5" cy="489" r="1.1" fill="#111"/>
<circle cx="584.5" cy="489" r="1.1" fill="#111"/>
<circle cx="586.5" cy="489" r="1.1" fill="#111"/>
<circle cx="588.5" cy="489" r="1.1" fill="#111"/>
<circle cx="592" cy="489" r="1.1" fill="#111"/>
<circle cx="594" cy="489" r="1.1" fill="#111"/>
<circle cx="596" cy="489" r="1.1" fill="#111"/>
<circle cx="598" cy="489" r="1.1" fill="#111"/>
<path d="M471.4 411.5 L471.4 404.9 L484.5 404.9 L484.5 411.5" stroke="#222" fill="none" stroke-width="1"/>
<text x="477.95" y="405.2" font-size="8.5" text-anchor="middle" fill="#000">*</text>
<path d="M499.4 411.5 L499.4 404.9 L512.6 404.9 L512.6 411.5" stroke="#222" fill="none" stroke-width="1"/>
<text x="506" y="405.2" font-size="8.5" text-anchor="middle" fill="#000">***</text>
<path d="M525.3 411.5 L525.3 404.9 L538.4 404.9 L538.4 411.5" stroke="#222" fill="none" stroke-width="1"/>
<text x="531.85" y="405.2" font-size="8.5" text-anchor="middle" fill="#000">**</text>
<path d="M552 411.5 L552 404.9 L565.5 404.9 L565.5 411.5" stroke="#222" fill="none" stroke-width="1"/>
<text x="558.75" y="405.2" font-size="8.5" text-anchor="middle" fill="#000">***</text>
<path d="M582.2 411.5 L582.2 404.9 L595.8 404.9 L595.8 411.5" stroke="#222" fill="none" stroke-width="1"/>
<text x="589" y="402.3" font-size="7" text-anchor="middle" fill="#000">ns</text>
<rect x="617.5" y="433.3" width="11" height="6.3" fill="#eba427" stroke="#222" stroke-width="0.9"/>
<rect x="617.5" y="446.3" width="11" height="6.3" fill="#62bbe9" stroke="#222" stroke-width="0.9"/>
<text x="631.6" y="439.8" font-size="9" text-anchor="start" fill="#000">Embryonal</text>
<text x="631.6" y="452.8" font-size="9" text-anchor="start" fill="#000">Fetal</text>
<text x="1.6" y="548.6" font-size="9.8" text-anchor="start" fill="#000" font-weight="bold">f</text>
<text x="109" y="547.5" font-size="9.5" text-anchor="middle" fill="#000">Fetal vs embryonal</text>
<path d="M38.3 555.7 L38.3 684.7 L178.7 684.7" stroke="#111" fill="none" stroke-width="1.5"/>
<line x1="36.1" y1="679.7" x2="38.3" y2="679.7" stroke="#000" stroke-width="1"/>
<text x="35.3" y="682.1" font-size="6.8" text-anchor="end" fill="#000">0.0</text>
<line x1="36.1" y1="653.65" x2="38.3" y2="653.65" stroke="#000" stroke-width="1"/>
<text x="35.3" y="656.05" font-size="6.8" text-anchor="end" fill="#000">0.5</text>
<line x1="36.1" y1="627.6" x2="38.3" y2="627.6" stroke="#000" stroke-width="1"/>
<text x="35.3" y="630" font-size="6.8" text-anchor="end" fill="#000">1.0</text>
<line x1="36.1" y1="601.55" x2="38.3" y2="601.55" stroke="#000" stroke-width="1"/>
<text x="35.3" y="603.95" font-size="6.8" text-anchor="end" fill="#000">1.5</text>
<line x1="36.1" y1="575.5" x2="38.3" y2="575.5" stroke="#000" stroke-width="1"/>
<text x="35.3" y="577.9" font-size="6.8" text-anchor="end" fill="#000">2.0</text>
<line x1="71.1" y1="684.7" x2="71.1" y2="686.7" stroke="#000" stroke-width="1"/>
<text x="71.1" y="693.5" font-size="6.8" text-anchor="middle" fill="#000">−0.4</text>
<line x1="108.6" y1="684.7" x2="108.6" y2="686.7" stroke="#000" stroke-width="1"/>
<text x="108.6" y="693.5" font-size="6.8" text-anchor="middle" fill="#000">0.0</text>
<line x1="146.1" y1="684.7" x2="146.1" y2="686.7" stroke="#000" stroke-width="1"/>
<text x="146.1" y="693.5" font-size="6.8" text-anchor="middle" fill="#000">0.4</text>
<text x="18.5" y="615.5" font-size="9.5" text-anchor="middle" fill="#000" transform="rotate(-90 18.5 615.5)">−log10(p-value)</text>
<text x="109" y="706.8" font-size="9.5" text-anchor="middle" fill="#000">log2(AUC_fetal/AUC_emb)</text>
<circle cx="93.7" cy="563.6" r="2.2" fill="#a9a9a9" stroke="#1a1a1a" stroke-width="0.9"/>
<circle cx="117.3" cy="560.5" r="2.2" fill="#a9a9a9" stroke="#1a1a1a" stroke-width="0.9"/>
<circle cx="96.3" cy="595.3" r="2.2" fill="#a9a9a9" stroke="#1a1a1a" stroke-width="0.9"/>
<circle cx="123" cy="595.3" r="2.2" fill="#a9a9a9" stroke="#1a1a1a" stroke-width="0.9"/>
<circle cx="118.2" cy="608" r="2.2" fill="#a9a9a9" stroke="#1a1a1a" stroke-width="0.9"/>
<circle cx="107.3" cy="611.3" r="2.2" fill="#a9a9a9" stroke="#1a1a1a" stroke-width="0.9"/>
<circle cx="108.4" cy="615.3" r="2.2" fill="#a9a9a9" stroke="#1a1a1a" stroke-width="0.9"/>
<circle cx="74" cy="620" r="2.2" fill="#a9a9a9" stroke="#1a1a1a" stroke-width="0.9"/>
<circle cx="84.3" cy="620" r="2.2" fill="#a9a9a9" stroke="#1a1a1a" stroke-width="0.9"/>
<circle cx="117.1" cy="620" r="2.2" fill="#a9a9a9" stroke="#1a1a1a" stroke-width="0.9"/>
<circle cx="122.1" cy="620" r="2.2" fill="#a9a9a9" stroke="#1a1a1a" stroke-width="0.9"/>
<circle cx="140.5" cy="620" r="2.2" fill="#a9a9a9" stroke="#1a1a1a" stroke-width="0.9"/>
<circle cx="146.2" cy="620" r="2.2" fill="#a9a9a9" stroke="#1a1a1a" stroke-width="0.9"/>
<circle cx="153.7" cy="620" r="2.2" fill="#a9a9a9" stroke="#1a1a1a" stroke-width="0.9"/>
<circle cx="86.5" cy="629.3" r="2.2" fill="#a9a9a9" stroke="#1a1a1a" stroke-width="0.9"/>
<circle cx="88.6" cy="638.7" r="2.2" fill="#a9a9a9" stroke="#1a1a1a" stroke-width="0.9"/>
<circle cx="76.6" cy="653.4" r="2.2" fill="#a9a9a9" stroke="#1a1a1a" stroke-width="0.9"/>
<circle cx="85.4" cy="653.4" r="2.2" fill="#a9a9a9" stroke="#1a1a1a" stroke-width="0.9"/>
<circle cx="146.2" cy="653.4" r="2.2" fill="#a9a9a9" stroke="#1a1a1a" stroke-width="0.9"/>
<circle cx="163.7" cy="659.5" r="2.2" fill="#a9a9a9" stroke="#1a1a1a" stroke-width="0.9"/>
<circle cx="142.3" cy="674.8" r="2.2" fill="#a9a9a9" stroke="#1a1a1a" stroke-width="0.9"/>
<circle cx="156.5" cy="679.6" r="2.2" fill="#a9a9a9" stroke="#1a1a1a" stroke-width="0.9"/>
<circle cx="139" cy="629.3" r="2.2" fill="#a9a9a9" stroke="#1a1a1a" stroke-width="0.9"/>
<circle cx="142.3" cy="631" r="2.2" fill="#a9a9a9" stroke="#1a1a1a" stroke-width="0.9"/>
<circle cx="133.5" cy="633.6" r="2.2" fill="#a9a9a9" stroke="#1a1a1a" stroke-width="0.9"/>
<circle cx="134.6" cy="638.7" r="2.2" fill="#a9a9a9" stroke="#1a1a1a" stroke-width="0.9"/>
<circle cx="133.5" cy="646.3" r="2.2" fill="#a9a9a9" stroke="#1a1a1a" stroke-width="0.9"/>
<circle cx="134.6" cy="658.8" r="2.2" fill="#a9a9a9" stroke="#1a1a1a" stroke-width="0.9"/>
<circle cx="129.6" cy="629.3" r="2.2" fill="#a9a9a9" stroke="#1a1a1a" stroke-width="0.9"/>
<circle cx="116.14" cy="656.52" r="2.2" fill="#a9a9a9" stroke="#1a1a1a" stroke-width="0.9"/>
<circle cx="109.96" cy="661.1" r="2.2" fill="#a9a9a9" stroke="#1a1a1a" stroke-width="0.9"/>
<circle cx="113.04" cy="654.42" r="2.2" fill="#a9a9a9" stroke="#1a1a1a" stroke-width="0.9"/>
<circle cx="120.85" cy="671.44" r="2.2" fill="#a9a9a9" stroke="#1a1a1a" stroke-width="0.9"/>
<circle cx="104.47" cy="656.68" r="2.2" fill="#a9a9a9" stroke="#1a1a1a" stroke-width="0.9"/>
<circle cx="116.72" cy="666.88" r="2.2" fill="#a9a9a9" stroke="#1a1a1a" stroke-width="0.9"/>
<circle cx="120.49" cy="650.32" r="2.2" fill="#a9a9a9" stroke="#1a1a1a" stroke-width="0.9"/>
<circle cx="111.71" cy="678.96" r="2.2" fill="#a9a9a9" stroke="#1a1a1a" stroke-width="0.9"/>
<circle cx="111.33" cy="629.59" r="2.2" fill="#a9a9a9" stroke="#1a1a1a" stroke-width="0.9"/>
<circle cx="105.74" cy="665.3" r="2.2" fill="#a9a9a9" stroke="#1a1a1a" stroke-width="0.9"/>
<circle cx="114.45" cy="679.09" r="2.2" fill="#a9a9a9" stroke="#1a1a1a" stroke-width="0.9"/>
<circle cx="113.09" cy="674.1" r="2.2" fill="#a9a9a9" stroke="#1a1a1a" stroke-width="0.9"/>
<circle cx="118.08" cy="675.54" r="2.2" fill="#a9a9a9" stroke="#1a1a1a" stroke-width="0.9"/>
<circle cx="114.96" cy="659.06" r="2.2" fill="#a9a9a9" stroke="#1a1a1a" stroke-width="0.9"/>
<circle cx="118.56" cy="645.2" r="2.2" fill="#a9a9a9" stroke="#1a1a1a" stroke-width="0.9"/>
<circle cx="112.29" cy="652.61" r="2.2" fill="#a9a9a9" stroke="#1a1a1a" stroke-width="0.9"/>
<circle cx="113.51" cy="651.52" r="2.2" fill="#a9a9a9" stroke="#1a1a1a" stroke-width="0.9"/>
<circle cx="114.96" cy="665.43" r="2.2" fill="#a9a9a9" stroke="#1a1a1a" stroke-width="0.9"/>
<circle cx="113.13" cy="627" r="2.2" fill="#a9a9a9" stroke="#1a1a1a" stroke-width="0.9"/>
<circle cx="104.45" cy="664.15" r="2.2" fill="#a9a9a9" stroke="#1a1a1a" stroke-width="0.9"/>
<circle cx="117.88" cy="675.24" r="2.2" fill="#a9a9a9" stroke="#1a1a1a" stroke-width="0.9"/>
<circle cx="115.92" cy="679.15" r="2.2" fill="#a9a9a9" stroke="#1a1a1a" stroke-width="0.9"/>
<circle cx="106.92" cy="678.93" r="2.2" fill="#a9a9a9" stroke="#1a1a1a" stroke-width="0.9"/>
<circle cx="108.04" cy="669.73" r="2.2" fill="#a9a9a9" stroke="#1a1a1a" stroke-width="0.9"/>
<circle cx="109.84" cy="643.56" r="2.2" fill="#a9a9a9" stroke="#1a1a1a" stroke-width="0.9"/>
<circle cx="113.52" cy="667.28" r="2.2" fill="#a9a9a9" stroke="#1a1a1a" stroke-width="0.9"/>
<circle cx="109.36" cy="661.95" r="2.2" fill="#a9a9a9" stroke="#1a1a1a" stroke-width="0.9"/>
<circle cx="112.65" cy="661.02" r="2.2" fill="#a9a9a9" stroke="#1a1a1a" stroke-width="0.9"/>
<circle cx="117.87" cy="655.73" r="2.2" fill="#a9a9a9" stroke="#1a1a1a" stroke-width="0.9"/>
<circle cx="108.38" cy="678.17" r="2.2" fill="#a9a9a9" stroke="#1a1a1a" stroke-width="0.9"/>
<circle cx="116.69" cy="665.64" r="2.2" fill="#a9a9a9" stroke="#1a1a1a" stroke-width="0.9"/>
<circle cx="110.8" cy="648.16" r="2.2" fill="#a9a9a9" stroke="#1a1a1a" stroke-width="0.9"/>
<circle cx="116.91" cy="669.9" r="2.2" fill="#a9a9a9" stroke="#1a1a1a" stroke-width="0.9"/>
<circle cx="114.88" cy="675.34" r="2.2" fill="#a9a9a9" stroke="#1a1a1a" stroke-width="0.9"/>
<circle cx="109.57" cy="677.36" r="2.2" fill="#a9a9a9" stroke="#1a1a1a" stroke-width="0.9"/>
<circle cx="110.76" cy="660.71" r="2.2" fill="#a9a9a9" stroke="#1a1a1a" stroke-width="0.9"/>
<circle cx="123.68" cy="669.18" r="2.2" fill="#a9a9a9" stroke="#1a1a1a" stroke-width="0.9"/>
<circle cx="120.76" cy="661.46" r="2.2" fill="#a9a9a9" stroke="#1a1a1a" stroke-width="0.9"/>
<circle cx="118.26" cy="665.45" r="2.2" fill="#a9a9a9" stroke="#1a1a1a" stroke-width="0.9"/>
<circle cx="118.57" cy="677.33" r="2.2" fill="#a9a9a9" stroke="#1a1a1a" stroke-width="0.9"/>
<circle cx="111.14" cy="645.53" r="2.2" fill="#a9a9a9" stroke="#1a1a1a" stroke-width="0.9"/>
<circle cx="126.78" cy="667.12" r="2.2" fill="#a9a9a9" stroke="#1a1a1a" stroke-width="0.9"/>
<circle cx="119.91" cy="676.11" r="2.2" fill="#a9a9a9" stroke="#1a1a1a" stroke-width="0.9"/>
<circle cx="105.72" cy="663.52" r="2.2" fill="#a9a9a9" stroke="#1a1a1a" stroke-width="0.9"/>
<circle cx="126.77" cy="632.33" r="2.2" fill="#a9a9a9" stroke="#1a1a1a" stroke-width="0.9"/>
<circle cx="118.44" cy="677.46" r="2.2" fill="#a9a9a9" stroke="#1a1a1a" stroke-width="0.9"/>
<circle cx="107.71" cy="678.46" r="2.2" fill="#a9a9a9" stroke="#1a1a1a" stroke-width="0.9"/>
<circle cx="115.95" cy="678.76" r="2.2" fill="#a9a9a9" stroke="#1a1a1a" stroke-width="0.9"/>
<circle cx="118.43" cy="658.68" r="2.2" fill="#a9a9a9" stroke="#1a1a1a" stroke-width="0.9"/>
<circle cx="122.34" cy="679.81" r="2.2" fill="#a9a9a9" stroke="#1a1a1a" stroke-width="0.9"/>
<circle cx="118.9" cy="665.79" r="2.2" fill="#a9a9a9" stroke="#1a1a1a" stroke-width="0.9"/>
<circle cx="111.47" cy="658.76" r="2.2" fill="#a9a9a9" stroke="#1a1a1a" stroke-width="0.9"/>
<circle cx="106.96" cy="645.19" r="2.2" fill="#a9a9a9" stroke="#1a1a1a" stroke-width="0.9"/>
<circle cx="116.98" cy="676.26" r="2.2" fill="#a9a9a9" stroke="#1a1a1a" stroke-width="0.9"/>
<circle cx="106.35" cy="650.04" r="2.2" fill="#a9a9a9" stroke="#1a1a1a" stroke-width="0.9"/>
<circle cx="117.72" cy="680.96" r="2.2" fill="#a9a9a9" stroke="#1a1a1a" stroke-width="0.9"/>
<circle cx="97.95" cy="677.85" r="2.2" fill="#a9a9a9" stroke="#1a1a1a" stroke-width="0.9"/>
<circle cx="129.28" cy="664.87" r="2.2" fill="#a9a9a9" stroke="#1a1a1a" stroke-width="0.9"/>
<circle cx="107.17" cy="660.91" r="2.2" fill="#a9a9a9" stroke="#1a1a1a" stroke-width="0.9"/>
<circle cx="114.98" cy="672.75" r="2.2" fill="#a9a9a9" stroke="#1a1a1a" stroke-width="0.9"/>
<circle cx="118.13" cy="631.22" r="2.2" fill="#a9a9a9" stroke="#1a1a1a" stroke-width="0.9"/>
<circle cx="123.69" cy="678.73" r="2.2" fill="#a9a9a9" stroke="#1a1a1a" stroke-width="0.9"/>
<circle cx="125.66" cy="679.37" r="2.2" fill="#a9a9a9" stroke="#1a1a1a" stroke-width="0.9"/>
<circle cx="110.28" cy="667.3" r="2.2" fill="#a9a9a9" stroke="#1a1a1a" stroke-width="0.9"/>
<circle cx="123.17" cy="666.58" r="2.2" fill="#a9a9a9" stroke="#1a1a1a" stroke-width="0.9"/>
<circle cx="115.54" cy="667.92" r="2.2" fill="#a9a9a9" stroke="#1a1a1a" stroke-width="0.9"/>
<circle cx="108.35" cy="644.57" r="2.2" fill="#a9a9a9" stroke="#1a1a1a" stroke-width="0.9"/>
<circle cx="109.9" cy="668.79" r="2.2" fill="#a9a9a9" stroke="#1a1a1a" stroke-width="0.9"/>
<circle cx="111.24" cy="669.27" r="2.2" fill="#a9a9a9" stroke="#1a1a1a" stroke-width="0.9"/>
<circle cx="114.06" cy="665.25" r="2.2" fill="#a9a9a9" stroke="#1a1a1a" stroke-width="0.9"/>
<circle cx="114.28" cy="674.34" r="2.2" fill="#a9a9a9" stroke="#1a1a1a" stroke-width="0.9"/>
<circle cx="119.23" cy="672.42" r="2.2" fill="#a9a9a9" stroke="#1a1a1a" stroke-width="0.9"/>
<circle cx="111.94" cy="671.45" r="2.2" fill="#a9a9a9" stroke="#1a1a1a" stroke-width="0.9"/>
<circle cx="124.8" cy="653.73" r="2.2" fill="#a9a9a9" stroke="#1a1a1a" stroke-width="0.9"/>
<circle cx="112.23" cy="651.96" r="2.2" fill="#a9a9a9" stroke="#1a1a1a" stroke-width="0.9"/>
<circle cx="105.23" cy="671.43" r="2.2" fill="#a9a9a9" stroke="#1a1a1a" stroke-width="0.9"/>
<circle cx="114.85" cy="677.6" r="2.2" fill="#a9a9a9" stroke="#1a1a1a" stroke-width="0.9"/>
<circle cx="115.32" cy="637.37" r="2.2" fill="#a9a9a9" stroke="#1a1a1a" stroke-width="0.9"/>
<circle cx="97.5" cy="665.44" r="2.2" fill="#a9a9a9" stroke="#1a1a1a" stroke-width="0.9"/>
<circle cx="114.84" cy="652.81" r="2.2" fill="#a9a9a9" stroke="#1a1a1a" stroke-width="0.9"/>
<circle cx="114.79" cy="648.81" r="2.2" fill="#a9a9a9" stroke="#1a1a1a" stroke-width="0.9"/>
<circle cx="131" cy="648.83" r="2.2" fill="#a9a9a9" stroke="#1a1a1a" stroke-width="0.9"/>
<circle cx="117.48" cy="658.62" r="2.2" fill="#a9a9a9" stroke="#1a1a1a" stroke-width="0.9"/>
<circle cx="99.44" cy="677.5" r="2.2" fill="#a9a9a9" stroke="#1a1a1a" stroke-width="0.9"/>
<circle cx="103.32" cy="678.47" r="2.2" fill="#a9a9a9" stroke="#1a1a1a" stroke-width="0.9"/>
<circle cx="99.09" cy="669.08" r="2.2" fill="#a9a9a9" stroke="#1a1a1a" stroke-width="0.9"/>
<circle cx="121.87" cy="662.85" r="2.2" fill="#a9a9a9" stroke="#1a1a1a" stroke-width="0.9"/>
<circle cx="105.05" cy="648.12" r="2.2" fill="#a9a9a9" stroke="#1a1a1a" stroke-width="0.9"/>
<circle cx="119.76" cy="650.32" r="2.2" fill="#a9a9a9" stroke="#1a1a1a" stroke-width="0.9"/>
<circle cx="106.75" cy="663.94" r="2.2" fill="#a9a9a9" stroke="#1a1a1a" stroke-width="0.9"/>
<circle cx="108.8" cy="667.11" r="2.2" fill="#a9a9a9" stroke="#1a1a1a" stroke-width="0.9"/>
<circle cx="108.76" cy="657.21" r="2.2" fill="#a9a9a9" stroke="#1a1a1a" stroke-width="0.9"/>
<circle cx="118.33" cy="655.99" r="2.2" fill="#a9a9a9" stroke="#1a1a1a" stroke-width="0.9"/>
<circle cx="112.87" cy="639.87" r="2.2" fill="#a9a9a9" stroke="#1a1a1a" stroke-width="0.9"/>
<circle cx="107.06" cy="678.29" r="2.2" fill="#a9a9a9" stroke="#1a1a1a" stroke-width="0.9"/>
<circle cx="104.9" cy="678.52" r="2.2" fill="#a9a9a9" stroke="#1a1a1a" stroke-width="0.9"/>
<circle cx="118.53" cy="645.45" r="2.2" fill="#a9a9a9" stroke="#1a1a1a" stroke-width="0.9"/>
<circle cx="119.42" cy="652.2" r="2.2" fill="#a9a9a9" stroke="#1a1a1a" stroke-width="0.9"/>
<circle cx="115.27" cy="654.35" r="2.2" fill="#a9a9a9" stroke="#1a1a1a" stroke-width="0.9"/>
<circle cx="114.09" cy="666.64" r="2.2" fill="#a9a9a9" stroke="#1a1a1a" stroke-width="0.9"/>
<circle cx="106.11" cy="673.52" r="2.2" fill="#a9a9a9" stroke="#1a1a1a" stroke-width="0.9"/>
<circle cx="102.86" cy="647.15" r="2.2" fill="#a9a9a9" stroke="#1a1a1a" stroke-width="0.9"/>
<circle cx="114.48" cy="680.89" r="2.2" fill="#a9a9a9" stroke="#1a1a1a" stroke-width="0.9"/>
<circle cx="123.06" cy="671.51" r="2.2" fill="#a9a9a9" stroke="#1a1a1a" stroke-width="0.9"/>
<circle cx="117.33" cy="677.42" r="2.2" fill="#a9a9a9" stroke="#1a1a1a" stroke-width="0.9"/>
<circle cx="107.77" cy="656.63" r="2.2" fill="#a9a9a9" stroke="#1a1a1a" stroke-width="0.9"/>
<circle cx="118.98" cy="641.6" r="2.2" fill="#a9a9a9" stroke="#1a1a1a" stroke-width="0.9"/>
<circle cx="122.38" cy="667.23" r="2.2" fill="#a9a9a9" stroke="#1a1a1a" stroke-width="0.9"/>
<circle cx="120.18" cy="674.25" r="2.2" fill="#a9a9a9" stroke="#1a1a1a" stroke-width="0.9"/>
<circle cx="99.34" cy="665.73" r="2.2" fill="#a9a9a9" stroke="#1a1a1a" stroke-width="0.9"/>
<circle cx="108.93" cy="666.62" r="2.2" fill="#a9a9a9" stroke="#1a1a1a" stroke-width="0.9"/>
<circle cx="110.54" cy="665.88" r="2.2" fill="#a9a9a9" stroke="#1a1a1a" stroke-width="0.9"/>
<circle cx="119.52" cy="665.64" r="2.2" fill="#a9a9a9" stroke="#1a1a1a" stroke-width="0.9"/>
<circle cx="102.04" cy="660.77" r="2.2" fill="#a9a9a9" stroke="#1a1a1a" stroke-width="0.9"/>
<circle cx="97.5" cy="669.19" r="2.2" fill="#a9a9a9" stroke="#1a1a1a" stroke-width="0.9"/>
<circle cx="117.43" cy="678.96" r="2.2" fill="#a9a9a9" stroke="#1a1a1a" stroke-width="0.9"/>
<circle cx="115.17" cy="665.72" r="2.2" fill="#a9a9a9" stroke="#1a1a1a" stroke-width="0.9"/>
<circle cx="120.14" cy="676.37" r="2.2" fill="#a9a9a9" stroke="#1a1a1a" stroke-width="0.9"/>
<circle cx="107.84" cy="664.57" r="2.2" fill="#a9a9a9" stroke="#1a1a1a" stroke-width="0.9"/>
<circle cx="125.43" cy="665.73" r="2.2" fill="#a9a9a9" stroke="#1a1a1a" stroke-width="0.9"/>
<circle cx="112.64" cy="659.19" r="2.2" fill="#a9a9a9" stroke="#1a1a1a" stroke-width="0.9"/>
<circle cx="114.25" cy="676.49" r="2.2" fill="#a9a9a9" stroke="#1a1a1a" stroke-width="0.9"/>
<circle cx="112.13" cy="676.94" r="2.2" fill="#a9a9a9" stroke="#1a1a1a" stroke-width="0.9"/>
<circle cx="105.16" cy="674.32" r="2.2" fill="#a9a9a9" stroke="#1a1a1a" stroke-width="0.9"/>
<circle cx="124.65" cy="668.16" r="2.2" fill="#a9a9a9" stroke="#1a1a1a" stroke-width="0.9"/>
<circle cx="113.93" cy="670.27" r="2.2" fill="#a9a9a9" stroke="#1a1a1a" stroke-width="0.9"/>
<circle cx="113.91" cy="676.7" r="2.2" fill="#a9a9a9" stroke="#1a1a1a" stroke-width="0.9"/>
<circle cx="109.21" cy="673.93" r="2.2" fill="#a9a9a9" stroke="#1a1a1a" stroke-width="0.9"/>
<circle cx="115.08" cy="677.07" r="2.2" fill="#a9a9a9" stroke="#1a1a1a" stroke-width="0.9"/>
<circle cx="108.14" cy="666.03" r="2.2" fill="#a9a9a9" stroke="#1a1a1a" stroke-width="0.9"/>
<circle cx="106.16" cy="661.02" r="2.2" fill="#a9a9a9" stroke="#1a1a1a" stroke-width="0.9"/>
<circle cx="97.5" cy="663.2" r="2.2" fill="#a9a9a9" stroke="#1a1a1a" stroke-width="0.9"/>
<circle cx="109.46" cy="675.66" r="2.2" fill="#a9a9a9" stroke="#1a1a1a" stroke-width="0.9"/>
<circle cx="114.16" cy="668.6" r="2.2" fill="#a9a9a9" stroke="#1a1a1a" stroke-width="0.9"/>
<circle cx="114.03" cy="658.44" r="2.2" fill="#a9a9a9" stroke="#1a1a1a" stroke-width="0.9"/>
<circle cx="109.49" cy="678.2" r="2.2" fill="#a9a9a9" stroke="#1a1a1a" stroke-width="0.9"/>
<circle cx="119.48" cy="678.42" r="2.2" fill="#a9a9a9" stroke="#1a1a1a" stroke-width="0.9"/>
<circle cx="105.87" cy="673.12" r="2.2" fill="#a9a9a9" stroke="#1a1a1a" stroke-width="0.9"/>
<circle cx="105.75" cy="655.72" r="2.2" fill="#a9a9a9" stroke="#1a1a1a" stroke-width="0.9"/>
<circle cx="121.25" cy="653.2" r="2.2" fill="#a9a9a9" stroke="#1a1a1a" stroke-width="0.9"/>
<circle cx="111.92" cy="673.9" r="2.2" fill="#a9a9a9" stroke="#1a1a1a" stroke-width="0.9"/>
<circle cx="108.84" cy="651.81" r="2.2" fill="#a9a9a9" stroke="#1a1a1a" stroke-width="0.9"/>
<circle cx="118.95" cy="665.94" r="2.2" fill="#a9a9a9" stroke="#1a1a1a" stroke-width="0.9"/>
<circle cx="102.42" cy="650.07" r="2.2" fill="#a9a9a9" stroke="#1a1a1a" stroke-width="0.9"/>
<circle cx="119.73" cy="662.45" r="2.2" fill="#a9a9a9" stroke="#1a1a1a" stroke-width="0.9"/>
<circle cx="104.88" cy="655.08" r="2.2" fill="#a9a9a9" stroke="#1a1a1a" stroke-width="0.9"/>
<circle cx="110.85" cy="660.03" r="2.2" fill="#a9a9a9" stroke="#1a1a1a" stroke-width="0.9"/>
<circle cx="109.83" cy="673.13" r="2.2" fill="#a9a9a9" stroke="#1a1a1a" stroke-width="0.9"/>
<circle cx="101.45" cy="674.52" r="2.2" fill="#a9a9a9" stroke="#1a1a1a" stroke-width="0.9"/>
<circle cx="104.97" cy="660.98" r="2.2" fill="#a9a9a9" stroke="#1a1a1a" stroke-width="0.9"/>
<circle cx="127.49" cy="671.19" r="2.2" fill="#a9a9a9" stroke="#1a1a1a" stroke-width="0.9"/>
<circle cx="110.95" cy="627" r="2.2" fill="#a9a9a9" stroke="#1a1a1a" stroke-width="0.9"/>
<circle cx="110.57" cy="646.57" r="2.2" fill="#a9a9a9" stroke="#1a1a1a" stroke-width="0.9"/>
<circle cx="127.14" cy="662.21" r="2.2" fill="#a9a9a9" stroke="#1a1a1a" stroke-width="0.9"/>
<circle cx="108.6" cy="669.58" r="2.2" fill="#a9a9a9" stroke="#1a1a1a" stroke-width="0.9"/>
<circle cx="117.18" cy="662.28" r="2.2" fill="#a9a9a9" stroke="#1a1a1a" stroke-width="0.9"/>
<circle cx="109.7" cy="648.49" r="2.2" fill="#a9a9a9" stroke="#1a1a1a" stroke-width="0.9"/>
<circle cx="113.62" cy="676.21" r="2.2" fill="#a9a9a9" stroke="#1a1a1a" stroke-width="0.9"/>
<circle cx="111.28" cy="678.36" r="2.2" fill="#a9a9a9" stroke="#1a1a1a" stroke-width="0.9"/>
<circle cx="109.65" cy="677.2" r="2.2" fill="#a9a9a9" stroke="#1a1a1a" stroke-width="0.9"/>
<circle cx="123.9" cy="663.07" r="2.2" fill="#a9a9a9" stroke="#1a1a1a" stroke-width="0.9"/>
<circle cx="116.41" cy="673.79" r="2.2" fill="#a9a9a9" stroke="#1a1a1a" stroke-width="0.9"/>
<circle cx="112.31" cy="649.1" r="2.2" fill="#a9a9a9" stroke="#1a1a1a" stroke-width="0.9"/>
<circle cx="104.68" cy="664.62" r="2.2" fill="#a9a9a9" stroke="#1a1a1a" stroke-width="0.9"/>
<circle cx="110.8" cy="659.04" r="2.2" fill="#a9a9a9" stroke="#1a1a1a" stroke-width="0.9"/>
<circle cx="128.47" cy="629.72" r="2.2" fill="#a9a9a9" stroke="#1a1a1a" stroke-width="0.9"/>
<circle cx="106.64" cy="638.53" r="2.2" fill="#a9a9a9" stroke="#1a1a1a" stroke-width="0.9"/>
<circle cx="108.71" cy="642.58" r="2.2" fill="#a9a9a9" stroke="#1a1a1a" stroke-width="0.9"/>
<circle cx="119.17" cy="638.46" r="2.2" fill="#a9a9a9" stroke="#1a1a1a" stroke-width="0.9"/>
<circle cx="125.31" cy="639.2" r="2.2" fill="#a9a9a9" stroke="#1a1a1a" stroke-width="0.9"/>
<circle cx="109.35" cy="635.62" r="2.2" fill="#a9a9a9" stroke="#1a1a1a" stroke-width="0.9"/>
<circle cx="125.36" cy="646.01" r="2.2" fill="#a9a9a9" stroke="#1a1a1a" stroke-width="0.9"/>
<circle cx="106.25" cy="645.02" r="2.2" fill="#a9a9a9" stroke="#1a1a1a" stroke-width="0.9"/>
<circle cx="129.05" cy="638.48" r="2.2" fill="#a9a9a9" stroke="#1a1a1a" stroke-width="0.9"/>
<circle cx="117.19" cy="632.02" r="2.2" fill="#a9a9a9" stroke="#1a1a1a" stroke-width="0.9"/>
<circle cx="116.08" cy="638.06" r="2.2" fill="#a9a9a9" stroke="#1a1a1a" stroke-width="0.9"/>
<circle cx="118.16" cy="628.56" r="2.2" fill="#a9a9a9" stroke="#1a1a1a" stroke-width="0.9"/>
<circle cx="129.08" cy="638.32" r="2.2" fill="#a9a9a9" stroke="#1a1a1a" stroke-width="0.9"/>
<circle cx="112.02" cy="644.02" r="2.2" fill="#a9a9a9" stroke="#1a1a1a" stroke-width="0.9"/>
<circle cx="116.89" cy="637.82" r="2.2" fill="#a9a9a9" stroke="#1a1a1a" stroke-width="0.9"/>
<circle cx="120.73" cy="629.32" r="2.2" fill="#a9a9a9" stroke="#1a1a1a" stroke-width="0.9"/>
<circle cx="116.16" cy="636.28" r="2.2" fill="#a9a9a9" stroke="#1a1a1a" stroke-width="0.9"/>
<circle cx="128.71" cy="646.47" r="2.2" fill="#a9a9a9" stroke="#1a1a1a" stroke-width="0.9"/>
<circle cx="129.2" cy="563.6" r="2.5" fill="#000"/>
<circle cx="133.5" cy="563.6" r="2.5" fill="#000"/>
<circle cx="148.2" cy="576.3" r="2.5" fill="#000"/>
<circle cx="76.6" cy="595.3" r="2.5" fill="#000"/>
<circle cx="93" cy="595.3" r="2.5" fill="#000"/>
<circle cx="136.2" cy="598.6" r="2.5" fill="#000"/>
<circle cx="152.6" cy="596.4" r="2.5" fill="#000"/>
<circle cx="171.9" cy="595.3" r="2.5" fill="#000"/>
<circle cx="163.1" cy="605.2" r="2.5" fill="#000"/>
<circle cx="70.5" cy="608" r="2.5" fill="#000"/>
<circle cx="78.4" cy="608" r="2.5" fill="#000"/>
<circle cx="90.2" cy="608" r="2.5" fill="#000"/>
<circle cx="136.8" cy="608" r="2.5" fill="#000"/>
<line x1="93.7" y1="555.7" x2="93.7" y2="684.7" stroke="#111" stroke-width="1.5" stroke-dasharray="5 3"/>
<line x1="124.1" y1="555.7" x2="124.1" y2="684.7" stroke="#111" stroke-width="1.5" stroke-dasharray="5 3"/>
<line x1="38.3" y1="611.7" x2="178.7" y2="611.7" stroke="#111" stroke-width="1.5" stroke-dasharray="5 3"/>
<text x="63.6" y="564" font-size="7.2" text-anchor="start" fill="#5fb3e3">Varlitinib</text>
<text x="137.8" y="572.8" font-size="7.2" text-anchor="start" fill="#eaa43a">AZD4547</text>
<text x="156.8" y="587.4" font-size="7.2" text-anchor="start" fill="#eaa43a">Erdafitinib</text>
<text x="135.8" y="594.1" font-size="7.2" text-anchor="start" fill="#eaa43a">Futibatinib</text>
<text x="96.4" y="591.7" font-size="7.2" text-anchor="start" fill="#5fb3e3">Icotinib</text>
<text x="67.7" y="604" font-size="7.2" text-anchor="start" fill="#5fb3e3">Erlotinib</text>
<text x="41.8" y="609.3" font-size="7.2" text-anchor="start" fill="#5fb3e3">Sapitinib</text>
<text x="62.2" y="618" font-size="7.2" text-anchor="start" fill="#5fb3e3">Afatinib</text>
<text x="56" y="630.3" font-size="7.2" text-anchor="start" fill="#5fb3e3">Neratinib</text>
<text x="60.7" y="636.7" font-size="7.2" text-anchor="start" fill="#5fb3e3">Lapatinib</text>
<text x="209" y="568.5" font-size="9.7" text-anchor="start" fill="#000" font-weight="bold">g</text>
<path d="M214.4 599.4 L214.4 663.1 L299.4 663.1" stroke="#000" fill="none" stroke-width="2" stroke-linecap="square"/>
<line x1="214.4" y1="663.1" x2="214.4" y2="667.1" stroke="#000" stroke-width="1.9"/>
<line x1="231.24" y1="663.1" x2="231.24" y2="667.1" stroke="#000" stroke-width="1.9"/>
<line x1="248.08" y1="663.1" x2="248.08" y2="667.1" stroke="#000" stroke-width="1.9"/>
<line x1="264.92" y1="663.1" x2="264.92" y2="667.1" stroke="#000" stroke-width="1.9"/>
<line x1="281.76" y1="663.1" x2="281.76" y2="667.1" stroke="#000" stroke-width="1.9"/>
<line x1="298.6" y1="663.1" x2="298.6" y2="667.1" stroke="#000" stroke-width="1.9"/>
<line x1="210.4" y1="600" x2="214.4" y2="600" stroke="#000" stroke-width="1.9"/>
<text x="209.8" y="602.3" font-size="7" text-anchor="end" fill="#000">100</text>
<line x1="210.4" y1="631.55" x2="214.4" y2="631.55" stroke="#000" stroke-width="1.9"/>
<text x="209.8" y="633.85" font-size="7" text-anchor="end" fill="#000">50</text>
<line x1="210.4" y1="663.1" x2="214.4" y2="663.1" stroke="#000" stroke-width="1.9"/>
<text x="209.8" y="665.4" font-size="7" text-anchor="end" fill="#000">0</text>
<text x="216.6" y="671.7" font-size="7" text-anchor="end" fill="#000" transform="rotate(-45 216.6 671.7)">0.0001</text>
<text x="233.44" y="671.7" font-size="7" text-anchor="end" fill="#000" transform="rotate(-45 233.44 671.7)">0.001</text>
<text x="250.28" y="671.7" font-size="7" text-anchor="end" fill="#000" transform="rotate(-45 250.28 671.7)">0.01</text>
<text x="267.12" y="671.7" font-size="7" text-anchor="end" fill="#000" transform="rotate(-45 267.12 671.7)">0.1</text>
<text x="283.96" y="671.7" font-size="7" text-anchor="end" fill="#000" transform="rotate(-45 283.96 671.7)">1</text>
<text x="300.8" y="671.7" font-size="7" text-anchor="end" fill="#000" transform="rotate(-45 300.8 671.7)">10</text>
<path d="M214.4 601.89 L215.8 601.89 L217.21 601.89 L218.61 601.89 L220.01 601.89 L221.42 601.89 L222.82 601.89 L224.22 601.89 L225.63 601.89 L227.03 601.89 L228.43 601.89 L229.84 601.89 L231.24 601.89 L232.64 601.89 L234.05 601.89 L235.45 601.89 L236.85 601.89 L238.26 601.89 L239.66 601.89 L241.06 601.89 L242.47 601.89 L243.87 601.89 L245.27 601.89 L246.68 601.89 L248.08 601.89 L249.48 601.89 L250.89 601.89 L252.29 601.89 L253.69 601.89 L255.1 601.89 L256.5 601.89 L257.9 601.89 L259.31 601.89 L260.71 601.89 L262.11 601.89 L263.52 601.89 L264.92 601.89 L266.32 601.89 L267.73 601.89 L269.13 601.89 L270.53 601.89 L271.94 601.89 L273.34 601.89 L274.74 601.89 L276.15 601.89 L277.55 601.89 L278.95 601.89 L280.36 601.89 L281.76 601.89 L283.16 601.89 L284.57 601.89 L285.97 601.9 L287.37 601.9 L288.78 601.92 L290.18 601.99 L291.58 602.18 L292.99 602.81 L294.39 604.69 L295.79 609.94 L297.2 621.71 L298.6 638.75" stroke="#8fc9ee" fill="none" stroke-width="2.5" stroke-linejoin="round" stroke-linecap="round"/>
<path d="M214.4 600.01 L215.8 600.01 L217.21 600.01 L218.61 600.01 L220.01 600.01 L221.42 600.01 L222.82 600.02 L224.22 600.02 L225.63 600.02 L227.03 600.02 L228.43 600.03 L229.84 600.03 L231.24 600.04 L232.64 600.04 L234.05 600.05 L235.45 600.06 L236.85 600.07 L238.26 600.08 L239.66 600.09 L241.06 600.1 L242.47 600.12 L243.87 600.14 L245.27 600.16 L246.68 600.18 L248.08 600.21 L249.48 600.24 L250.89 600.28 L252.29 600.32 L253.69 600.37 L255.1 600.43 L256.5 600.5 L257.9 600.57 L259.31 600.66 L260.71 600.76 L262.11 600.88 L263.52 601.01 L264.92 601.17 L266.32 601.34 L267.73 601.55 L269.13 601.78 L270.53 602.05 L271.94 602.35 L273.34 602.7 L274.74 603.1 L276.15 603.55 L277.55 604.06 L278.95 604.64 L280.36 605.3 L281.76 606.04 L283.16 606.88 L284.57 607.81 L285.97 608.85 L287.37 610 L288.78 611.27 L290.18 612.67 L291.58 614.19 L292.99 615.83 L294.39 617.6 L295.79 619.48 L297.2 621.47 L298.6 623.56" stroke="#0b4d32" fill="none" stroke-width="2.5" stroke-linejoin="round" stroke-linecap="round"/>
<path d="M214.4 600.32 L215.8 600.32 L217.21 600.32 L218.61 600.32 L220.01 600.32 L221.42 600.32 L222.82 600.32 L224.22 600.32 L225.63 600.32 L227.03 600.32 L228.43 600.32 L229.84 600.32 L231.24 600.32 L232.64 600.32 L234.05 600.32 L235.45 600.32 L236.85 600.32 L238.26 600.32 L239.66 600.32 L241.06 600.32 L242.47 600.32 L243.87 600.32 L245.27 600.32 L246.68 600.32 L248.08 600.32 L249.48 600.32 L250.89 600.32 L252.29 600.32 L253.69 600.32 L255.1 600.32 L256.5 600.32 L257.9 600.32 L259.31 600.32 L260.71 600.32 L262.11 600.32 L263.52 600.32 L264.92 600.32 L266.32 600.32 L267.73 600.32 L269.13 600.32 L270.53 600.32 L271.94 600.32 L273.34 600.32 L274.74 600.32 L276.15 600.33 L277.55 600.33 L278.95 600.33 L280.36 600.34 L281.76 600.34 L283.16 600.35 L284.57 600.36 L285.97 600.37 L287.37 600.38 L288.78 600.4 L290.18 600.42 L291.58 600.45 L292.99 600.49 L294.39 600.53 L295.79 600.59 L297.2 600.66 L298.6 600.75" stroke="#129f6f" fill="none" stroke-width="2.5" stroke-linejoin="round" stroke-linecap="round"/>
<path d="M214.4 601.39 L215.8 601.39 L217.21 601.39 L218.61 601.39 L220.01 601.39 L221.42 601.39 L222.82 601.39 L224.22 601.39 L225.63 601.39 L227.03 601.39 L228.43 601.39 L229.84 601.39 L231.24 601.39 L232.64 601.39 L234.05 601.39 L235.45 601.39 L236.85 601.39 L238.26 601.39 L239.66 601.39 L241.06 601.39 L242.47 601.39 L243.87 601.39 L245.27 601.39 L246.68 601.39 L248.08 601.39 L249.48 601.39 L250.89 601.39 L252.29 601.39 L253.69 601.39 L255.1 601.39 L256.5 601.39 L257.9 601.39 L259.31 601.39 L260.71 601.39 L262.11 601.39 L263.52 601.39 L264.92 601.39 L266.32 601.4 L267.73 601.4 L269.13 601.4 L270.53 601.4 L271.94 601.4 L273.34 601.41 L274.74 601.41 L276.15 601.42 L277.55 601.42 L278.95 601.43 L280.36 601.44 L281.76 601.45 L283.16 601.46 L284.57 601.48 L285.97 601.5 L287.37 601.52 L288.78 601.55 L290.18 601.58 L291.58 601.62 L292.99 601.67 L294.39 601.73 L295.79 601.81 L297.2 601.89 L298.6 602" stroke="#55b993" fill="none" stroke-width="2.5" stroke-linejoin="round" stroke-linecap="round"/>
<path d="M214.4 602.78 L215.8 602.78 L217.21 602.78 L218.61 602.78 L220.01 602.78 L221.42 602.78 L222.82 602.78 L224.22 602.78 L225.63 602.78 L227.03 602.78 L228.43 602.78 L229.84 602.78 L231.24 602.78 L232.64 602.78 L234.05 602.78 L235.45 602.78 L236.85 602.78 L238.26 602.78 L239.66 602.78 L241.06 602.78 L242.47 602.78 L243.87 602.78 L245.27 602.78 L246.68 602.78 L248.08 602.78 L249.48 602.78 L250.89 602.78 L252.29 602.78 L253.69 602.78 L255.1 602.78 L256.5 602.78 L257.9 602.78 L259.31 602.78 L260.71 602.78 L262.11 602.78 L263.52 602.78 L264.92 602.78 L266.32 602.78 L267.73 602.78 L269.13 602.78 L270.53 602.78 L271.94 602.78 L273.34 602.78 L274.74 602.78 L276.15 602.78 L277.55 602.78 L278.95 602.79 L280.36 602.79 L281.76 602.79 L283.16 602.8 L284.57 602.81 L285.97 602.82 L287.37 602.84 L288.78 602.86 L290.18 602.89 L291.58 602.93 L292.99 602.99 L294.39 603.06 L295.79 603.17 L297.2 603.31 L298.6 603.49" stroke="#8dd3b5" fill="none" stroke-width="2.5" stroke-linejoin="round" stroke-linecap="round"/>
<path d="M214.4 600.35 L215.8 600.39 L217.21 600.43 L218.61 600.47 L220.01 600.52 L221.42 600.57 L222.82 600.62 L224.22 600.69 L225.63 600.76 L227.03 600.83 L228.43 600.91 L229.84 601 L231.24 601.1 L232.64 601.21 L234.05 601.33 L235.45 601.46 L236.85 601.61 L238.26 601.76 L239.66 601.93 L241.06 602.12 L242.47 602.33 L243.87 602.55 L245.27 602.8 L246.68 603.07 L248.08 603.36 L249.48 603.68 L250.89 604.02 L252.29 604.4 L253.69 604.81 L255.1 605.26 L256.5 605.74 L257.9 606.26 L259.31 606.82 L260.71 607.42 L262.11 608.08 L263.52 608.78 L264.92 609.53 L266.32 610.33 L267.73 611.18 L269.13 612.1 L270.53 613.06 L271.94 614.08 L273.34 615.16 L274.74 616.29 L276.15 617.48 L277.55 618.72 L278.95 620 L280.36 621.34 L281.76 622.71 L283.16 624.12 L284.57 625.57 L285.97 627.04 L287.37 628.53 L288.78 630.04 L290.18 631.55 L291.58 633.06 L292.99 634.57 L294.39 636.06 L295.79 637.53 L297.2 638.98 L298.6 640.39" stroke="#56aee6" fill="none" stroke-width="2.5" stroke-linejoin="round" stroke-linecap="round"/>
<path d="M214.4 600.89 L215.8 600.97 L217.21 601.05 L218.61 601.15 L220.01 601.25 L221.42 601.36 L222.82 601.48 L224.22 601.61 L225.63 601.75 L227.03 601.9 L228.43 602.07 L229.84 602.25 L231.24 602.44 L232.64 602.65 L234.05 602.88 L235.45 603.13 L236.85 603.4 L238.26 603.68 L239.66 604 L241.06 604.33 L242.47 604.69 L243.87 605.08 L245.27 605.5 L246.68 605.95 L248.08 606.43 L249.48 606.95 L250.89 607.5 L252.29 608.09 L253.69 608.72 L255.1 609.39 L256.5 610.1 L257.9 610.85 L259.31 611.65 L260.71 612.49 L262.11 613.38 L263.52 614.31 L264.92 615.29 L266.32 616.32 L267.73 617.38 L269.13 618.49 L270.53 619.64 L271.94 620.82 L273.34 622.05 L274.74 623.3 L276.15 624.58 L277.55 625.89 L278.95 627.22 L280.36 628.56 L281.76 629.92 L283.16 631.28 L284.57 632.64 L285.97 634 L287.37 635.35 L288.78 636.68 L290.18 638 L291.58 639.29 L292.99 640.56 L294.39 641.79 L295.79 642.99 L297.2 644.16 L298.6 645.28" stroke="#e39e0b" fill="none" stroke-width="2.5" stroke-linejoin="round" stroke-linecap="round"/>
<path d="M214.4 602.31 L215.8 602.39 L217.21 602.49 L218.61 602.59 L220.01 602.7 L221.42 602.82 L222.82 602.94 L224.22 603.08 L225.63 603.23 L227.03 603.39 L228.43 603.56 L229.84 603.74 L231.24 603.94 L232.64 604.16 L234.05 604.39 L235.45 604.63 L236.85 604.9 L238.26 605.19 L239.66 605.49 L241.06 605.82 L242.47 606.17 L243.87 606.55 L245.27 606.95 L246.68 607.39 L248.08 607.84 L249.48 608.33 L250.89 608.85 L252.29 609.41 L253.69 609.99 L255.1 610.62 L256.5 611.27 L257.9 611.97 L259.31 612.7 L260.71 613.47 L262.11 614.28 L263.52 615.13 L264.92 616.02 L266.32 616.94 L267.73 617.9 L269.13 618.9 L270.53 619.93 L271.94 621 L273.34 622.1 L274.74 623.23 L276.15 624.38 L277.55 625.56 L278.95 626.76 L280.36 627.97 L281.76 629.2 L283.16 630.44 L284.57 631.68 L285.97 632.93 L287.37 634.17 L288.78 635.41 L290.18 636.64 L291.58 637.85 L292.99 639.04 L294.39 640.22 L295.79 641.36 L297.2 642.49 L298.6 643.58" stroke="#e9ad37" fill="none" stroke-width="2.5" stroke-linejoin="round" stroke-linecap="round"/>
<path d="M214.4 600.1 L215.8 600.11 L217.21 600.13 L218.61 600.15 L220.01 600.17 L221.42 600.2 L222.82 600.23 L224.22 600.26 L225.63 600.31 L227.03 600.35 L228.43 600.41 L229.84 600.47 L231.24 600.54 L232.64 600.62 L234.05 600.72 L235.45 600.83 L236.85 600.96 L238.26 601.1 L239.66 601.27 L241.06 601.46 L242.47 601.68 L243.87 601.93 L245.27 602.22 L246.68 602.55 L248.08 602.93 L249.48 603.36 L250.89 603.85 L252.29 604.4 L253.69 605.03 L255.1 605.74 L256.5 606.53 L257.9 607.42 L259.31 608.42 L260.71 609.53 L262.11 610.75 L263.52 612.1 L264.92 613.56 L266.32 615.16 L267.73 616.88 L269.13 618.72 L270.53 620.66 L271.94 622.71 L273.34 624.84 L274.74 627.04 L276.15 629.28 L277.55 631.55 L278.95 633.82 L280.36 636.06 L281.76 638.26 L283.16 640.39 L284.57 642.44 L285.97 644.38 L287.37 646.22 L288.78 647.94 L290.18 649.54 L291.58 651 L292.99 652.35 L294.39 653.57 L295.79 654.68 L297.2 655.68 L298.6 656.57" stroke="#efc25f" fill="none" stroke-width="2.5" stroke-linejoin="round" stroke-linecap="round"/>
<path d="M214.4 600 L215.8 600 L217.21 600 L218.61 600 L220.01 600 L221.42 600 L222.82 600 L224.22 600 L225.63 600 L227.03 600 L228.43 600 L229.84 600 L231.24 600 L232.64 600 L234.05 600 L235.45 600 L236.85 600 L238.26 600 L239.66 600 L241.06 600 L242.47 600 L243.87 600.01 L245.27 600.01 L246.68 600.02 L248.08 600.04 L249.48 600.09 L250.89 600.17 L252.29 600.33 L253.69 600.65 L255.1 601.26 L256.5 602.42 L257.9 604.56 L259.31 608.35 L260.71 614.51 L262.11 623.27 L263.52 633.67 L264.92 643.62 L266.32 651.38 L267.73 656.51 L269.13 659.55 L270.53 661.24 L271.94 662.13 L273.34 662.6 L274.74 662.84 L276.15 662.97 L277.55 663.03 L278.95 663.07 L280.36 663.08 L281.76 663.09 L283.16 663.1 L284.57 663.1 L285.97 663.1 L287.37 663.1 L288.78 663.1 L290.18 663.1 L291.58 663.1 L292.99 663.1 L294.39 663.1 L295.79 663.1 L297.2 663.1 L298.6 663.1" stroke="#f2cd7c" fill="none" stroke-width="2.5" stroke-linejoin="round" stroke-linecap="round"/>
<text x="250.9" y="582.3" font-size="9.5" text-anchor="middle" fill="#000">AZD4547</text>
<text x="250.9" y="591.2" font-size="8.4" text-anchor="middle" fill="#000">(FGFR)</text>
<path d="M326.4 599.4 L326.4 663.1 L411.4 663.1" stroke="#000" fill="none" stroke-width="2" stroke-linecap="square"/>
<line x1="326.4" y1="663.1" x2="326.4" y2="667.1" stroke="#000" stroke-width="1.9"/>
<line x1="343.24" y1="663.1" x2="343.24" y2="667.1" stroke="#000" stroke-width="1.9"/>
<line x1="360.08" y1="663.1" x2="360.08" y2="667.1" stroke="#000" stroke-width="1.9"/>
<line x1="376.92" y1="663.1" x2="376.92" y2="667.1" stroke="#000" stroke-width="1.9"/>
<line x1="393.76" y1="663.1" x2="393.76" y2="667.1" stroke="#000" stroke-width="1.9"/>
<line x1="410.6" y1="663.1" x2="410.6" y2="667.1" stroke="#000" stroke-width="1.9"/>
<line x1="322.4" y1="600" x2="326.4" y2="600" stroke="#000" stroke-width="1.9"/>
<text x="321.8" y="602.3" font-size="7" text-anchor="end" fill="#000">100</text>
<line x1="322.4" y1="631.55" x2="326.4" y2="631.55" stroke="#000" stroke-width="1.9"/>
<text x="321.8" y="633.85" font-size="7" text-anchor="end" fill="#000">50</text>
<line x1="322.4" y1="663.1" x2="326.4" y2="663.1" stroke="#000" stroke-width="1.9"/>
<text x="321.8" y="665.4" font-size="7" text-anchor="end" fill="#000">0</text>
<text x="328.6" y="671.7" font-size="7" text-anchor="end" fill="#000" transform="rotate(-45 328.6 671.7)">0.0001</text>
<text x="345.44" y="671.7" font-size="7" text-anchor="end" fill="#000" transform="rotate(-45 345.44 671.7)">0.001</text>
<text x="362.28" y="671.7" font-size="7" text-anchor="end" fill="#000" transform="rotate(-45 362.28 671.7)">0.01</text>
<text x="379.12" y="671.7" font-size="7" text-anchor="end" fill="#000" transform="rotate(-45 379.12 671.7)">0.1</text>
<text x="395.96" y="671.7" font-size="7" text-anchor="end" fill="#000" transform="rotate(-45 395.96 671.7)">1</text>
<text x="412.8" y="671.7" font-size="7" text-anchor="end" fill="#000" transform="rotate(-45 412.8 671.7)">10</text>
<path d="M326.4 601.26 L327.8 601.26 L329.21 601.26 L330.61 601.26 L332.01 601.26 L333.42 601.26 L334.82 601.26 L336.22 601.26 L337.63 601.26 L339.03 601.26 L340.43 601.26 L341.84 601.26 L343.24 601.26 L344.64 601.26 L346.05 601.26 L347.45 601.26 L348.85 601.26 L350.26 601.26 L351.66 601.26 L353.06 601.26 L354.47 601.26 L355.87 601.26 L357.27 601.26 L358.68 601.26 L360.08 601.26 L361.48 601.26 L362.89 601.26 L364.29 601.26 L365.69 601.26 L367.1 601.26 L368.5 601.26 L369.9 601.26 L371.31 601.26 L372.71 601.26 L374.11 601.26 L375.52 601.26 L376.92 601.26 L378.32 601.26 L379.73 601.26 L381.13 601.26 L382.53 601.26 L383.94 601.26 L385.34 601.26 L386.74 601.26 L388.15 601.26 L389.55 601.26 L390.95 601.26 L392.36 601.26 L393.76 601.26 L395.16 601.26 L396.57 601.27 L397.97 601.28 L399.37 601.31 L400.78 601.39 L402.18 601.61 L403.58 602.16 L404.99 603.54 L406.39 606.88 L407.79 614.06 L409.2 626.32 L410.6 640.84" stroke="#8fc9ee" fill="none" stroke-width="2.5" stroke-linejoin="round" stroke-linecap="round"/>
<path d="M326.4 600 L327.8 600 L329.21 600 L330.61 600 L332.01 600 L333.42 600 L334.82 600 L336.22 600 L337.63 600 L339.03 600 L340.43 600 L341.84 600 L343.24 600 L344.64 600 L346.05 600 L347.45 600 L348.85 600 L350.26 600 L351.66 600 L353.06 600 L354.47 600 L355.87 600 L357.27 600 L358.68 600 L360.08 600 L361.48 600 L362.89 600 L364.29 600 L365.69 600 L367.1 600 L368.5 600 L369.9 600 L371.31 600 L372.71 600 L374.11 600 L375.52 600 L376.92 600.01 L378.32 600.01 L379.73 600.01 L381.13 600.02 L382.53 600.03 L383.94 600.04 L385.34 600.05 L386.74 600.08 L388.15 600.11 L389.55 600.15 L390.95 600.22 L392.36 600.31 L393.76 600.43 L395.16 600.61 L396.57 600.86 L397.97 601.21 L399.37 601.69 L400.78 602.36 L402.18 603.29 L403.58 604.55 L404.99 606.24 L406.39 608.46 L407.79 611.33 L409.2 614.9 L410.6 619.17" stroke="#3a7fb0" fill="none" stroke-width="2.5" stroke-linejoin="round" stroke-linecap="round"/>
<path d="M326.4 600 L327.8 600 L329.21 600 L330.61 600 L332.01 600 L333.42 600 L334.82 600 L336.22 600 L337.63 600 L339.03 600 L340.43 600 L341.84 600 L343.24 600 L344.64 600 L346.05 600 L347.45 600 L348.85 600 L350.26 600 L351.66 600 L353.06 600 L354.47 600 L355.87 600 L357.27 600 L358.68 600 L360.08 600 L361.48 600 L362.89 600 L364.29 600.01 L365.69 600.01 L367.1 600.01 L368.5 600.01 L369.9 600.02 L371.31 600.02 L372.71 600.02 L374.11 600.03 L375.52 600.04 L376.92 600.05 L378.32 600.06 L379.73 600.08 L381.13 600.1 L382.53 600.12 L383.94 600.15 L385.34 600.19 L386.74 600.24 L388.15 600.3 L389.55 600.38 L390.95 600.48 L392.36 600.6 L393.76 600.75 L395.16 600.94 L396.57 601.18 L397.97 601.48 L399.37 601.85 L400.78 602.31 L402.18 602.88 L403.58 603.59 L404.99 604.45 L406.39 605.5 L407.79 606.77 L409.2 608.3 L410.6 610.1" stroke="#0b4d32" fill="none" stroke-width="2.5" stroke-linejoin="round" stroke-linecap="round"/>
<path d="M326.4 600.32 L327.8 600.32 L329.21 600.32 L330.61 600.32 L332.01 600.32 L333.42 600.32 L334.82 600.32 L336.22 600.32 L337.63 600.32 L339.03 600.32 L340.43 600.32 L341.84 600.32 L343.24 600.32 L344.64 600.32 L346.05 600.32 L347.45 600.32 L348.85 600.32 L350.26 600.32 L351.66 600.32 L353.06 600.32 L354.47 600.32 L355.87 600.32 L357.27 600.32 L358.68 600.32 L360.08 600.32 L361.48 600.32 L362.89 600.32 L364.29 600.32 L365.69 600.32 L367.1 600.32 L368.5 600.32 L369.9 600.32 L371.31 600.32 L372.71 600.32 L374.11 600.32 L375.52 600.32 L376.92 600.32 L378.32 600.32 L379.73 600.32 L381.13 600.32 L382.53 600.32 L383.94 600.32 L385.34 600.32 L386.74 600.32 L388.15 600.33 L389.55 600.33 L390.95 600.33 L392.36 600.34 L393.76 600.34 L395.16 600.35 L396.57 600.36 L397.97 600.37 L399.37 600.38 L400.78 600.4 L402.18 600.42 L403.58 600.45 L404.99 600.49 L406.39 600.53 L407.79 600.59 L409.2 600.66 L410.6 600.75" stroke="#129f6f" fill="none" stroke-width="2.5" stroke-linejoin="round" stroke-linecap="round"/>
<path d="M326.4 601.39 L327.8 601.39 L329.21 601.39 L330.61 601.39 L332.01 601.39 L333.42 601.39 L334.82 601.39 L336.22 601.39 L337.63 601.39 L339.03 601.39 L340.43 601.39 L341.84 601.39 L343.24 601.39 L344.64 601.39 L346.05 601.39 L347.45 601.39 L348.85 601.39 L350.26 601.39 L351.66 601.39 L353.06 601.39 L354.47 601.39 L355.87 601.39 L357.27 601.39 L358.68 601.39 L360.08 601.39 L361.48 601.39 L362.89 601.39 L364.29 601.39 L365.69 601.39 L367.1 601.39 L368.5 601.39 L369.9 601.39 L371.31 601.39 L372.71 601.39 L374.11 601.39 L375.52 601.39 L376.92 601.39 L378.32 601.4 L379.73 601.4 L381.13 601.4 L382.53 601.4 L383.94 601.4 L385.34 601.41 L386.74 601.41 L388.15 601.42 L389.55 601.42 L390.95 601.43 L392.36 601.44 L393.76 601.45 L395.16 601.46 L396.57 601.48 L397.97 601.5 L399.37 601.52 L400.78 601.55 L402.18 601.58 L403.58 601.62 L404.99 601.67 L406.39 601.73 L407.79 601.81 L409.2 601.89 L410.6 602" stroke="#55b993" fill="none" stroke-width="2.5" stroke-linejoin="round" stroke-linecap="round"/>
<path d="M326.4 602.65 L327.8 602.65 L329.21 602.65 L330.61 602.65 L332.01 602.65 L333.42 602.65 L334.82 602.65 L336.22 602.65 L337.63 602.65 L339.03 602.65 L340.43 602.65 L341.84 602.65 L343.24 602.65 L344.64 602.65 L346.05 602.65 L347.45 602.65 L348.85 602.65 L350.26 602.65 L351.66 602.65 L353.06 602.65 L354.47 602.65 L355.87 602.65 L357.27 602.65 L358.68 602.65 L360.08 602.65 L361.48 602.65 L362.89 602.65 L364.29 602.65 L365.69 602.65 L367.1 602.65 L368.5 602.65 L369.9 602.65 L371.31 602.65 L372.71 602.65 L374.11 602.65 L375.52 602.66 L376.92 602.66 L378.32 602.66 L379.73 602.66 L381.13 602.66 L382.53 602.66 L383.94 602.67 L385.34 602.67 L386.74 602.67 L388.15 602.68 L389.55 602.68 L390.95 602.69 L392.36 602.7 L393.76 602.71 L395.16 602.72 L396.57 602.74 L397.97 602.76 L399.37 602.78 L400.78 602.81 L402.18 602.84 L403.58 602.88 L404.99 602.93 L406.39 602.99 L407.79 603.06 L409.2 603.15 L410.6 603.25" stroke="#8dd3b5" fill="none" stroke-width="2.5" stroke-linejoin="round" stroke-linecap="round"/>
<path d="M326.4 600.33 L327.8 600.37 L329.21 600.41 L330.61 600.46 L332.01 600.52 L333.42 600.58 L334.82 600.65 L336.22 600.73 L337.63 600.82 L339.03 600.92 L340.43 601.03 L341.84 601.15 L343.24 601.29 L344.64 601.45 L346.05 601.62 L347.45 601.81 L348.85 602.02 L350.26 602.26 L351.66 602.53 L353.06 602.82 L354.47 603.15 L355.87 603.51 L357.27 603.91 L358.68 604.35 L360.08 604.85 L361.48 605.39 L362.89 605.98 L364.29 606.63 L365.69 607.35 L367.1 608.13 L368.5 608.98 L369.9 609.91 L371.31 610.91 L372.71 611.98 L374.11 613.14 L375.52 614.38 L376.92 615.7 L378.32 617.09 L379.73 618.57 L381.13 620.11 L382.53 621.72 L383.94 623.39 L385.34 625.1 L386.74 626.86 L388.15 628.65 L389.55 630.46 L390.95 632.28 L392.36 634.09 L393.76 635.88 L395.16 637.65 L396.57 639.37 L397.97 641.05 L399.37 642.67 L400.78 644.23 L402.18 645.72 L403.58 647.13 L404.99 648.46 L406.39 649.72 L407.79 650.89 L409.2 651.99 L410.6 653" stroke="#56aee6" fill="none" stroke-width="2.5" stroke-linejoin="round" stroke-linecap="round"/>
<path d="M326.4 603.75 L327.8 603.92 L329.21 604.1 L330.61 604.29 L332.01 604.48 L333.42 604.68 L334.82 604.9 L336.22 605.12 L337.63 605.35 L339.03 605.59 L340.43 605.84 L341.84 606.1 L343.24 606.37 L344.64 606.65 L346.05 606.94 L347.45 607.24 L348.85 607.55 L350.26 607.88 L351.66 608.21 L353.06 608.56 L354.47 608.92 L355.87 609.3 L357.27 609.68 L358.68 610.08 L360.08 610.5 L361.48 610.92 L362.89 611.36 L364.29 611.82 L365.69 612.28 L367.1 612.77 L368.5 613.26 L369.9 613.77 L371.31 614.29 L372.71 614.83 L374.11 615.38 L375.52 615.95 L376.92 616.53 L378.32 617.12 L379.73 617.72 L381.13 618.34 L382.53 618.97 L383.94 619.61 L385.34 620.27 L386.74 620.93 L388.15 621.61 L389.55 622.3 L390.95 622.99 L392.36 623.7 L393.76 624.41 L395.16 625.13 L396.57 625.86 L397.97 626.6 L399.37 627.34 L400.78 628.08 L402.18 628.83 L403.58 629.59 L404.99 630.34 L406.39 631.1 L407.79 631.85 L409.2 632.61 L410.6 633.36" stroke="#e39e0b" fill="none" stroke-width="2.5" stroke-linejoin="round" stroke-linecap="round"/>
<path d="M326.4 602.42 L327.8 602.51 L329.21 602.61 L330.61 602.71 L332.01 602.82 L333.42 602.94 L334.82 603.07 L336.22 603.21 L337.63 603.37 L339.03 603.53 L340.43 603.7 L341.84 603.89 L343.24 604.09 L344.64 604.3 L346.05 604.53 L347.45 604.78 L348.85 605.04 L350.26 605.32 L351.66 605.62 L353.06 605.94 L354.47 606.29 L355.87 606.65 L357.27 607.04 L358.68 607.46 L360.08 607.9 L361.48 608.37 L362.89 608.86 L364.29 609.39 L365.69 609.95 L367.1 610.54 L368.5 611.16 L369.9 611.81 L371.31 612.5 L372.71 613.23 L374.11 613.98 L375.52 614.78 L376.92 615.61 L378.32 616.47 L379.73 617.37 L381.13 618.3 L382.53 619.26 L383.94 620.25 L385.34 621.28 L386.74 622.33 L388.15 623.41 L389.55 624.51 L390.95 625.64 L392.36 626.78 L393.76 627.94 L395.16 629.11 L396.57 630.28 L397.97 631.47 L399.37 632.66 L400.78 633.84 L402.18 635.02 L403.58 636.19 L404.99 637.35 L406.39 638.5 L407.79 639.63 L409.2 640.73 L410.6 641.82" stroke="#e9ad37" fill="none" stroke-width="2.5" stroke-linejoin="round" stroke-linecap="round"/>
<path d="M326.4 604.35 L327.8 604.76 L329.21 605.2 L330.61 605.68 L332.01 606.19 L333.42 606.75 L334.82 607.35 L336.22 608 L337.63 608.69 L339.03 609.43 L340.43 610.23 L341.84 611.08 L343.24 611.98 L344.64 612.94 L346.05 613.96 L347.45 615.03 L348.85 616.15 L350.26 617.33 L351.66 618.57 L353.06 619.85 L354.47 621.17 L355.87 622.54 L357.27 623.95 L358.68 625.39 L360.08 626.86 L361.48 628.35 L362.89 629.86 L364.29 631.37 L365.69 632.88 L367.1 634.39 L368.5 635.88 L369.9 637.36 L371.31 638.8 L372.71 640.22 L374.11 641.6 L375.52 642.94 L376.92 644.23 L378.32 645.48 L379.73 646.67 L381.13 647.81 L382.53 648.89 L383.94 649.92 L385.34 650.89 L386.74 651.81 L388.15 652.67 L389.55 653.48 L390.95 654.24 L392.36 654.94 L393.76 655.6 L395.16 656.21 L396.57 656.78 L397.97 657.3 L399.37 657.79 L400.78 658.24 L402.18 658.65 L403.58 659.03 L404.99 659.38 L406.39 659.7 L407.79 660 L409.2 660.27 L410.6 660.52" stroke="#efc25f" fill="none" stroke-width="2.5" stroke-linejoin="round" stroke-linecap="round"/>
<path d="M326.4 600.12 L327.8 600.15 L329.21 600.19 L330.61 600.24 L332.01 600.31 L333.42 600.38 L334.82 600.48 L336.22 600.61 L337.63 600.76 L339.03 600.96 L340.43 601.2 L341.84 601.51 L343.24 601.88 L344.64 602.35 L346.05 602.93 L347.45 603.65 L348.85 604.53 L350.26 605.59 L351.66 606.88 L353.06 608.43 L354.47 610.26 L355.87 612.39 L357.27 614.84 L358.68 617.61 L360.08 620.68 L361.48 624 L362.89 627.5 L364.29 631.11 L365.69 634.74 L367.1 638.27 L368.5 641.64 L369.9 644.78 L371.31 647.62 L372.71 650.15 L374.11 652.36 L375.52 654.26 L376.92 655.87 L378.32 657.22 L379.73 658.34 L381.13 659.26 L382.53 660.01 L383.94 660.62 L385.34 661.11 L386.74 661.51 L388.15 661.83 L389.55 662.09 L390.95 662.29 L392.36 662.46 L393.76 662.59 L395.16 662.69 L396.57 662.78 L397.97 662.84 L399.37 662.9 L400.78 662.94 L402.18 662.97 L403.58 663 L404.99 663.02 L406.39 663.04 L407.79 663.05 L409.2 663.06 L410.6 663.07" stroke="#f2cd7c" fill="none" stroke-width="2.5" stroke-linejoin="round" stroke-linecap="round"/>
<text x="361.7" y="582.3" font-size="9.5" text-anchor="middle" fill="#000">Erdafitinib</text>
<text x="361.7" y="591.2" font-size="8.4" text-anchor="middle" fill="#000">(FGFR)</text>
<path d="M439.4 599.4 L439.4 663.1 L524.4 663.1" stroke="#000" fill="none" stroke-width="2" stroke-linecap="square"/>
<line x1="439.4" y1="663.1" x2="439.4" y2="667.1" stroke="#000" stroke-width="1.9"/>
<line x1="456.24" y1="663.1" x2="456.24" y2="667.1" stroke="#000" stroke-width="1.9"/>
<line x1="473.08" y1="663.1" x2="473.08" y2="667.1" stroke="#000" stroke-width="1.9"/>
<line x1="489.92" y1="663.1" x2="489.92" y2="667.1" stroke="#000" stroke-width="1.9"/>
<line x1="506.76" y1="663.1" x2="506.76" y2="667.1" stroke="#000" stroke-width="1.9"/>
<line x1="523.6" y1="663.1" x2="523.6" y2="667.1" stroke="#000" stroke-width="1.9"/>
<line x1="435.4" y1="600" x2="439.4" y2="600" stroke="#000" stroke-width="1.9"/>
<text x="434.8" y="602.3" font-size="7" text-anchor="end" fill="#000">100</text>
<line x1="435.4" y1="631.55" x2="439.4" y2="631.55" stroke="#000" stroke-width="1.9"/>
<text x="434.8" y="633.85" font-size="7" text-anchor="end" fill="#000">50</text>
<line x1="435.4" y1="663.1" x2="439.4" y2="663.1" stroke="#000" stroke-width="1.9"/>
<text x="434.8" y="665.4" font-size="7" text-anchor="end" fill="#000">0</text>
<text x="441.6" y="671.7" font-size="7" text-anchor="end" fill="#000" transform="rotate(-45 441.6 671.7)">0.0001</text>
<text x="458.44" y="671.7" font-size="7" text-anchor="end" fill="#000" transform="rotate(-45 458.44 671.7)">0.001</text>
<text x="475.28" y="671.7" font-size="7" text-anchor="end" fill="#000" transform="rotate(-45 475.28 671.7)">0.01</text>
<text x="492.12" y="671.7" font-size="7" text-anchor="end" fill="#000" transform="rotate(-45 492.12 671.7)">0.1</text>
<text x="508.96" y="671.7" font-size="7" text-anchor="end" fill="#000" transform="rotate(-45 508.96 671.7)">1</text>
<text x="525.8" y="671.7" font-size="7" text-anchor="end" fill="#000" transform="rotate(-45 525.8 671.7)">10</text>
<path d="M439.4 600 L440.8 600 L442.21 600 L443.61 600 L445.01 600 L446.42 600 L447.82 600 L449.22 600 L450.63 600 L452.03 600 L453.43 600 L454.84 600 L456.24 600 L457.64 600 L459.05 600 L460.45 600 L461.85 600 L463.26 600 L464.66 600 L466.06 600 L467.47 600 L468.87 600 L470.27 600 L471.68 600 L473.08 600 L474.48 600 L475.89 600 L477.29 600 L478.69 600 L480.1 600 L481.5 600 L482.9 600.01 L484.31 600.01 L485.71 600.01 L487.11 600.01 L488.52 600.02 L489.92 600.02 L491.32 600.03 L492.73 600.04 L494.13 600.05 L495.53 600.07 L496.94 600.09 L498.34 600.13 L499.74 600.17 L501.15 600.22 L502.55 600.3 L503.95 600.4 L505.36 600.53 L506.76 600.7 L508.16 600.93 L509.57 601.23 L510.97 601.64 L512.37 602.16 L513.78 602.85 L515.18 603.75 L516.58 604.9 L517.99 606.37 L519.39 608.21 L520.79 610.5 L522.2 613.26 L523.6 616.53" stroke="#8dd3b5" fill="none" stroke-width="2.5" stroke-linejoin="round" stroke-linecap="round"/>
<path d="M439.4 600.01 L440.8 600.01 L442.21 600.01 L443.61 600.01 L445.01 600.01 L446.42 600.01 L447.82 600.02 L449.22 600.02 L450.63 600.02 L452.03 600.03 L453.43 600.03 L454.84 600.03 L456.24 600.04 L457.64 600.05 L459.05 600.05 L460.45 600.06 L461.85 600.07 L463.26 600.09 L464.66 600.1 L466.06 600.12 L467.47 600.14 L468.87 600.16 L470.27 600.18 L471.68 600.21 L473.08 600.25 L474.48 600.29 L475.89 600.34 L477.29 600.4 L478.69 600.46 L480.1 600.54 L481.5 600.62 L482.9 600.73 L484.31 600.85 L485.71 600.98 L487.11 601.14 L488.52 601.33 L489.92 601.55 L491.32 601.8 L492.73 602.08 L494.13 602.42 L495.53 602.8 L496.94 603.24 L498.34 603.75 L499.74 604.32 L501.15 604.98 L502.55 605.74 L503.95 606.59 L505.36 607.55 L506.76 608.63 L508.16 609.84 L509.57 611.18 L510.97 612.67 L512.37 614.29 L513.78 616.06 L515.18 617.97 L516.58 620 L517.99 622.16 L519.39 624.41 L520.79 626.74 L522.2 629.13 L523.6 631.55" stroke="#3a7fb0" fill="none" stroke-width="2.5" stroke-linejoin="round" stroke-linecap="round"/>
<path d="M439.4 600.28 L440.8 600.31 L442.21 600.34 L443.61 600.37 L445.01 600.41 L446.42 600.45 L447.82 600.5 L449.22 600.55 L450.63 600.6 L452.03 600.66 L453.43 600.73 L454.84 600.8 L456.24 600.88 L457.64 600.97 L459.05 601.06 L460.45 601.17 L461.85 601.28 L463.26 601.41 L464.66 601.55 L466.06 601.7 L467.47 601.86 L468.87 602.05 L470.27 602.24 L471.68 602.46 L473.08 602.7 L474.48 602.96 L475.89 603.24 L477.29 603.55 L478.69 603.88 L480.1 604.25 L481.5 604.64 L482.9 605.07 L484.31 605.54 L485.71 606.04 L487.11 606.59 L488.52 607.18 L489.92 607.81 L491.32 608.49 L492.73 609.22 L494.13 610 L495.53 610.84 L496.94 611.72 L498.34 612.67 L499.74 613.67 L501.15 614.72 L502.55 615.83 L503.95 617 L505.36 618.22 L506.76 619.48 L508.16 620.8 L509.57 622.16 L510.97 623.56 L512.37 624.99 L513.78 626.45 L515.18 627.93 L516.58 629.43 L517.99 630.94 L519.39 632.46 L520.79 633.97 L522.2 635.46 L523.6 636.94" stroke="#55b993" fill="none" stroke-width="2.5" stroke-linejoin="round" stroke-linecap="round"/>
<path d="M439.4 600.51 L440.8 600.56 L442.21 600.63 L443.61 600.7 L445.01 600.77 L446.42 600.86 L447.82 600.95 L449.22 601.06 L450.63 601.17 L452.03 601.3 L453.43 601.44 L454.84 601.6 L456.24 601.77 L457.64 601.96 L459.05 602.17 L460.45 602.4 L461.85 602.66 L463.26 602.94 L464.66 603.25 L466.06 603.59 L467.47 603.97 L468.87 604.38 L470.27 604.83 L471.68 605.32 L473.08 605.86 L474.48 606.44 L475.89 607.08 L477.29 607.77 L478.69 608.52 L480.1 609.33 L481.5 610.2 L482.9 611.13 L484.31 612.13 L485.71 613.2 L487.11 614.34 L488.52 615.54 L489.92 616.81 L491.32 618.14 L492.73 619.53 L494.13 620.99 L495.53 622.49 L496.94 624.04 L498.34 625.63 L499.74 627.25 L501.15 628.89 L502.55 630.55 L503.95 632.22 L505.36 633.88 L506.76 635.52 L508.16 637.15 L509.57 638.75 L510.97 640.3 L512.37 641.82 L513.78 643.28 L515.18 644.69 L516.58 646.03 L517.99 647.31 L519.39 648.53 L520.79 649.68 L522.2 650.76 L523.6 651.77" stroke="#129f6f" fill="none" stroke-width="2.5" stroke-linejoin="round" stroke-linecap="round"/>
<path d="M439.4 600.54 L440.8 600.6 L442.21 600.67 L443.61 600.74 L445.01 600.82 L446.42 600.91 L447.82 601.01 L449.22 601.12 L450.63 601.25 L452.03 601.38 L453.43 601.53 L454.84 601.7 L456.24 601.88 L457.64 602.08 L459.05 602.31 L460.45 602.55 L461.85 602.82 L463.26 603.12 L464.66 603.45 L466.06 603.81 L467.47 604.21 L468.87 604.64 L470.27 605.12 L471.68 605.64 L473.08 606.2 L474.48 606.82 L475.89 607.49 L477.29 608.21 L478.69 609 L480.1 609.84 L481.5 610.75 L482.9 611.72 L484.31 612.77 L485.71 613.87 L487.11 615.05 L488.52 616.29 L489.92 617.6 L491.32 618.97 L492.73 620.4 L494.13 621.88 L495.53 623.41 L496.94 624.99 L498.34 626.6 L499.74 628.23 L501.15 629.89 L502.55 631.55 L503.95 633.21 L505.36 634.87 L506.76 636.5 L508.16 638.11 L509.57 639.69 L510.97 641.22 L512.37 642.7 L513.78 644.13 L515.18 645.5 L516.58 646.81 L517.99 648.05 L519.39 649.23 L520.79 650.33 L522.2 651.38 L523.6 652.35" stroke="#0b4d32" fill="none" stroke-width="2.5" stroke-linejoin="round" stroke-linecap="round"/>
<path d="M439.4 605.62 L440.8 605.94 L442.21 606.29 L443.61 606.65 L445.01 607.04 L446.42 607.46 L447.82 607.9 L449.22 608.37 L450.63 608.86 L452.03 609.39 L453.43 609.95 L454.84 610.54 L456.24 611.16 L457.64 611.81 L459.05 612.5 L460.45 613.23 L461.85 613.98 L463.26 614.78 L464.66 615.61 L466.06 616.47 L467.47 617.37 L468.87 618.3 L470.27 619.26 L471.68 620.25 L473.08 621.28 L474.48 622.33 L475.89 623.41 L477.29 624.51 L478.69 625.64 L480.1 626.78 L481.5 627.94 L482.9 629.11 L484.31 630.28 L485.71 631.47 L487.11 632.66 L488.52 633.84 L489.92 635.02 L491.32 636.19 L492.73 637.35 L494.13 638.5 L495.53 639.63 L496.94 640.73 L498.34 641.82 L499.74 642.87 L501.15 643.91 L502.55 644.91 L503.95 645.88 L505.36 646.81 L506.76 647.72 L508.16 648.59 L509.57 649.42 L510.97 650.22 L512.37 650.99 L513.78 651.72 L515.18 652.41 L516.58 653.07 L517.99 653.7 L519.39 654.3 L520.79 654.86 L522.2 655.39 L523.6 655.9" stroke="#56aee6" fill="none" stroke-width="2.5" stroke-linejoin="round" stroke-linecap="round"/>
<path d="M439.4 601.42 L440.8 601.46 L442.21 601.52 L443.61 601.59 L445.01 601.68 L446.42 601.8 L447.82 601.95 L449.22 602.14 L450.63 602.38 L452.03 602.69 L453.43 603.09 L454.84 603.59 L456.24 604.21 L457.64 605 L459.05 605.98 L460.45 607.18 L461.85 608.66 L463.26 610.45 L464.66 612.57 L466.06 615.06 L467.47 617.92 L468.87 621.12 L470.27 624.62 L471.68 628.34 L473.08 632.18 L474.48 636.02 L475.89 639.74 L477.29 643.24 L478.69 646.44 L480.1 649.3 L481.5 651.79 L482.9 653.91 L484.31 655.7 L485.71 657.18 L487.11 658.39 L488.52 659.36 L489.92 660.15 L491.32 660.78 L492.73 661.27 L494.13 661.67 L495.53 661.98 L496.94 662.22 L498.34 662.41 L499.74 662.56 L501.15 662.68 L502.55 662.77 L503.95 662.85 L505.36 662.9 L506.76 662.95 L508.16 662.98 L509.57 663.01 L510.97 663.03 L512.37 663.04 L513.78 663.06 L515.18 663.07 L516.58 663.07 L517.99 663.08 L519.39 663.08 L520.79 663.09 L522.2 663.09 L523.6 663.09" stroke="#8fc9ee" fill="none" stroke-width="2.5" stroke-linejoin="round" stroke-linecap="round"/>
<path d="M439.4 600 L440.8 600 L442.21 600 L443.61 600 L445.01 600 L446.42 600 L447.82 600 L449.22 600 L450.63 600 L452.03 600 L453.43 600 L454.84 600 L456.24 600 L457.64 600 L459.05 600 L460.45 600 L461.85 600 L463.26 600 L464.66 600 L466.06 600 L467.47 600 L468.87 600 L470.27 600 L471.68 600 L473.08 600 L474.48 600 L475.89 600 L477.29 600 L478.69 600 L480.1 600.01 L481.5 600.01 L482.9 600.01 L484.31 600.01 L485.71 600.02 L487.11 600.03 L488.52 600.04 L489.92 600.05 L491.32 600.07 L492.73 600.09 L494.13 600.12 L495.53 600.16 L496.94 600.22 L498.34 600.3 L499.74 600.41 L501.15 600.55 L502.55 600.75 L503.95 601.01 L505.36 601.37 L506.76 601.85 L508.16 602.49 L509.57 603.34 L510.97 604.45 L512.37 605.9 L513.78 607.76 L515.18 610.1 L516.58 612.98 L517.99 616.43 L519.39 620.43 L520.79 624.87 L522.2 629.62 L523.6 634.45" stroke="#f2cd7c" fill="none" stroke-width="2.5" stroke-linejoin="round" stroke-linecap="round"/>
<path d="M439.4 600 L440.8 600 L442.21 600 L443.61 600 L445.01 600 L446.42 600 L447.82 600 L449.22 600 L450.63 600 L452.03 600 L453.43 600 L454.84 600 L456.24 600 L457.64 600 L459.05 600 L460.45 600 L461.85 600 L463.26 600 L464.66 600 L466.06 600 L467.47 600 L468.87 600 L470.27 600 L471.68 600 L473.08 600 L474.48 600 L475.89 600 L477.29 600 L478.69 600 L480.1 600 L481.5 600.01 L482.9 600.01 L484.31 600.01 L485.71 600.02 L487.11 600.02 L488.52 600.03 L489.92 600.04 L491.32 600.05 L492.73 600.07 L494.13 600.1 L495.53 600.14 L496.94 600.18 L498.34 600.25 L499.74 600.34 L501.15 600.46 L502.55 600.62 L503.95 600.85 L505.36 601.14 L506.76 601.55 L508.16 602.08 L509.57 602.8 L510.97 603.75 L512.37 604.98 L513.78 606.59 L515.18 608.63 L516.58 611.18 L517.99 614.29 L519.39 617.97 L520.79 622.16 L522.2 626.74 L523.6 631.55" stroke="#efc25f" fill="none" stroke-width="2.5" stroke-linejoin="round" stroke-linecap="round"/>
<path d="M439.4 600 L440.8 600 L442.21 600 L443.61 600 L445.01 600 L446.42 600 L447.82 600 L449.22 600 L450.63 600 L452.03 600 L453.43 600 L454.84 600 L456.24 600 L457.64 600 L459.05 600 L460.45 600 L461.85 600 L463.26 600 L464.66 600 L466.06 600 L467.47 600 L468.87 600 L470.27 600 L471.68 600 L473.08 600 L474.48 600 L475.89 600 L477.29 600 L478.69 600 L480.1 600 L481.5 600 L482.9 600 L484.31 600 L485.71 600 L487.11 600.01 L488.52 600.01 L489.92 600.01 L491.32 600.01 L492.73 600.02 L494.13 600.03 L495.53 600.04 L496.94 600.06 L498.34 600.08 L499.74 600.12 L501.15 600.17 L502.55 600.23 L503.95 600.33 L505.36 600.46 L506.76 600.65 L508.16 600.92 L509.57 601.29 L510.97 601.81 L512.37 602.53 L513.78 603.51 L515.18 604.85 L516.58 606.63 L517.99 608.98 L519.39 611.98 L520.79 615.7 L522.2 620.11 L523.6 625.1" stroke="#e9ad37" fill="none" stroke-width="2.5" stroke-linejoin="round" stroke-linecap="round"/>
<path d="M439.4 600 L440.8 600 L442.21 600 L443.61 600 L445.01 600 L446.42 600 L447.82 600 L449.22 600 L450.63 600 L452.03 600 L453.43 600 L454.84 600 L456.24 600 L457.64 600 L459.05 600 L460.45 600 L461.85 600 L463.26 600 L464.66 600 L466.06 600 L467.47 600 L468.87 600 L470.27 600 L471.68 600 L473.08 600 L474.48 600 L475.89 600 L477.29 600 L478.69 600 L480.1 600 L481.5 600 L482.9 600 L484.31 600 L485.71 600 L487.11 600 L488.52 600 L489.92 600 L491.32 600 L492.73 600 L494.13 600.01 L495.53 600.01 L496.94 600.01 L498.34 600.02 L499.74 600.03 L501.15 600.04 L502.55 600.06 L503.95 600.09 L505.36 600.14 L506.76 600.2 L508.16 600.29 L509.57 600.43 L510.97 600.62 L512.37 600.91 L513.78 601.33 L515.18 601.93 L516.58 602.8 L517.99 604.02 L519.39 605.74 L520.79 608.08 L522.2 611.18 L523.6 615.16" stroke="#e39e0b" fill="none" stroke-width="2.5" stroke-linejoin="round" stroke-linecap="round"/>
<text x="474.8" y="582.3" font-size="9.5" text-anchor="middle" fill="#000">Afatinib</text>
<text x="474.8" y="591.2" font-size="8.4" text-anchor="middle" fill="#000">(EGFR/HER)</text>
<line x1="543" y1="563.3" x2="555.2" y2="563.3" stroke="#f2cd7c" stroke-width="3"/>
<text x="557.6" y="566.4" font-size="8.5" text-anchor="start" fill="#000">3E</text>
<line x1="543" y1="575.9" x2="555.2" y2="575.9" stroke="#efc25f" stroke-width="3"/>
<text x="557.6" y="579" font-size="8.5" text-anchor="start" fill="#000">13E</text>
<line x1="543" y1="588.5" x2="555.2" y2="588.5" stroke="#e9ad37" stroke-width="3"/>
<text x="557.6" y="591.6" font-size="8.5" text-anchor="start" fill="#000">17E</text>
<line x1="543" y1="601.1" x2="555.2" y2="601.1" stroke="#e39e0b" stroke-width="3"/>
<text x="557.6" y="604.2" font-size="8.5" text-anchor="start" fill="#000">22E</text>
<line x1="543" y1="613.7" x2="555.2" y2="613.7" stroke="#8dd3b5" stroke-width="3"/>
<text x="557.6" y="616.8" font-size="8.5" text-anchor="start" fill="#000">8F<tspan font-size="5" dy="2.6">1</tspan></text>
<line x1="543" y1="626.3" x2="555.2" y2="626.3" stroke="#55b993" stroke-width="3"/>
<text x="557.6" y="629.4" font-size="8.5" text-anchor="start" fill="#000">17F<tspan font-size="5" dy="2.6">1</tspan></text>
<line x1="543" y1="638.9" x2="555.2" y2="638.9" stroke="#129f6f" stroke-width="3"/>
<text x="557.6" y="642" font-size="8.5" text-anchor="start" fill="#000">27F<tspan font-size="5" dy="2.6">1</tspan></text>
<line x1="543" y1="651.5" x2="555.2" y2="651.5" stroke="#0b4d32" stroke-width="3"/>
<text x="557.6" y="654.6" font-size="8.5" text-anchor="start" fill="#000">96F<tspan font-size="5" dy="2.6">1</tspan></text>
<line x1="543" y1="664.1" x2="555.2" y2="664.1" stroke="#8fc9ee" stroke-width="3"/>
<text x="557.6" y="667.2" font-size="8.5" text-anchor="start" fill="#000">10F<tspan font-size="5" dy="2.6">2</tspan></text>
<line x1="543" y1="676.7" x2="555.2" y2="676.7" stroke="#56aee6" stroke-width="3"/>
<text x="557.6" y="679.8" font-size="8.5" text-anchor="start" fill="#000">13F<tspan font-size="5" dy="2.6">2</tspan></text>
<line x1="543" y1="689.3" x2="555.2" y2="689.3" stroke="#3a7fb0" stroke-width="3"/>
<text x="557.6" y="692.4" font-size="8.5" text-anchor="start" fill="#000">135F<tspan font-size="5" dy="2.6">2</tspan></text>
<text x="2.1" y="726.1" font-size="9.6" text-anchor="start" fill="#000" font-weight="bold">h</text>
<text x="167.5" y="731.5" font-size="9.5" text-anchor="middle" fill="#000">EGFR tumor staining</text>
<clipPath id="c1"><rect x="6.1" y="740.1" width="103.7" height="107.7"/></clipPath>
<clipPath id="c2"><rect x="115.5" y="740.1" width="103.5" height="107.7"/></clipPath>
<clipPath id="c3"><rect x="224.8" y="740.1" width="103.2" height="107.7"/></clipPath>
<rect x="6.1" y="740.1" width="103.7" height="107.7" fill="#0a0a0a"/>
<g clip-path="url(#c1)"><path d="M29.2 825.3h0M41.0 812.0h0M11.0 808.8h0M23.6 822.2h0M41.7 812.6h0M33.6 791.0h0M34.7 762.3h0M29.9 839.4h0M16.8 829.9h0M24.8 816.9h0M27.1 824.7h0M10.6 836.3h0M18.3 750.7h0M10.8 802.6h0M30.1 827.9h0M11.1 773.4h0M44.7 808.7h0M15.3 775.0h0M39.1 847.1h0M16.8 840.4h0M28.4 741.4h0M35.4 752.9h0M32.5 793.6h0M7.3 816.7h0M6.3 811.2h0M18.9 765.7h0M16.2 772.0h0M8.8 768.8h0M19.6 834.8h0M87.9 815.8h0M32.3 846.9h0M24.0 741.8h0M10.3 753.6h0M20.6 795.1h0M11.0 750.8h0M28.4 762.6h0M8.3 803.0h0M10.2 772.4h0M14.9 822.2h0M9.4 832.5h0M21.5 797.9h0M8.5 744.2h0M10.7 797.0h0M16.2 776.5h0M29.3 755.7h0M21.3 761.4h0M37.4 804.5h0M14.7 836.1h0M77.9 837.6h0M44.8 836.1h0M27.1 832.2h0M32.2 783.6h0M20.5 795.4h0M31.2 824.1h0M31.3 807.2h0M34.1 803.1h0M26.3 839.5h0M19.3 789.3h0M38.7 809.7h0M25.2 847.1h0M6.3 782.6h0M17.7 749.1h0M31.1 817.9h0M10.0 765.1h0M16.7 757.5h0M17.5 813.8h0M33.5 774.6h0M14.5 823.6h0M47.1 811.6h0M23.5 791.6h0M13.2 744.3h0M9.7 832.9h0M10.5 823.3h0M9.4 807.9h0M77.0 839.0h0M13.5 759.0h0M10.1 797.2h0M6.5 833.3h0M24.7 785.3h0M12.5 822.7h0M31.4 810.6h0M24.3 833.5h0M21.5 810.6h0M10.3 781.2h0M36.4 812.3h0M25.2 743.3h0M24.5 804.0h0M32.9 842.2h0M8.2 749.4h0M12.7 836.4h0M38.1 839.2h0M13.1 838.7h0M28.5 843.5h0M26.1 755.2h0M11.1 835.4h0M16.8 768.6h0M23.9 761.3h0M15.1 809.3h0M15.1 765.0h0M25.5 777.6h0M6.3 776.6h0M98.9 797.0h0M40.8 821.5h0M13.6 809.4h0M16.9 820.3h0M40.8 847.5h0M20.6 797.9h0M101.6 745.1h0M14.9 841.3h0M7.3 821.7h0M14.0 751.3h0" stroke="#242424" stroke-width="1.8" stroke-linecap="round"/><path d="M30.2 765.1h0M31.7 834.6h0M26.8 804.6h0M34.1 746.3h0M8.7 811.9h0M11.0 760.2h0M31.2 804.7h0M11.6 771.0h0M20.2 740.4h0M17.8 776.4h0M8.6 798.2h0M21.0 768.1h0M29.0 747.1h0M15.3 806.2h0M20.8 799.0h0M28.0 798.7h0M35.7 829.2h0M25.4 747.9h0M34.1 761.9h0M8.2 778.4h0M36.2 839.8h0M24.6 783.8h0M33.9 832.5h0M34.2 844.4h0M18.1 806.2h0M17.9 771.0h0M39.9 816.4h0M35.6 791.2h0M16.0 826.6h0M25.9 758.6h0M45.0 842.4h0M35.2 770.7h0M11.2 791.0h0M7.5 751.5h0M10.4 743.5h0M25.7 758.8h0M39.9 823.6h0M23.1 837.1h0M9.4 831.4h0M33.5 783.9h0M13.0 796.2h0M19.5 844.2h0M15.1 806.7h0M16.6 802.2h0M33.5 812.3h0M8.7 742.6h0M32.8 794.2h0M39.2 806.5h0M34.2 772.3h0M20.3 800.9h0M18.6 746.7h0M12.9 816.7h0M15.5 825.2h0M24.3 754.5h0M39.3 833.1h0M9.2 834.8h0M44.6 752.2h0M39.3 816.1h0M24.1 803.7h0M39.8 818.2h0M32.5 815.6h0M16.1 775.0h0M40.2 817.0h0M29.5 782.1h0M13.1 846.1h0M34.1 806.0h0M14.6 743.6h0M27.3 753.1h0M6.8 800.7h0M9.2 827.5h0M40.4 830.1h0M17.0 740.6h0M12.4 845.2h0M8.7 752.4h0M34.7 786.6h0M26.2 756.5h0M28.2 778.4h0M13.2 779.6h0M23.6 778.2h0M20.7 839.9h0M30.6 752.9h0M29.3 771.9h0M17.3 741.2h0M14.6 797.4h0M30.6 830.4h0M32.5 782.1h0" stroke="#242424" stroke-width="2.5" stroke-linecap="round"/><path d="M23.2 814.5h0M97.0 806.5h0M19.0 840.2h0M56.4 760.2h0M63.9 807.2h0M100.2 754.4h0M32.3 815.2h0M6.7 773.8h0M13.4 747.3h0M22.8 840.5h0M32.3 786.5h0M33.5 813.7h0M57.7 817.0h0M29.0 803.4h0M23.2 826.3h0M29.0 752.1h0M26.6 793.4h0M106.3 834.9h0M42.0 763.0h0M83.6 818.8h0M61.5 745.5h0M76.6 843.3h0M91.4 790.1h0M100.0 821.3h0M71.9 831.9h0M103.4 770.7h0M24.3 816.8h0M88.8 804.8h0M24.4 778.6h0M21.0 845.5h0M30.3 843.0h0M109.5 776.5h0M28.4 825.0h0M100.0 828.1h0M107.9 755.6h0M9.4 817.4h0M14.9 817.0h0M19.6 799.0h0M84.3 824.2h0M53.6 847.5h0M23.2 746.8h0M106.1 742.5h0M25.3 832.8h0M89.5 791.2h0M64.6 742.8h0M39.2 796.0h0M41.1 804.7h0M63.8 846.9h0M40.2 754.6h0M26.8 794.9h0M6.8 803.1h0M44.6 817.0h0M35.3 814.2h0M28.7 752.0h0M33.5 800.7h0M100.7 800.3h0M97.2 841.2h0M102.0 847.4h0M49.4 789.7h0M17.9 793.6h0M19.8 817.8h0M63.8 811.8h0M103.4 752.8h0M99.6 812.4h0M40.6 789.5h0M15.2 829.5h0M48.0 824.6h0M39.5 743.1h0M12.3 760.5h0M36.4 809.8h0M107.7 766.1h0M11.8 763.6h0M43.8 810.4h0M99.3 785.1h0M73.7 752.0h0M20.5 847.2h0M44.0 826.1h0M40.4 809.2h0M17.3 764.5h0M18.8 771.4h0M102.5 746.1h0M17.7 808.7h0M94.0 840.3h0M96.3 788.9h0M99.2 818.9h0M26.0 820.8h0M107.0 840.4h0M44.5 760.9h0M71.4 743.7h0M101.1 789.7h0M36.1 811.5h0M45.8 817.2h0M106.3 841.7h0M32.3 845.0h0M26.6 799.7h0M32.9 805.5h0M101.1 783.3h0M59.3 819.2h0M73.7 742.0h0M20.1 807.8h0M28.2 813.0h0M42.2 819.0h0M82.8 787.5h0M25.7 819.8h0M21.6 770.8h0M103.8 846.0h0M9.8 769.8h0M24.3 774.9h0M53.0 810.5h0M66.7 838.1h0M69.4 841.1h0M68.1 845.2h0M95.7 812.6h0M10.4 740.2h0M43.4 752.0h0M18.4 776.0h0M10.0 827.2h0M25.0 811.1h0M29.3 793.4h0M62.2 821.4h0M68.7 807.3h0M64.3 802.6h0M19.0 779.0h0M82.3 810.8h0M41.5 843.1h0M68.1 832.7h0M26.2 835.6h0M50.6 771.6h0M90.5 828.5h0M20.9 788.1h0M10.1 747.2h0M13.2 835.3h0M46.6 777.2h0M49.4 759.2h0M36.0 834.7h0M25.2 781.0h0M82.3 829.7h0M21.0 800.1h0M39.6 835.5h0M43.0 816.8h0M76.2 840.7h0M105.0 780.9h0M98.9 829.3h0M97.7 772.9h0M29.1 840.4h0M37.5 846.3h0M98.0 838.2h0M56.1 808.8h0M42.9 753.9h0M6.1 756.5h0M30.0 840.2h0M89.5 821.6h0M97.3 834.8h0M10.4 784.2h0M35.4 782.7h0M26.7 794.4h0M34.1 751.7h0M44.1 812.8h0M69.4 805.5h0M16.8 802.5h0M6.8 806.3h0M22.1 763.3h0M28.9 745.0h0M47.5 844.5h0M15.4 847.3h0M44.9 815.8h0M74.9 802.0h0M77.3 843.9h0M20.4 831.2h0M20.6 790.8h0M49.6 754.0h0M9.1 774.8h0M30.5 803.3h0M15.6 769.3h0M17.9 751.0h0M35.3 756.2h0M47.5 776.6h0M24.4 785.5h0M13.9 792.8h0M38.1 836.5h0M105.1 757.8h0M41.3 802.0h0M7.6 802.0h0M19.6 790.4h0M17.4 766.0h0M26.6 786.1h0M93.7 746.2h0M27.9 816.9h0M11.4 806.3h0M8.2 748.6h0M43.0 750.6h0M93.8 818.5h0M36.8 842.0h0M69.1 834.1h0M92.2 830.0h0M40.2 801.2h0M20.6 770.1h0M32.3 758.8h0M33.1 787.7h0M100.9 792.4h0M109.8 835.3h0M35.9 754.5h0M98.9 827.0h0M64.2 829.4h0M83.0 740.1h0M12.8 804.7h0M107.4 831.5h0M109.2 749.1h0M40.0 830.1h0M16.0 825.8h0M84.9 826.1h0M94.2 752.4h0M17.9 824.8h0M18.9 790.3h0M6.5 758.3h0M82.1 834.1h0M53.5 744.1h0M73.5 808.6h0M97.3 755.1h0M80.5 824.9h0M94.8 839.3h0M55.2 836.2h0M19.4 752.8h0M93.1 780.4h0M55.8 756.3h0M106.8 766.4h0M104.5 769.6h0M99.4 846.5h0M82.7 841.0h0M68.3 819.0h0M26.4 776.8h0M20.7 806.4h0M25.5 764.9h0M67.2 818.0h0M72.8 811.2h0M20.0 785.0h0M31.8 777.2h0" stroke="#3c3c3c" stroke-width="1.8" stroke-linecap="round"/><path d="M6.3 780.1h0M18.0 842.8h0M49.6 758.4h0M60.7 818.7h0M94.6 803.1h0M38.2 837.3h0M109.3 751.6h0M40.9 809.3h0M83.7 822.0h0M34.1 778.1h0M92.0 763.1h0M42.6 806.3h0M109.8 761.3h0M88.5 840.2h0M14.0 773.3h0M8.2 818.3h0M42.0 821.5h0M41.4 811.7h0M45.5 845.5h0M32.7 807.5h0M32.3 763.4h0M72.1 808.0h0M51.8 821.0h0M30.7 786.5h0M81.0 812.8h0M48.8 809.6h0M104.4 837.7h0M35.3 750.1h0M33.4 831.6h0M22.3 791.5h0M23.1 797.3h0M29.3 839.6h0M55.2 845.9h0M21.9 799.6h0M67.4 822.9h0M108.0 771.3h0M22.3 834.4h0M62.4 846.4h0M16.4 796.3h0M30.8 771.4h0M55.4 828.7h0M80.6 847.5h0M12.3 742.4h0M9.3 753.5h0M27.6 812.0h0M28.9 796.7h0M6.1 819.7h0M36.6 818.6h0M7.1 844.3h0M7.9 777.3h0M58.9 754.2h0M102.3 765.3h0M27.4 846.0h0M56.6 811.7h0M102.2 800.0h0M22.1 745.5h0M44.2 809.3h0M83.2 831.9h0M42.3 742.7h0M66.0 838.0h0M83.2 809.4h0M49.1 748.8h0M88.0 801.3h0M90.9 803.6h0M52.1 793.9h0M80.5 829.5h0M34.5 797.6h0M18.6 806.3h0M13.2 800.3h0M109.0 752.2h0M77.4 818.7h0M107.5 755.1h0M75.8 837.9h0M31.9 782.3h0M18.0 802.4h0M49.5 803.3h0M20.0 784.7h0M11.2 775.4h0M53.7 827.3h0M16.3 830.7h0M94.0 836.9h0M72.9 833.5h0M101.5 791.2h0M64.3 816.1h0M106.8 843.3h0M67.8 808.2h0M45.5 760.2h0M32.4 801.7h0M51.7 776.8h0M32.7 740.2h0M27.6 818.0h0M12.5 787.5h0M95.3 790.3h0M95.2 833.6h0M29.2 751.1h0M88.5 797.4h0M99.9 779.2h0M6.9 805.3h0M88.2 745.8h0M36.7 752.9h0M6.5 788.6h0M101.2 818.7h0M19.1 774.5h0M17.4 833.1h0M38.0 796.0h0M48.7 835.9h0M36.6 835.9h0M44.0 804.4h0M59.9 803.2h0M6.7 742.4h0M25.7 778.7h0M22.4 797.1h0M17.8 792.2h0M53.7 740.8h0M76.8 831.3h0M28.8 751.1h0M109.6 757.7h0M90.3 741.6h0M50.7 837.7h0M6.3 775.4h0M102.6 838.9h0M22.9 766.9h0M69.8 847.9h0M68.7 816.3h0M24.7 845.7h0M64.4 827.5h0M32.4 740.2h0M35.6 741.1h0M102.9 771.9h0M40.0 812.1h0M37.9 833.6h0M40.9 819.0h0M16.4 812.7h0M68.6 824.4h0M18.7 795.3h0M8.9 799.4h0M19.7 801.6h0M11.5 816.0h0M7.3 756.1h0M41.0 752.2h0M36.0 789.0h0M32.1 808.6h0M103.1 766.5h0M87.1 809.4h0M21.2 847.5h0M12.1 811.8h0M48.3 806.5h0M50.2 776.1h0M50.6 829.1h0M84.3 817.3h0M109.4 778.1h0M93.9 780.4h0M85.1 838.7h0M10.5 831.3h0M26.8 833.8h0M48.1 832.4h0M61.1 835.5h0M42.2 807.0h0M52.4 835.0h0M14.1 821.5h0M31.6 803.3h0M53.4 834.9h0M86.5 814.0h0M13.1 813.5h0M17.9 814.3h0M85.7 755.7h0M96.3 749.4h0M24.4 742.7h0M19.3 761.9h0M10.9 773.2h0M29.7 757.0h0M36.4 833.7h0M34.5 844.4h0M26.4 779.6h0M102.7 835.0h0M19.3 828.7h0M23.9 767.9h0M29.7 743.9h0M13.1 816.7h0M39.7 754.7h0M94.6 804.8h0M12.3 756.2h0M97.0 795.4h0M41.3 847.4h0M20.0 846.1h0M54.7 826.7h0M26.8 814.3h0M21.3 751.2h0M103.3 822.7h0M105.3 780.8h0M31.9 834.4h0M27.5 779.7h0M59.3 795.9h0M75.8 832.6h0M66.3 801.0h0M9.2 774.4h0M95.7 808.9h0M8.5 791.5h0M95.7 839.9h0M15.9 784.4h0M39.0 785.2h0M23.8 792.3h0M12.3 748.1h0M88.6 795.0h0M94.3 807.3h0M6.6 760.4h0M32.5 749.7h0M101.3 792.2h0M33.3 744.8h0M26.1 771.7h0M16.6 788.1h0M35.0 843.8h0M14.8 756.0h0M97.9 847.9h0M10.2 792.4h0M50.6 844.5h0M31.3 840.1h0M82.2 847.1h0M92.8 800.1h0" stroke="#3c3c3c" stroke-width="2.5" stroke-linecap="round"/><path d="M88.4 827.2h0M44.0 788.7h0M8.8 750.1h0M25.1 780.8h0M12.6 828.0h0M46.0 769.4h0M60.4 836.7h0M56.2 745.9h0M86.2 802.6h0M50.8 811.7h0M51.8 802.0h0M29.4 747.4h0M38.6 768.3h0M43.7 780.4h0M43.2 793.8h0M34.5 811.7h0M88.2 845.0h0M106.7 844.0h0M49.6 843.1h0M48.4 809.8h0M76.0 747.2h0M13.5 762.4h0M64.8 809.7h0M74.5 827.6h0M27.2 812.6h0M54.7 845.2h0M64.0 831.9h0M78.2 790.5h0M39.7 743.8h0M67.5 749.8h0M40.9 749.2h0M20.4 809.7h0M14.5 754.5h0M45.7 754.3h0M109.5 843.8h0M101.7 796.1h0M51.1 802.9h0M94.9 825.7h0M78.0 760.9h0M103.8 770.1h0M44.3 799.1h0M33.8 824.1h0M80.1 751.1h0M14.6 790.3h0M36.7 780.5h0M66.7 768.9h0M55.0 762.7h0M83.8 755.1h0M89.2 742.3h0M80.4 761.2h0M40.7 787.0h0M106.2 766.5h0M76.5 823.8h0M87.4 774.1h0M109.8 797.7h0M19.2 817.1h0M75.5 800.0h0M25.1 812.9h0M86.4 790.3h0M68.0 747.2h0M38.9 778.8h0M85.1 780.4h0M46.1 805.3h0M10.1 780.7h0M55.1 797.4h0M84.0 819.6h0M100.3 836.3h0M43.1 776.0h0M98.9 835.5h0M31.7 755.6h0M25.3 747.0h0M34.2 800.0h0M48.6 801.5h0M36.6 826.5h0M65.8 801.9h0M71.6 774.8h0M53.7 825.5h0M23.7 796.3h0M11.2 741.6h0M56.4 781.0h0M100.4 819.1h0M6.5 748.7h0M106.7 808.9h0M32.1 742.1h0M8.0 824.9h0M89.7 750.3h0M72.5 816.4h0M19.3 809.2h0M15.0 819.9h0M57.4 831.0h0M98.9 759.4h0M15.3 794.4h0M38.4 820.6h0M8.0 783.8h0M69.0 828.7h0M56.8 791.0h0M50.6 836.2h0M55.4 746.9h0M35.7 810.8h0M106.6 755.9h0M25.6 838.2h0M38.5 754.7h0M109.4 826.3h0M33.6 797.3h0M6.6 789.6h0M75.1 835.6h0M76.9 766.5h0M90.1 807.4h0M71.2 780.5h0M36.3 845.5h0M21.5 797.6h0M21.5 749.0h0M79.1 804.3h0M13.4 806.4h0M77.2 845.0h0M71.7 832.3h0M17.2 814.1h0M82.2 741.7h0M18.3 824.2h0M71.4 823.3h0M98.5 815.8h0M75.1 740.4h0M57.7 807.3h0M54.9 795.0h0M80.8 790.3h0M63.0 756.2h0M77.9 791.7h0M6.5 790.2h0M35.3 742.0h0M88.8 789.9h0M11.2 766.4h0M102.1 825.6h0M13.1 761.6h0M100.1 843.9h0M22.4 839.3h0M28.8 788.4h0M99.3 825.1h0M30.5 807.5h0M32.5 843.7h0M102.4 803.6h0M68.3 775.0h0M55.1 789.1h0M60.4 743.6h0M9.9 821.9h0M35.4 820.0h0M43.0 824.3h0M73.0 774.4h0M25.3 779.2h0M16.4 797.9h0M19.8 845.9h0M46.0 822.2h0M28.7 820.9h0M35.4 766.8h0M27.3 769.7h0M7.1 778.8h0M97.2 753.4h0M13.2 788.1h0M11.1 832.3h0M6.1 793.7h0M10.3 740.5h0M19.0 822.0h0M109.8 795.3h0M7.5 771.1h0M108.2 745.2h0M107.8 765.7h0M57.4 773.5h0M30.0 816.5h0M16.9 840.5h0M57.3 750.3h0M37.5 829.9h0M90.1 812.6h0M50.7 811.8h0M109.4 788.6h0M36.5 830.4h0M15.1 815.8h0M60.5 844.5h0M53.5 839.1h0M37.4 796.0h0M30.2 804.6h0M65.0 742.1h0M86.2 761.9h0M73.8 841.9h0M72.6 836.9h0M107.0 803.7h0M36.7 763.6h0M38.8 829.0h0M30.0 789.3h0M40.0 845.9h0M25.5 756.6h0M69.5 753.1h0M53.2 776.2h0M12.1 771.1h0M44.0 797.7h0M53.7 830.6h0M17.6 782.7h0M100.3 842.9h0M26.4 777.1h0M10.1 768.6h0M31.7 811.3h0M41.5 820.5h0M83.9 847.4h0M86.0 815.4h0M12.8 840.1h0M22.4 808.9h0M87.8 740.8h0M17.3 780.9h0M9.7 793.3h0M42.1 763.8h0M17.2 839.0h0M59.3 743.4h0M21.8 794.4h0M92.4 840.7h0M78.7 747.0h0M86.2 775.5h0M70.6 839.3h0M20.0 795.2h0M83.6 770.1h0M106.3 787.0h0" stroke="#545454" stroke-width="1.8" stroke-linecap="round"/><path d="M12.8 827.9h0M108.3 820.6h0M106.2 749.2h0M63.5 748.6h0M73.9 757.1h0M43.7 748.9h0M61.9 789.5h0M96.0 821.1h0M78.4 784.7h0M92.5 814.7h0M34.4 768.8h0M57.9 815.8h0M52.4 816.9h0M18.0 777.7h0M20.0 777.3h0M86.2 814.1h0M31.8 767.8h0M18.0 771.7h0M26.5 812.4h0M66.9 809.5h0M63.1 825.9h0M57.0 805.8h0M14.1 809.9h0M68.4 788.2h0M19.7 743.0h0M43.3 778.8h0M108.0 827.2h0M99.5 805.6h0M33.8 743.3h0M105.2 778.6h0M46.5 834.6h0M18.7 833.5h0M53.5 830.4h0M71.0 829.1h0M85.5 763.5h0M71.8 784.3h0M61.8 804.5h0M44.0 830.4h0M41.0 766.7h0M76.7 768.2h0M11.4 794.3h0M78.8 780.1h0M44.6 811.4h0M20.2 818.1h0M58.0 840.4h0M100.9 798.5h0M48.5 779.0h0M75.3 761.7h0M24.3 799.1h0M37.7 843.9h0M29.0 833.9h0M41.2 755.9h0M32.5 815.3h0M47.8 832.3h0M73.1 750.1h0M9.1 811.8h0M43.1 754.8h0M96.2 790.4h0M27.9 750.8h0M45.9 753.3h0M32.7 816.0h0M98.2 800.6h0M71.7 828.2h0M73.0 818.1h0M106.1 776.0h0M45.0 844.0h0M44.8 792.5h0M80.9 743.8h0M8.3 822.9h0M96.1 751.8h0M77.2 794.1h0M29.0 841.8h0M101.1 768.5h0M100.6 817.2h0M97.5 814.6h0M9.5 785.3h0M101.1 804.4h0M92.4 811.3h0M56.3 792.5h0M60.5 817.7h0M88.0 828.9h0M78.5 815.6h0M94.4 755.9h0M51.0 768.2h0M18.9 839.9h0M56.9 747.9h0M84.6 808.4h0M20.4 773.3h0M53.6 794.0h0M48.2 769.9h0M87.8 752.8h0M50.0 757.9h0M60.2 773.7h0M19.6 813.9h0M72.8 764.2h0M99.6 745.2h0M7.8 778.9h0M63.8 795.8h0M55.0 776.5h0M53.3 832.1h0M19.8 778.8h0M17.4 777.8h0M40.0 818.4h0M15.8 803.4h0M90.9 740.5h0M98.3 780.8h0M79.0 833.6h0M78.0 825.0h0M61.6 750.2h0M19.9 812.1h0M90.6 749.9h0M103.1 780.9h0M88.4 835.1h0M15.7 841.7h0M68.6 797.1h0M13.2 810.4h0M27.4 825.2h0M98.5 807.5h0M56.0 827.2h0M45.8 746.9h0M92.1 822.6h0M7.2 825.9h0M35.3 808.8h0M22.7 811.5h0M45.8 743.9h0M90.6 752.6h0M76.8 766.0h0M96.6 785.5h0M10.1 829.5h0M40.1 813.8h0M84.9 839.7h0M60.5 827.7h0M75.6 816.4h0M72.9 844.3h0M12.3 830.8h0M14.7 828.5h0M102.4 835.7h0M57.1 809.0h0M73.5 784.8h0M47.0 809.9h0M43.0 826.6h0M31.2 800.7h0M74.4 836.7h0M38.7 831.7h0M80.0 770.8h0M10.9 810.0h0M31.9 778.8h0M75.7 836.4h0M18.0 825.9h0M100.8 762.4h0M62.5 781.8h0M87.1 817.9h0M35.5 752.6h0M65.7 847.9h0M67.7 828.1h0M58.9 775.8h0M96.3 808.7h0M20.1 799.3h0M29.3 824.5h0M107.3 820.2h0M47.0 788.1h0M41.3 795.7h0M10.5 780.0h0M11.5 769.2h0M39.6 805.9h0M58.5 751.6h0M31.7 802.1h0M14.7 747.8h0M103.9 803.1h0M29.4 832.0h0M106.7 746.9h0M19.8 831.6h0M100.9 787.3h0M86.7 811.0h0M8.2 837.8h0M65.2 792.7h0M55.4 797.3h0M98.0 775.5h0M92.5 749.0h0M42.0 813.9h0M83.5 807.8h0M48.8 796.5h0M108.2 807.9h0M43.4 830.6h0M90.2 811.2h0M78.1 808.8h0M39.3 832.4h0M80.2 813.3h0M24.0 839.9h0M86.1 758.2h0M54.5 819.2h0M85.3 822.7h0M63.8 824.5h0M41.9 805.2h0M10.0 841.5h0M39.7 807.7h0M45.8 775.4h0M54.6 765.5h0M24.7 831.7h0" stroke="#545454" stroke-width="2.5" stroke-linecap="round"/><path d="M102.4 777.4h0M79.9 834.4h0M69.1 807.0h0M48.5 814.6h0M89.5 819.5h0M73.5 779.8h0M106.1 780.4h0M106.3 823.8h0M52.0 765.0h0M77.8 807.8h0M101.5 789.8h0M61.6 821.3h0M75.8 845.5h0M95.2 793.1h0M56.0 832.8h0M87.2 839.8h0M64.1 788.8h0M68.1 791.8h0M38.0 787.0h0M52.6 748.8h0M106.1 771.6h0M85.6 756.7h0M102.9 787.6h0M63.7 751.0h0M73.0 844.5h0M54.5 752.0h0M87.0 804.8h0M60.4 796.0h0M95.0 751.0h0M78.2 764.5h0M89.5 801.6h0M62.9 840.1h0M91.3 762.3h0M93.5 757.2h0M99.0 748.1h0M70.7 767.4h0M107.6 801.6h0M89.3 795.5h0M88.3 838.6h0M82.4 836.7h0M64.4 837.1h0M82.0 768.5h0M91.3 778.7h0M85.3 784.4h0M80.0 756.9h0M40.4 744.3h0M36.4 758.1h0M39.7 756.2h0M94.1 825.5h0M45.3 770.4h0M97.8 807.8h0M52.1 748.6h0M73.7 749.8h0M73.6 750.9h0M80.4 773.4h0M59.3 803.3h0M69.7 839.8h0M96.6 832.3h0M53.7 772.6h0M55.4 842.9h0M87.0 823.9h0M99.8 792.0h0M56.2 795.8h0M86.3 777.8h0M59.9 809.3h0M59.8 795.5h0M50.1 834.0h0M91.9 781.7h0M44.1 786.3h0M85.8 802.1h0M107.2 761.2h0M73.1 821.6h0M56.3 747.6h0M106.6 751.9h0M68.3 836.0h0M91.6 810.0h0M86.7 776.3h0M51.0 788.2h0M61.6 805.7h0M69.6 783.7h0M102.6 751.2h0M48.9 762.5h0M52.7 834.6h0M70.4 804.9h0M100.4 821.9h0M74.4 843.7h0M65.8 766.9h0M65.2 816.8h0M95.2 832.4h0M103.6 805.1h0M51.0 741.8h0M48.2 829.2h0M51.6 814.1h0M90.2 766.5h0M84.4 812.1h0M93.5 752.7h0M42.5 795.5h0M101.9 816.3h0M97.5 828.3h0M104.1 760.2h0M64.8 820.6h0M106.5 822.3h0M99.0 779.0h0M55.0 757.0h0M77.4 802.7h0M52.1 810.5h0M101.9 750.0h0M101.5 770.2h0M67.3 805.0h0M48.2 785.0h0M73.0 771.1h0M77.0 831.7h0M53.1 804.1h0M104.9 781.0h0M57.2 777.1h0M57.2 817.6h0M90.7 746.2h0M87.3 800.8h0M59.3 811.5h0M95.4 778.2h0M96.8 748.7h0M102.0 830.2h0" stroke="#6c6c6c" stroke-width="1.8" stroke-linecap="round"/><path d="M88.7 835.2h0M104.6 750.6h0M106.6 773.5h0M53.4 765.5h0M98.6 824.2h0M95.3 815.5h0M97.9 741.9h0M86.9 837.5h0M109.8 799.9h0M50.1 809.2h0M46.9 740.4h0M84.4 756.1h0M82.6 797.1h0M74.2 828.1h0M45.8 777.3h0M107.8 768.0h0M37.5 752.4h0M98.7 793.0h0M103.9 766.4h0M95.2 843.8h0M107.5 790.9h0M78.9 778.5h0M93.8 785.6h0M71.8 833.1h0M82.8 847.5h0M79.4 770.9h0M107.0 814.7h0M84.6 802.3h0M47.5 821.1h0M52.0 826.2h0M51.1 838.5h0M89.7 770.3h0M45.9 759.4h0M61.4 805.5h0M38.9 741.3h0M109.7 841.7h0M95.8 801.9h0M41.9 766.3h0M98.9 753.4h0M70.2 787.1h0M87.7 833.7h0M55.4 743.4h0M41.2 753.7h0M81.9 793.3h0M86.3 763.7h0M71.3 776.6h0M50.6 795.5h0M75.7 836.1h0M62.6 812.3h0M80.4 801.3h0M39.9 777.3h0M40.4 778.3h0M96.4 800.0h0M102.5 787.2h0M62.0 838.3h0M83.3 755.6h0M88.9 838.7h0M53.1 783.2h0M107.6 810.4h0M98.2 815.9h0M66.4 811.6h0M52.7 762.4h0M90.7 790.7h0M66.1 743.0h0M49.7 793.8h0M55.4 844.4h0M103.5 758.2h0M86.0 821.7h0M98.0 824.2h0M75.1 828.3h0M98.0 814.0h0M47.4 819.0h0M89.4 781.2h0M85.3 776.8h0M37.8 785.0h0M73.4 777.4h0M62.9 819.1h0M49.2 747.4h0M105.9 765.8h0M57.0 830.6h0M54.6 802.5h0M63.0 767.3h0M84.9 811.2h0M107.5 780.2h0M56.4 758.2h0M83.4 760.1h0M56.5 748.6h0M86.2 821.6h0M80.8 813.7h0M102.4 743.9h0M50.2 801.9h0M90.6 802.7h0M73.5 755.2h0M104.2 807.5h0M106.9 779.7h0M102.8 802.3h0M79.9 839.2h0M97.1 801.1h0M94.7 750.1h0M107.8 782.3h0M80.4 843.1h0M103.1 835.1h0M108.3 800.8h0M38.2 753.2h0M44.2 770.1h0M58.1 744.2h0M106.6 751.0h0M69.9 760.5h0M60.7 818.9h0M38.8 788.5h0M77.3 770.1h0M98.5 841.4h0M60.8 765.7h0M48.9 754.1h0M109.2 842.4h0M63.2 751.6h0M94.1 844.5h0M62.1 753.3h0M101.3 741.3h0M91.2 837.9h0M70.0 846.6h0M62.4 743.3h0M90.1 740.7h0M54.7 812.2h0M80.0 847.3h0M42.9 747.2h0M37.1 777.1h0M85.3 839.3h0M108.0 751.9h0M98.4 766.2h0M75.0 783.9h0M53.3 763.2h0M93.5 745.5h0M72.3 845.3h0M61.5 835.4h0M54.2 834.2h0M45.7 842.9h0M65.9 834.7h0M98.5 800.9h0M76.8 814.1h0M84.9 839.9h0M70.1 741.2h0M67.2 825.6h0M51.7 797.3h0M48.7 769.3h0M54.7 777.5h0M109.7 809.7h0M98.9 793.9h0M64.2 841.8h0" stroke="#6c6c6c" stroke-width="2.5" stroke-linecap="round"/><path d="M85.3 802.7h0M106.0 803.8h0M62.0 775.0h0M59.8 782.1h0M54.6 787.2h0M38.1 789.0h0M94.5 827.1h0M46.6 841.7h0M70.0 846.0h0M41.5 771.5h0M47.8 821.2h0M84.7 770.6h0M87.4 755.1h0M101.9 814.3h0M80.8 754.2h0M42.1 791.2h0M56.1 842.1h0M107.9 754.0h0M101.8 843.1h0M90.8 797.2h0M63.5 833.6h0M96.6 835.3h0M49.1 845.9h0M52.2 759.0h0M108.9 812.4h0M79.0 748.0h0M95.8 802.2h0M102.2 827.2h0M89.1 798.1h0M84.3 843.4h0M83.3 839.6h0M49.1 808.1h0M101.7 800.9h0M56.4 773.1h0M79.8 825.5h0M73.5 835.9h0M60.7 804.9h0M67.6 752.0h0M101.8 774.8h0M83.7 746.5h0M79.8 827.0h0M51.0 785.8h0M77.2 742.0h0M63.8 770.5h0M100.2 763.4h0M92.9 779.5h0M105.5 812.8h0M84.9 787.6h0M49.5 753.5h0M65.0 740.3h0M43.1 785.3h0M108.2 787.4h0M91.9 798.4h0M49.7 805.8h0M103.4 762.7h0M47.7 795.5h0M85.0 742.4h0M60.4 821.7h0M61.5 784.3h0M80.6 768.0h0M95.0 807.2h0M56.4 845.6h0M78.6 783.4h0M66.1 823.0h0M72.2 803.9h0M72.9 744.2h0M103.6 766.1h0M48.6 843.9h0M71.1 837.4h0M72.9 766.9h0M68.5 836.1h0M105.7 824.2h0M79.7 806.1h0M68.0 832.2h0M64.7 761.6h0M105.0 804.3h0M48.1 795.5h0M95.3 791.0h0M63.5 834.8h0M50.6 787.2h0M105.0 808.7h0M39.1 773.8h0M107.3 826.5h0M71.5 821.7h0M85.1 790.8h0M95.8 844.7h0M89.9 843.5h0M46.1 785.5h0M61.6 809.1h0M71.4 743.6h0M98.4 793.1h0M59.9 822.1h0M99.4 756.0h0M68.1 798.7h0M100.5 813.4h0M65.8 831.6h0M108.3 767.1h0M55.2 761.0h0M97.1 788.3h0M64.9 786.9h0M95.5 770.8h0M81.2 804.5h0M108.0 780.3h0M57.9 812.3h0M66.5 847.9h0M53.6 817.2h0M81.2 802.1h0M69.9 808.5h0M55.4 803.2h0M74.2 743.9h0M80.6 793.3h0M92.2 795.5h0M108.5 780.7h0M37.3 770.9h0M96.5 753.7h0M42.6 787.4h0M97.2 844.9h0M44.0 756.1h0M86.6 746.4h0M83.4 794.4h0M53.3 812.1h0M42.0 765.9h0M98.7 751.0h0M40.7 775.1h0M55.9 789.0h0M85.9 754.0h0M78.9 803.3h0M51.8 789.3h0M83.1 837.9h0M55.4 800.7h0M37.5 768.7h0M49.8 753.2h0M65.5 811.5h0M88.1 798.1h0M85.0 777.7h0M100.2 825.7h0M79.5 772.8h0M66.2 754.5h0M62.3 844.2h0M76.7 774.4h0M54.6 753.8h0" stroke="#848484" stroke-width="1.8" stroke-linecap="round"/><path d="M57.1 799.4h0M76.3 837.1h0M94.3 773.3h0M54.2 746.9h0M46.1 806.4h0M39.5 767.5h0M94.0 755.7h0M88.2 834.2h0M51.1 834.4h0M78.4 795.1h0M68.3 804.6h0M97.2 768.8h0M90.0 822.8h0M99.7 761.4h0M85.2 834.6h0M42.5 761.5h0M62.1 810.6h0M70.4 842.0h0M45.9 740.9h0M64.7 761.0h0M92.1 753.4h0M104.2 769.2h0M60.0 775.0h0M80.0 757.1h0M74.6 829.7h0M57.4 798.6h0M75.0 769.8h0M86.2 830.2h0M90.9 823.3h0M106.3 821.5h0M39.0 778.1h0M68.9 841.0h0M86.7 787.3h0M53.0 846.3h0M46.0 817.8h0M66.1 744.5h0M95.2 826.9h0M72.8 827.3h0M95.7 795.1h0M40.8 781.4h0M64.1 837.7h0M81.2 844.7h0M50.3 811.2h0M60.4 769.2h0M56.3 802.5h0M105.7 787.1h0M86.4 764.5h0M68.7 824.7h0M55.0 773.7h0M72.4 805.3h0M87.7 829.0h0M69.9 813.0h0M61.9 755.0h0M107.0 742.5h0M40.5 763.0h0M100.0 795.1h0M80.2 753.2h0M50.5 752.3h0M83.8 754.8h0M95.5 838.1h0M86.6 827.9h0M55.1 746.9h0M65.9 815.9h0M51.4 742.3h0M64.7 777.1h0M94.0 828.3h0M73.8 812.0h0M98.1 802.5h0M101.7 745.5h0M77.6 843.2h0M84.3 824.1h0M97.4 823.3h0M90.9 818.3h0M82.4 770.3h0M107.1 791.2h0M39.1 752.0h0M108.2 773.3h0M72.4 824.5h0M89.3 760.6h0M94.6 800.6h0M103.7 827.8h0M106.6 753.5h0M57.7 780.4h0M79.3 814.7h0M52.1 745.3h0M78.6 784.3h0M87.2 816.6h0M63.7 809.4h0M47.8 749.0h0M61.2 842.4h0M94.3 810.1h0M73.4 838.6h0M101.3 831.0h0M108.3 825.0h0M72.9 775.3h0M73.8 794.0h0M76.6 749.4h0M99.8 800.0h0M79.0 750.5h0M89.9 833.0h0M95.0 829.4h0M80.6 751.0h0M62.2 745.0h0M51.3 809.1h0M90.3 778.4h0M69.8 816.9h0M91.0 769.2h0M86.7 763.0h0M75.8 814.2h0M83.0 759.3h0M64.1 750.5h0M64.8 784.7h0M107.9 821.5h0M103.4 831.8h0M80.3 809.3h0M52.4 814.7h0M58.3 810.5h0M109.6 790.4h0M78.8 802.8h0M80.4 742.5h0M63.7 764.9h0M57.4 759.3h0M94.7 768.2h0M82.2 820.4h0M67.5 776.1h0M43.2 756.4h0M68.3 823.1h0M39.3 758.3h0M62.8 772.7h0M65.8 809.0h0M68.3 811.6h0M104.6 803.5h0M98.7 835.8h0M37.4 741.9h0M74.3 833.1h0M76.9 811.7h0M80.0 744.4h0M73.3 815.0h0M100.8 822.9h0M105.6 765.8h0" stroke="#848484" stroke-width="2.5" stroke-linecap="round"/><path d="M52.5 755.2h0M54.1 751.7h0M71.3 758.8h0M85.1 761.9h0M53.1 796.7h0M70.9 807.7h0M61.3 749.7h0M44.8 769.9h0M81.6 801.0h0M49.1 789.7h0M87.9 780.5h0M68.1 764.4h0M100.1 781.6h0M57.6 791.8h0M65.2 794.8h0M53.6 762.1h0M80.9 754.8h0M70.3 796.5h0M46.8 788.6h0M89.0 748.1h0M43.6 772.8h0M51.0 784.7h0M57.3 786.0h0M64.1 794.5h0M66.2 795.9h0M49.6 758.8h0M69.4 775.8h0M54.0 756.9h0M57.5 765.1h0M71.4 770.9h0M70.4 745.9h0M60.9 745.2h0M56.0 766.4h0M78.1 758.0h0M61.9 767.9h0M70.1 800.7h0M82.9 752.3h0M91.7 780.3h0M80.8 786.9h0M56.6 779.0h0M54.3 797.0h0M80.3 775.9h0M83.0 771.0h0M92.2 794.5h0M49.0 758.8h0M48.6 757.4h0M62.7 785.6h0M71.6 764.3h0M65.9 785.5h0M82.8 796.9h0M46.9 765.7h0M57.8 772.5h0M97.7 766.6h0M96.1 788.0h0M72.4 786.6h0M73.4 802.0h0M48.4 767.2h0M60.4 758.6h0" stroke="#9c9c9c" stroke-width="1.8" stroke-linecap="round"/><path d="M51.1 766.7h0M54.0 782.1h0M65.6 799.9h0M88.8 764.5h0M91.2 759.8h0M69.0 802.0h0M91.1 796.2h0M74.0 769.9h0M75.3 776.6h0M88.6 752.9h0M67.7 751.9h0M69.5 806.2h0M71.2 803.1h0M89.8 767.7h0M78.1 744.6h0M83.8 803.6h0M87.8 754.8h0M85.5 798.3h0M96.6 770.5h0M52.5 778.6h0M46.3 770.8h0M88.0 768.9h0M53.9 793.0h0M91.6 788.5h0M77.2 788.8h0M76.6 768.1h0M57.1 780.2h0M86.9 763.7h0M94.0 777.1h0M84.2 745.7h0M55.5 803.3h0M62.3 774.0h0M58.5 795.6h0M65.6 753.0h0M74.0 775.8h0M86.9 761.7h0M65.6 743.1h0M40.5 774.2h0M87.7 749.2h0" stroke="#9c9c9c" stroke-width="2.5" stroke-linecap="round"/><path d="M92.0 761.7h0M71.4 797.2h0M94.7 773.9h0M73.1 756.0h0M69.9 782.9h0M79.5 758.3h0M91.0 767.5h0M89.9 791.2h0M63.5 789.6h0M53.9 786.1h0M71.2 763.1h0M55.9 798.2h0M90.1 778.6h0M80.7 802.7h0M87.1 779.1h0M88.4 766.0h0M56.8 770.6h0M85.9 753.0h0M54.7 773.2h0M74.0 783.6h0M77.8 773.0h0M87.1 771.9h0M86.7 790.9h0M63.2 760.5h0M84.0 770.2h0M92.6 782.2h0" stroke="#b4b4b4" stroke-width="1.8" stroke-linecap="round"/><path d="M63.4 764.3h0M80.3 792.5h0M81.2 768.7h0M67.3 774.0h0M90.5 795.3h0M67.4 761.7h0M77.9 801.5h0M14.1 816.8h0M79.0 785.0h0M66.2 790.8h0M58.2 758.7h0M89.1 783.0h0M55.5 778.2h0M55.1 773.8h0M77.8 782.5h0M89.1 776.5h0M72.8 749.0h0M81.6 761.1h0M83.2 771.2h0M57.1 763.0h0M93.7 769.7h0M78.3 759.3h0M58.1 760.6h0M86.0 780.2h0M49.6 783.1h0M86.3 773.2h0" stroke="#b4b4b4" stroke-width="2.5" stroke-linecap="round"/><path d="M86.5 792.2h0M88.3 828.8h0M91.1 796.2h0M91.1 770.1h0M18.5 826.9h0M33.1 814.8h0M89.6 826.0h0M24.2 817.8h0M77.8 781.6h0M100.3 741.3h0M36.2 785.0h0M99.0 741.5h0M75.7 792.4h0M88.9 816.2h0M38.4 749.4h0M71.3 748.1h0M66.7 766.1h0M77.1 758.6h0M22.1 780.3h0M11.8 816.2h0M78.8 772.6h0M64.9 788.3h0M6.2 835.5h0M92.2 756.5h0M75.4 790.5h0M63.5 846.1h0M78.1 771.9h0M87.7 777.6h0M98.7 835.1h0M32.8 840.0h0M20.2 820.2h0M83.6 762.7h0M56.8 779.8h0M84.0 819.4h0M80.4 767.2h0M68.6 793.0h0M98.3 745.1h0" stroke="#cccccc" stroke-width="1.8" stroke-linecap="round"/><path d="M87.1 762.5h0M101.0 786.0h0M66.1 780.1h0M82.1 787.5h0M13.3 783.2h0M100.3 838.9h0M90.6 831.2h0M90.5 765.8h0M58.9 772.0h0M95.0 781.6h0M83.0 782.6h0M48.1 839.2h0M92.1 788.1h0M67.3 768.1h0M50.9 747.9h0M41.7 846.6h0M58.0 782.9h0M38.6 759.0h0M91.1 768.9h0M19.4 750.3h0M71.5 783.1h0M38.9 745.8h0M46.0 825.5h0M105.6 826.3h0M22.2 846.8h0" stroke="#cccccc" stroke-width="2.5" stroke-linecap="round"/><path d="M85.0 788.4h0M90.3 841.0h0M69.2 815.6h0M66.4 769.1h0M91.2 760.6h0M105.8 837.6h0M49.3 794.2h0M94.1 783.5h0M97.5 765.5h0M28.4 741.6h0M76.5 783.7h0M42.1 771.7h0M61.1 749.4h0M46.6 760.0h0M33.6 764.2h0M100.3 753.2h0M65.2 817.2h0M59.2 759.4h0M43.6 761.0h0M12.0 750.5h0M75.2 803.5h0M77.1 779.3h0M56.9 823.5h0M20.4 772.8h0M21.5 848.0h0M31.6 753.3h0M80.4 803.9h0" stroke="#e4e4e4" stroke-width="1.8" stroke-linecap="round"/><path d="M7.1 814.0h0M90.8 779.1h0M101.0 778.6h0M75.4 817.9h0M85.1 779.6h0M51.5 797.4h0M78.2 786.7h0M13.9 828.8h0M99.7 765.9h0M66.8 756.6h0M71.3 791.7h0M53.4 771.4h0M107.4 758.5h0M107.5 762.2h0M49.4 833.8h0M86.4 773.5h0M81.5 839.6h0M61.3 829.5h0M77.1 769.6h0M89.1 839.2h0M68.2 769.3h0M22.6 842.4h0M53.1 752.8h0" stroke="#e4e4e4" stroke-width="2.5" stroke-linecap="round"/><path d="M8.1 749.3h0M63.3 750.8h0M71.3 774.5h0M82.4 814.2h0M56.7 767.8h0M7.1 813.7h0M42.2 824.6h0M95.4 754.5h0M108.9 793.2h0" stroke="#fcfcfc" stroke-width="1.8" stroke-linecap="round"/><path d="M71.4 749.4h0M94.6 754.0h0M98.5 755.0h0M104.4 810.7h0M85.8 773.8h0M52.4 791.1h0M38.0 756.7h0M93.6 753.3h0" stroke="#fcfcfc" stroke-width="2.5" stroke-linecap="round"/></g>
<rect x="115.5" y="740.1" width="103.5" height="107.7" fill="#010204"/>
<g clip-path="url(#c2)"><path d="M186.4 745.0h0M199.4 757.6h0M211.5 739.1h0M189.6 756.9h0M203.5 750.4h0M207.3 740.5h0M196.0 764.7h0M200.7 754.0h0M203.3 746.7h0M197.2 740.2h0M209.5 747.4h0M195.9 749.4h0M225.9 794.3h0M210.3 778.5h0M205.2 790.2h0M215.9 784.4h0M209.8 773.4h0M206.7 782.8h0M223.1 781.1h0M218.9 777.8h0M210.4 782.6h0M141.9 777.0h0M138.0 775.7h0M138.7 785.8h0M129.1 794.6h0M144.3 785.6h0M135.5 789.5h0M138.3 792.0h0M138.7 784.7h0M132.3 780.3h0M140.1 792.6h0M128.9 774.5h0M130.8 768.1h0M127.5 773.3h0M132.5 776.3h0M133.8 769.5h0M137.5 766.5h0M130.4 776.8h0M141.9 773.8h0M148.5 840.6h0M146.5 831.3h0M138.0 831.7h0M170.5 821.3h0M152.6 832.0h0M143.1 825.8h0M154.4 834.0h0M139.9 838.2h0M151.9 842.7h0M146.6 843.1h0M137.1 824.2h0M144.8 835.1h0M148.3 819.8h0M210.3 831.2h0M192.1 822.7h0M193.1 834.6h0M208.3 831.7h0M210.3 830.9h0M217.9 831.7h0M193.4 846.2h0M221.1 851.4h0M200.1 815.6h0M192.9 828.6h0M193.3 817.1h0M186.2 764.1h0M179.5 755.7h0M173.8 763.7h0M183.3 758.6h0M183.3 760.5h0M179.3 760.5h0M183.0 762.8h0M176.7 766.5h0M195.3 812.2h0M178.9 806.4h0M190.6 806.9h0M192.8 809.7h0M182.1 816.2h0M187.4 816.0h0M186.5 808.6h0M195.0 804.7h0M134.4 833.6h0M127.1 843.9h0M214.9 799.9h0M209.4 803.8h0M211.2 799.7h0M219.3 803.7h0M212.6 800.7h0M166.6 825.5h0M174.7 822.0h0M178.0 822.9h0M163.9 742.4h0M156.9 743.3h0M163.3 746.8h0M159.0 744.4h0M165.5 745.5h0M170.6 834.8h0M181.3 846.0h0M173.0 838.8h0" stroke="#379ed7" stroke-width="2.4" stroke-linecap="round"/><path d="M189.6 756.0h0M183.0 761.9h0M187.6 744.4h0M198.6 752.6h0M187.7 758.6h0M208.6 754.0h0M191.7 776.4h0M200.3 771.7h0M222.7 783.4h0M211.4 776.5h0M210.7 795.7h0M200.6 758.9h0M208.2 780.5h0M210.2 771.4h0M130.9 792.7h0M132.0 799.2h0M138.0 788.8h0M133.8 781.8h0M134.4 801.1h0M125.8 769.7h0M125.6 769.6h0M126.7 768.8h0M133.9 779.7h0M130.4 765.6h0M132.1 770.8h0M168.4 841.1h0M149.4 825.2h0M150.5 836.7h0M145.5 825.9h0M128.8 850.8h0M137.4 835.8h0M196.5 849.1h0M197.4 825.6h0M206.4 819.7h0M213.4 817.9h0M186.5 831.6h0M210.5 847.0h0M203.4 839.1h0M171.7 758.5h0M173.3 750.9h0M169.1 759.6h0M183.2 761.6h0M184.6 800.1h0M180.9 801.4h0M186.7 812.0h0M130.8 847.2h0M120.7 850.7h0M117.9 838.5h0M132.8 843.1h0M124.4 845.0h0M211.1 803.1h0M216.2 807.2h0M220.0 804.7h0M213.1 800.1h0M166.4 821.7h0M174.5 815.5h0M171.5 833.5h0M172.5 826.7h0M155.7 748.0h0M157.3 742.5h0M159.5 756.6h0M177.3 841.7h0M175.3 831.9h0M167.8 833.6h0M169.1 839.6h0M178.6 841.5h0M178.6 840.2h0" stroke="#2e86b6" stroke-width="2.4" stroke-linecap="round"/><path d="M204.8 735.8h0M207.6 751.8h0M194.6 750.3h0M211.0 763.1h0M202.8 749.8h0M209.7 754.8h0M204.1 750.7h0M205.5 744.9h0M203.0 752.0h0M203.6 777.3h0M203.8 786.5h0M202.7 783.2h0M205.5 769.3h0M215.9 778.7h0M136.7 797.2h0M144.0 787.0h0M129.1 783.1h0M139.0 770.9h0M142.8 790.3h0M144.6 787.7h0M131.7 785.9h0M140.5 776.1h0M146.8 794.8h0M130.9 782.0h0M130.5 760.4h0M129.6 769.6h0M128.1 771.0h0M143.7 842.1h0M147.9 827.4h0M151.1 838.0h0M159.8 844.9h0M140.7 822.9h0M139.7 822.2h0M148.4 828.4h0M136.7 822.4h0M147.2 835.9h0M154.3 850.9h0M201.1 811.4h0M194.9 842.2h0M195.9 826.7h0M212.1 846.2h0M200.3 829.0h0M191.5 825.8h0M198.8 837.4h0M184.9 845.5h0M182.1 757.9h0M173.4 761.6h0M185.9 809.1h0M186.9 801.4h0M184.8 801.1h0M200.4 809.5h0M178.1 802.4h0M191.9 796.9h0M130.0 837.5h0M134.9 845.3h0M120.3 839.6h0M127.9 838.6h0M119.7 837.0h0M124.8 832.9h0M217.0 803.1h0M172.3 835.1h0M169.5 823.8h0M176.9 821.6h0M170.2 817.0h0M171.0 819.4h0M174.4 818.9h0M161.2 748.8h0M163.4 738.8h0M181.0 839.4h0M176.7 847.0h0M178.2 839.7h0M173.9 841.2h0" stroke="#266e96" stroke-width="2.4" stroke-linecap="round"/><path d="M218.8 750.0h0M194.5 757.9h0M203.4 765.8h0M200.1 749.9h0M205.0 742.8h0M190.1 750.6h0M201.2 743.4h0M191.2 753.3h0M198.7 749.2h0M194.7 773.7h0M211.9 777.9h0M228.5 777.9h0M210.7 781.1h0M204.5 773.4h0M130.6 792.7h0M127.1 790.9h0M131.4 798.7h0M140.2 794.5h0M129.2 788.1h0M135.5 775.9h0M123.5 780.3h0M127.5 769.0h0M131.0 761.5h0M151.3 825.0h0M157.9 846.4h0M166.2 826.9h0M139.5 824.6h0M142.9 828.5h0M154.1 811.0h0M145.6 829.0h0M206.9 822.2h0M189.3 837.9h0M220.8 838.3h0M202.7 841.2h0M206.1 826.8h0M199.3 832.5h0M212.7 843.3h0M182.1 763.9h0M189.3 757.7h0M167.4 755.0h0M179.2 759.7h0M175.1 763.8h0M178.3 756.9h0M188.1 758.7h0M190.8 797.9h0M192.6 803.4h0M188.6 806.7h0M191.7 815.5h0M124.6 848.8h0M125.6 840.3h0M125.5 842.1h0M125.0 843.8h0M114.7 838.7h0M215.1 807.3h0M213.7 807.5h0M215.3 801.7h0M216.0 808.0h0M218.3 799.3h0M173.0 824.4h0M171.6 818.9h0M168.7 829.0h0M163.1 825.8h0M174.1 824.1h0M153.6 751.3h0M166.3 748.9h0M164.0 739.1h0M162.1 739.0h0M163.3 744.3h0M175.2 837.1h0M184.4 841.7h0M171.4 832.1h0M173.0 839.6h0M175.1 843.0h0" stroke="#1e5676" stroke-width="2.4" stroke-linecap="round"/><path d="M119.7 846.8h0M164.3 838.8h0M200.1 830.0h0M206.0 817.1h0M196.0 775.0h0M207.9 741.4h0M197.6 839.4h0M186.9 760.8h0M162.6 806.5h0M131.7 810.7h0M158.2 846.5h0M128.7 772.8h0M194.1 783.4h0M183.1 741.0h0M190.1 750.5h0M134.3 829.8h0M198.6 762.7h0M170.0 815.2h0M131.4 796.3h0M173.4 775.6h0M128.9 747.7h0M166.7 753.9h0M179.0 820.7h0M183.6 762.1h0M200.0 783.3h0M213.0 794.9h0M210.1 755.6h0M154.6 840.1h0M219.0 831.1h0M176.5 765.9h0M147.0 760.9h0M182.1 810.3h0M155.6 830.4h0M160.0 814.4h0M201.1 796.7h0M217.8 806.2h0M133.3 843.1h0M170.7 840.8h0M186.9 793.7h0M203.8 796.2h0M183.5 811.2h0M182.7 822.5h0M182.4 750.3h0M187.3 771.3h0M212.4 758.0h0M136.6 800.8h0M176.5 803.0h0M128.9 790.0h0M199.7 814.3h0M170.3 774.1h0M152.7 758.5h0M203.9 775.0h0M171.0 803.2h0M172.9 811.1h0M216.1 792.3h0M189.3 838.4h0M136.6 792.5h0M192.1 804.4h0M135.7 747.3h0M129.4 827.5h0M128.2 810.8h0M116.3 788.6h0M214.8 784.1h0M160.9 831.0h0M191.7 755.7h0M124.7 758.1h0M146.5 835.8h0M140.8 799.8h0M208.8 836.8h0M170.6 799.9h0M124.6 795.6h0M184.6 813.2h0M213.4 802.1h0M188.6 751.2h0M169.7 765.6h0M158.7 808.3h0M148.5 830.2h0M184.4 753.9h0M190.3 745.1h0M124.3 845.7h0" stroke="#123a52" stroke-width="1.6" stroke-linecap="round"/></g>
<rect x="224.8" y="740.1" width="103.2" height="107.7" fill="#aca50a"/>
<filter id="sf"><feGaussianBlur stdDeviation="0.45"/></filter>
<filter id="bf" x="-20%" y="-20%" width="140%" height="140%"><feGaussianBlur stdDeviation="0.9"/></filter>
<g clip-path="url(#c3)"><path d="M317.5 834.9h0M255.0 763.4h0M228.9 822.7h0M260.1 774.9h0M271.2 837.1h0M315.0 768.6h0M237.9 775.2h0M317.1 776.3h0M311.9 839.2h0M292.3 809.6h0M268.6 757.7h0M243.5 826.3h0M231.3 785.7h0M227.3 818.1h0M245.4 751.4h0M247.3 799.0h0M308.7 747.8h0M235.9 836.0h0M287.9 771.9h0M310.3 780.5h0M280.8 757.1h0M257.1 779.3h0M307.2 802.2h0M253.3 753.5h0M311.6 760.7h0M313.8 770.7h0M306.6 788.1h0M237.8 807.2h0M277.7 744.6h0M279.2 798.3h0M253.5 765.7h0M305.1 827.5h0M317.5 772.2h0M275.8 765.3h0M225.9 841.7h0M243.0 840.5h0M290.3 812.0h0M270.2 792.8h0M306.1 822.1h0M304.5 775.4h0M295.4 777.7h0M286.2 751.8h0M321.2 801.5h0M250.2 753.6h0M262.8 835.5h0M238.4 764.7h0M314.8 758.7h0M315.4 754.0h0M316.0 809.3h0M230.4 833.8h0M264.7 782.7h0M265.5 844.0h0M302.4 773.0h0M311.7 821.1h0M320.2 824.2h0M310.9 780.1h0M292.9 773.3h0M306.7 799.6h0M263.6 842.2h0M312.8 770.8h0M247.5 832.4h0M283.6 748.8h0M327.4 771.5h0M241.5 812.1h0M282.7 765.4h0M320.7 749.7h0M297.2 743.5h0M272.1 823.7h0M227.8 809.7h0M253.2 803.1h0M227.7 763.5h0M312.6 771.3h0M264.1 814.6h0M231.8 823.7h0M243.3 758.0h0M226.9 832.7h0M229.9 751.4h0M236.7 763.3h0M242.7 834.9h0M257.3 808.5h0M317.3 818.9h0M251.7 847.2h0M300.3 777.2h0M227.6 812.2h0M300.8 749.2h0M280.8 740.5h0M266.1 815.6h0M233.2 812.8h0M264.4 822.0h0M275.3 743.9h0M243.3 801.4h0M243.8 831.3h0M272.3 836.8h0M252.6 819.3h0M293.6 842.3h0M282.1 758.0h0M288.7 778.7h0M318.9 830.1h0M266.0 788.9h0M304.3 786.0h0M314.6 786.0h0M302.1 782.8h0M250.2 797.1h0M262.7 831.0h0M294.0 779.0h0M317.5 757.7h0M244.6 746.4h0M257.1 801.4h0M225.8 820.6h0M314.5 750.8h0M296.3 845.1h0M235.9 810.8h0M283.9 834.8h0M256.1 824.4h0M243.6 760.6h0M235.4 811.7h0M236.4 814.9h0M287.2 847.5h0M321.7 800.9h0M249.5 817.8h0M246.3 804.7h0M299.3 762.4h0M269.0 839.7h0M284.2 756.5h0M296.9 828.1h0M228.4 806.5h0M247.8 791.8h0M310.9 836.7h0M306.0 761.0h0M267.9 841.1h0M274.5 790.6h0M308.2 774.2h0M261.2 773.6h0M295.0 812.6h0M230.8 808.7h0M319.9 774.1h0M305.0 757.3h0M243.6 804.2h0M271.5 791.2h0M313.6 743.9h0M311.9 754.2h0M277.7 838.4h0M266.8 778.9h0M252.9 814.1h0M250.9 834.1h0M327.8 750.0h0M308.0 752.1h0M236.9 800.9h0M317.6 740.7h0M296.1 782.4h0M312.7 760.6h0M324.0 797.0h0M264.3 809.4h0M264.7 757.5h0M299.2 814.1h0M236.7 814.6h0M281.4 843.8h0M248.8 744.1h0M319.8 823.9h0M301.0 769.5h0M297.6 776.4h0" stroke="#d6ce22" stroke-width="7.2" stroke-linecap="round" stroke-opacity="0.35"/><g filter="url(#sf)"><path d="M243.8 757.3h0M296.0 811.0h0M278.0 817.9h0M266.4 832.3h0M321.2 820.6h0M323.8 792.7h0M276.6 800.4h0M249.7 847.6h0M326.8 819.3h0M321.3 815.8h0M314.9 792.4h0M303.6 747.0h0M308.9 784.0h0M279.5 830.2h0M273.9 778.0h0M319.0 808.8h0M275.2 817.6h0M285.5 800.8h0M263.4 777.8h0M309.6 809.8h0M235.7 786.5h0M243.4 813.4h0M291.9 840.0h0M303.6 765.2h0M323.8 773.8h0M260.4 814.1h0M228.8 749.5h0M303.4 801.1h0M318.0 782.4h0M320.9 762.3h0M298.4 844.6h0M302.6 828.3h0M226.3 769.3h0M283.0 747.0h0M226.5 749.6h0M292.9 813.2h0M260.7 751.6h0M262.5 746.9h0M327.9 836.5h0M275.2 778.9h0M240.0 778.8h0M264.4 758.7h0M250.0 838.3h0M267.7 755.5h0M309.8 796.7h0M277.8 815.7h0M274.1 843.4h0M249.2 845.0h0M288.8 836.1h0M286.4 773.8h0M321.9 782.4h0M263.4 783.1h0M291.0 839.9h0M260.3 745.5h0M230.0 817.5h0M234.4 802.2h0M305.0 759.3h0M257.2 746.1h0M237.1 845.2h0M326.0 782.7h0M320.6 838.7h0M297.5 748.5h0M247.9 826.6h0M317.0 793.0h0M267.3 773.4h0M289.3 809.0h0M230.0 847.5h0M303.7 799.5h0M302.1 753.1h0M257.9 781.4h0M321.5 810.2h0M325.0 750.1h0M290.9 767.4h0M302.1 808.7h0M301.7 790.4h0M318.3 846.7h0M227.7 765.5h0M252.3 816.7h0M304.4 822.5h0M262.8 829.8h0M250.2 758.4h0M311.8 761.2h0M296.1 809.6h0M323.5 760.5h0M327.6 782.9h0M245.5 740.8h0M315.0 816.4h0M260.3 818.2h0M297.2 800.6h0M287.7 821.6h0M269.6 745.2h0M226.0 790.7h0M323.0 771.7h0M319.5 829.2h0M260.1 763.0h0M326.6 743.5h0M236.6 759.3h0M285.8 759.5h0M318.5 765.1h0M283.1 810.4h0M291.1 766.1h0M272.1 789.7h0M239.1 777.4h0M227.7 839.2h0M312.8 740.3h0M298.0 756.8h0M292.1 837.1h0M321.3 821.4h0M306.5 740.7h0M327.8 762.5h0M268.9 774.5h0M238.8 791.4h0M285.6 786.6h0M285.1 814.1h0M276.9 845.0h0M293.3 741.9h0M315.3 823.0h0M232.0 777.4h0M302.8 799.9h0M250.3 762.7h0M241.4 763.9h0M250.0 769.2h0M233.8 810.9h0M276.6 845.4h0M286.5 837.9h0M296.5 778.5h0M311.7 800.0h0M325.1 797.7h0M278.9 774.7h0M229.8 761.8h0M251.8 798.1h0M263.5 782.9h0M324.5 775.9h0M225.8 772.7h0M228.8 803.2h0M320.5 792.9h0M237.0 752.9h0M239.4 840.7h0M233.3 779.5h0M245.9 792.0h0M286.9 810.9h0M256.6 770.3h0M261.4 787.0h0M308.1 819.5h0M323.5 826.7h0M305.0 747.4h0M249.8 803.3h0M303.9 776.8h0M250.5 797.4h0M314.1 777.6h0M325.2 821.7h0M311.9 778.6h0M228.8 765.4h0M227.1 836.1h0M249.2 814.8h0M326.9 802.4h0M270.7 806.3h0M273.4 825.2h0M327.1 767.0h0M316.3 746.3h0M274.9 766.2h0M269.5 847.3h0M279.4 809.9h0M296.8 741.7h0M289.8 776.1h0M277.4 783.3h0M251.7 828.1h0M326.0 824.1h0M321.0 836.0h0M229.3 826.2h0M299.1 791.8h0M238.2 833.3h0M230.9 798.1h0M267.5 790.6h0M326.0 824.2h0M288.4 752.8h0M319.0 839.8h0M250.9 827.3h0M258.0 799.3h0M270.2 832.2h0M266.0 831.8h0M305.0 807.5h0M278.7 771.9h0M233.7 789.4h0M228.1 741.1h0M272.7 819.2h0M276.7 841.3h0M263.3 825.8h0M250.3 845.7h0M247.6 746.7h0M263.9 775.1h0M252.7 772.2h0M282.9 845.0h0M290.2 742.7h0M257.4 803.4h0M230.4 827.8h0M254.2 781.6h0M259.4 768.2h0M260.8 799.4h0M289.6 746.7h0M225.7 796.6h0M301.0 844.3h0M292.6 769.2h0M270.4 806.4h0M271.5 792.3h0M310.7 820.4h0M279.2 824.8h0M270.3 741.5h0M245.0 765.3h0M245.9 770.5h0M293.0 817.4h0M253.9 803.8h0M233.4 792.9h0M268.1 785.8h0M298.4 834.5h0M249.2 847.9h0M324.3 830.2h0M291.5 748.3h0M242.8 823.5h0M260.2 781.9h0M316.9 779.1h0M244.8 824.7h0M275.4 803.9h0M242.3 791.2h0M323.4 840.6h0M255.4 762.5h0M312.4 823.9h0M290.3 792.0h0M271.6 830.6h0M320.0 828.0h0M282.5 845.8h0M284.4 779.1h0M278.4 746.3h0M326.9 818.2h0M284.7 769.8h0M230.7 794.9h0M272.1 827.8h0M245.3 773.7h0M233.6 745.1h0M256.8 809.7h0M267.1 842.1h0M256.1 842.9h0M255.8 765.5h0M255.6 771.2h0M230.9 760.0h0M235.4 799.2h0M300.3 742.1h0M318.9 789.9h0M268.8 776.6h0M309.9 753.4h0M266.4 817.7h0M287.7 827.0h0M251.9 793.0h0M237.6 821.7h0M321.5 810.4h0M309.3 807.6h0M275.5 806.9h0M303.8 745.7h0M279.9 840.4h0M295.0 840.3h0M240.1 810.5h0M241.9 844.6h0M321.9 839.5h0M253.3 820.3h0M315.3 774.7h0M280.5 796.9h0M307.0 761.1h0M289.8 808.6h0M326.9 793.4h0M287.9 842.0h0M312.6 828.1h0M270.8 803.1h0M308.0 808.0h0M314.7 826.2h0M316.4 786.4h0M244.0 813.3h0M265.4 752.5h0M275.4 798.1h0M249.7 765.7h0M302.8 798.2h0M277.8 830.0h0M249.8 790.7h0M275.1 750.1h0M246.8 840.3h0M318.0 800.8h0M238.6 824.2h0M250.5 770.6h0M301.6 804.9h0M239.1 837.6h0M295.8 817.2h0M264.1 751.5h0M257.9 782.4h0M282.4 815.4h0M246.0 744.6h0M232.1 792.3h0M293.6 763.0h0M256.0 797.7h0M267.2 815.6h0M226.6 760.7h0M317.5 778.6h0M244.3 774.9h0M306.5 782.7h0M259.4 758.5h0M254.1 818.7h0M306.3 757.1h0M236.9 781.7h0M242.6 793.1h0M243.9 754.6h0M288.4 804.0h0M311.1 771.4h0M297.8 749.9h0M243.7 803.4h0M235.4 838.6h0M284.3 841.8h0M259.1 799.8h0M295.2 803.8h0M262.1 773.6h0M225.6 816.1h0M251.5 753.9h0M284.6 817.8h0M235.5 822.9h0M298.8 743.2h0M240.8 833.3h0M282.6 775.6h0M238.6 794.7h0M247.8 754.3h0M263.9 827.4h0M244.9 768.1h0M242.4 810.2h0M251.5 807.6h0M275.5 759.1h0M288.0 758.8h0M289.6 838.0h0M293.2 842.3h0M299.9 768.1h0M262.8 753.8h0M315.5 790.4h0M246.6 761.1h0M274.7 845.5h0M253.1 828.7h0M229.1 828.7h0M244.3 835.5h0M226.5 786.2h0M244.2 773.9h0M243.3 770.9h0M273.6 841.9h0M314.7 844.2h0M297.2 757.1h0M290.3 747.4h0M261.9 772.2h0M254.2 792.1h0M291.2 776.5h0M240.2 833.6h0M267.2 820.8h0M296.8 778.5h0M248.0 822.4h0M291.8 805.9h0M313.8 846.0h0M289.9 755.3h0M261.2 767.7h0M246.8 748.3h0M296.7 832.1h0M266.1 812.8h0M273.6 808.3h0M304.4 770.8h0M301.7 793.2h0M252.9 777.0h0M237.9 818.6h0M311.5 844.9h0M252.6 818.9h0M234.8 838.4h0M235.1 805.2h0M297.5 839.0h0M230.3 832.5h0M243.4 792.6h0M235.3 813.2h0M237.8 826.2h0M268.0 747.4h0M306.3 774.6h0M270.5 810.0h0M267.4 787.6h0M230.3 845.2h0M278.3 774.0h0M291.5 753.7h0M325.7 745.9h0M249.3 771.7h0M266.1 815.3h0M326.3 760.9h0M236.9 782.5h0M276.0 844.5h0M307.9 777.8h0M259.9 806.7h0M252.4 785.8h0M273.3 790.6h0M254.9 752.6h0M246.0 801.8h0M256.8 768.0h0M317.7 745.0h0M286.0 785.1h0M309.3 808.6h0M312.7 767.3h0M234.8 795.5h0M257.5 751.8h0M295.2 802.4h0M304.1 847.4h0M254.5 845.4h0M275.0 770.0h0M309.8 754.4h0M280.7 778.6h0M327.7 833.9h0M319.0 813.1h0M321.0 840.3h0M322.1 755.3h0M249.9 832.2h0M312.8 818.3h0M241.0 748.7h0M229.3 763.8h0M317.0 839.3h0M298.5 770.1h0M263.1 782.6h0M242.4 810.9h0M326.8 753.4h0M275.8 754.1h0M256.9 755.0h0M312.8 779.7h0M297.6 822.7h0M233.0 843.6h0M288.2 810.6h0M262.2 819.9h0M315.2 754.7h0M251.0 777.4h0M314.9 791.6h0M292.8 755.4h0M264.9 741.6h0M242.8 764.2h0M308.8 791.8h0M233.5 741.5h0M229.2 812.3h0M324.3 812.6h0M228.9 812.9h0M263.2 749.7h0M311.4 743.8h0M236.9 765.2h0M310.3 837.1h0M296.2 821.2h0M319.4 831.1h0M250.6 771.4h0M242.9 782.9h0M240.7 752.8h0M256.2 774.3h0M327.0 744.4h0M230.1 756.8h0M325.1 794.1h0M246.2 796.6h0M324.8 773.0h0M327.0 774.7h0M265.3 812.6h0M309.9 790.5h0M304.4 819.6h0M319.4 827.7h0M293.3 793.4h0M287.3 830.1h0M327.0 848.0h0M307.5 828.8h0M324.0 822.9h0M227.2 797.2h0M240.5 809.7h0M243.0 845.1h0M298.1 747.5h0M231.6 763.7h0M285.4 842.0h0M263.0 832.5h0M271.4 800.5h0M254.6 779.0h0M249.1 847.3h0M242.2 777.6h0M292.9 830.7h0M290.4 846.4h0M261.5 762.2h0M240.9 792.4h0M263.9 833.4h0M228.5 790.4h0M225.9 753.2h0M324.5 771.3h0M298.2 812.1h0M297.2 743.9h0M283.3 801.2h0M270.9 767.5h0M275.5 815.2h0M239.8 753.2h0M314.4 786.2h0M299.0 816.8h0M272.0 755.5h0M285.9 768.2h0M243.5 790.6h0M311.7 775.8h0M298.9 792.8h0M327.5 774.1h0M272.9 765.3h0M327.8 770.4h0M282.3 787.1h0M273.0 760.6h0M305.6 742.8h0M273.7 822.5h0M263.1 792.5h0M308.3 818.2h0M313.2 803.8h0M320.8 845.0h0M252.8 771.2h0M277.6 766.9h0M303.9 799.0h0M228.0 777.3h0M263.0 812.4h0M233.1 817.7h0M269.8 741.2h0M322.3 763.6h0M249.4 778.1h0M320.0 755.4h0M314.9 798.6h0M287.6 743.9h0M279.7 747.2h0M322.2 837.4h0M291.6 807.0h0M302.2 746.1h0M270.1 823.1h0M257.9 785.4h0M310.3 792.1h0M312.0 757.9h0M258.5 835.4h0M271.6 744.5h0M238.9 809.0h0M301.8 793.9h0M324.7 805.0h0M280.7 847.4h0M310.6 805.2h0M253.6 822.5h0M281.6 785.7h0M322.7 834.2h0M254.0 779.3h0M232.5 813.8h0M247.4 793.5h0M306.8 845.6h0M259.7 750.7h0M239.4 778.0h0M325.7 796.7h0M313.7 810.1h0M225.9 750.4h0M264.2 831.3h0M246.4 837.8h0M308.3 821.4h0M327.4 819.6h0M309.2 815.4h0M259.8 793.0h0M311.1 755.6h0M226.1 815.8h0M280.2 811.2h0M232.9 795.0h0M237.2 758.2h0M306.3 800.6h0M239.8 740.4h0M280.7 837.4h0M263.8 749.5h0M256.9 809.5h0M324.5 832.3h0M327.6 757.1h0M269.8 778.5h0M262.6 832.1h0M230.6 819.8h0M289.7 832.8h0M227.9 798.1h0M238.8 811.6h0M228.4 816.1h0M299.1 823.2h0M300.5 791.3h0M309.7 824.7h0M311.0 844.6h0M280.0 842.9h0M266.2 768.2h0M240.0 755.1h0M225.1 796.0h0M272.0 844.8h0M308.7 829.4h0M315.3 843.5h0M248.5 792.6h0M307.3 816.4h0M319.3 825.6h0M276.9 766.5h0M326.8 810.6h0M252.3 830.3h0M318.0 759.9h0M243.2 819.0h0M271.8 796.1h0M235.9 767.6h0M284.9 838.0h0M288.9 820.8h0M242.2 804.8h0M267.0 760.4h0M278.5 793.8h0M250.7 836.0h0M297.0 776.5h0M283.2 800.3h0M235.9 793.5h0M255.6 743.7h0M320.0 772.1h0M285.3 776.0h0M282.8 816.4h0M253.3 770.0h0M249.2 763.8h0M268.8 799.2h0M283.4 806.5h0M246.4 752.2h0M327.0 780.0h0M248.5 775.2h0M225.8 770.4h0M307.6 743.1h0M318.8 827.8h0M227.3 838.0h0M300.0 759.2h0M266.8 777.1h0M289.4 796.8h0M257.8 765.3h0M238.1 840.0h0M302.8 742.8h0M242.6 799.2h0M243.3 747.9h0M227.1 810.4h0M306.6 773.2h0M281.9 764.1h0M250.8 827.1h0M266.8 796.7h0M302.8 785.3h0M288.6 789.1h0M231.2 806.0h0M251.2 762.8h0M310.0 773.0h0M229.5 815.2h0M271.8 771.0h0M262.0 843.3h0M239.4 757.5h0M247.6 807.8h0M239.5 826.2h0M255.3 816.6h0M300.2 770.1h0M261.9 782.4h0M279.7 806.4h0M274.1 766.0h0M302.2 767.4h0M230.9 791.6h0M281.5 760.2h0M251.4 797.7h0M249.4 774.3h0M298.2 757.2h0M256.2 741.8h0M277.7 810.7h0M278.7 845.3h0M294.6 831.2h0M235.7 795.8h0M297.1 748.4h0M299.5 800.5h0M227.1 745.2h0M282.8 816.9h0M261.3 756.8h0M319.5 791.7h0M237.0 827.5h0M303.5 772.3h0M269.1 814.6h0M316.0 748.5h0M256.8 786.3h0M290.5 789.6h0M309.7 764.0h0M324.9 769.0h0M328.0 748.3h0M254.0 782.0h0M261.8 798.1h0M250.9 820.7h0M289.9 810.4h0M282.1 751.4h0M245.4 788.2h0M226.5 741.2h0M261.1 800.3h0M312.9 814.6h0M230.9 826.3h0M280.8 820.0h0M277.3 763.0h0M304.9 786.4h0M307.2 832.8h0M279.3 800.1h0M279.8 745.6h0M299.2 770.6h0M287.7 780.0h0M284.7 830.4h0M231.2 797.3h0M258.6 801.5h0M278.5 825.3h0M236.3 778.2h0M325.2 827.5h0M286.9 846.7h0M321.4 800.9h0M287.4 793.2h0M274.2 832.2h0M230.9 805.8h0M253.5 791.6h0M291.1 791.4h0M314.4 829.1h0M245.0 759.4h0M255.6 840.2h0M249.2 773.9h0M248.1 762.9h0M240.2 795.7h0M308.3 775.9h0M307.3 800.3h0M274.9 749.7h0M320.3 745.3h0M242.3 785.2h0M327.8 750.5h0M263.9 833.0h0M248.6 794.0h0M322.5 754.6h0M326.2 761.3h0M306.0 783.5h0M296.8 789.0h0M247.9 823.3h0M321.0 786.0h0M289.9 791.9h0M289.3 813.7h0M264.1 804.9h0M248.2 807.8h0M230.5 785.4h0M292.3 829.7h0M283.2 748.9h0M283.3 752.1h0M249.4 777.2h0M275.1 830.9h0M238.5 746.0h0M268.9 788.8h0M288.1 828.8h0M228.8 804.7h0M319.9 781.3h0M266.2 819.8h0M246.8 794.0h0M326.2 784.6h0M276.0 770.1h0M271.7 835.7h0M288.8 796.5h0M294.7 769.0h0M321.3 808.1h0M299.0 806.9h0M299.7 788.3h0M296.4 842.9h0M318.1 794.3h0M243.5 815.2h0M325.1 787.5h0M278.9 772.8h0M315.9 842.9h0M300.9 782.0h0M314.5 834.8h0M255.8 800.6h0M310.4 843.3h0M314.5 794.2h0M270.8 744.7h0M313.3 743.5h0M232.6 765.0h0M274.3 791.6h0M247.2 810.6h0M313.6 827.7h0M309.3 791.0h0M305.8 842.8h0M295.5 828.2h0M287.7 770.6h0M298.4 791.6h0M320.9 786.9h0M305.1 758.9h0M275.9 841.1h0M259.9 746.8h0M307.5 742.7h0M251.6 825.9h0M255.1 753.8h0M226.6 795.7h0M232.5 758.9h0M316.1 785.2h0M230.6 741.0h0M279.1 772.8h0M234.8 767.4h0M253.5 796.5h0M325.7 781.7h0M312.6 821.2h0M307.5 792.9h0M327.9 819.5h0M277.5 740.1h0M317.9 806.6h0M313.2 796.7h0M265.9 786.6h0M254.6 754.8h0M248.2 825.9h0M259.2 819.8h0M289.0 845.4h0M263.4 840.6h0M324.1 812.9h0M314.9 749.0h0M300.3 758.2h0M326.7 819.9h0M248.9 784.4h0M264.7 745.0h0M260.0 789.4h0M241.2 841.1h0M256.9 829.5h0M262.4 754.5h0M322.7 789.9h0M324.9 808.8h0M276.1 769.5h0M320.4 787.7h0M248.7 768.6h0M302.8 745.8h0M318.8 824.2h0M253.7 827.7h0M261.7 830.0h0M233.0 772.6h0M270.2 750.5h0M264.2 740.4h0M269.2 846.4h0M320.8 836.1h0M319.4 815.1h0M234.9 794.8h0M235.7 775.4h0M258.4 797.3h0M233.9 754.4h0M280.5 792.7h0M289.5 828.4h0M306.0 819.8h0M295.4 837.5h0M281.9 752.1h0M305.3 832.5h0M250.3 782.3h0M235.9 812.2h0M317.6 776.7h0M269.2 763.7h0M266.0 767.1h0M289.2 768.0h0M305.0 760.5h0M278.9 751.4h0M267.6 773.9h0M304.1 845.1h0M312.6 759.0h0M230.2 787.6h0M286.6 832.5h0M257.1 761.8h0M240.9 801.8h0M234.2 844.5h0M246.7 840.7h0M292.2 787.1h0M293.8 844.8h0M236.5 801.7h0M253.7 745.0h0M295.2 743.6h0M287.2 772.1h0M309.5 787.4h0M276.6 785.3h0M306.8 773.0h0M257.4 787.9h0M284.8 780.0h0M315.2 741.6h0M246.2 750.8h0M285.5 839.0h0M321.3 817.2h0M280.9 743.9h0M251.4 795.1h0M288.5 829.6h0M277.7 801.5h0M279.7 758.6h0M290.7 789.3h0M293.1 751.0h0M286.0 820.1h0M290.7 832.1h0M236.0 776.7h0M267.4 766.1h0M298.8 755.2h0M317.2 841.5h0M289.2 751.4h0M307.1 757.3h0M244.6 799.1h0M278.7 843.9h0M251.4 794.4h0M317.5 837.2h0M300.3 791.3h0M301.6 773.4h0M263.6 742.7h0M260.3 768.8h0M304.1 740.5h0M266.6 844.3h0M303.1 821.2h0M278.2 801.6h0M324.4 762.6h0M295.8 759.0h0M259.2 752.5h0M313.4 743.2h0M303.5 806.3h0M303.0 827.5h0M265.2 825.6h0M239.7 748.8h0M308.0 762.6h0M252.9 769.8h0M231.1 827.9h0M279.8 770.0h0M284.3 834.4h0M287.3 798.3h0M281.4 814.3h0M281.8 828.4h0M269.1 818.5h0M239.9 799.0h0M320.5 827.7h0M284.9 782.8h0M322.5 816.4h0M323.0 811.3h0M271.9 773.8h0M316.6 748.0h0M288.0 749.3h0M228.0 807.2h0M241.3 833.9h0M272.9 749.7h0M225.9 833.8h0M245.2 761.2h0M276.3 821.7h0M284.9 778.0h0M277.9 768.3h0M227.6 759.3h0M299.9 743.0h0M238.4 836.7h0M298.5 804.3h0M241.5 765.9h0M270.2 766.6h0M307.3 759.3h0M288.0 750.3h0M306.8 758.8h0M229.3 749.5h0M313.9 810.2h0M275.7 810.4h0M269.2 746.4h0M250.9 838.3h0M235.6 769.6h0M225.2 834.6h0M248.2 742.1h0M225.5 758.1h0M257.5 845.6h0M320.7 774.4h0M233.5 847.2h0M248.3 788.4h0M324.0 812.5h0M317.5 840.2h0M308.2 818.8h0M226.9 839.7h0M264.4 753.8h0M294.9 841.8h0M327.7 746.4h0M246.8 798.8h0M240.8 764.9h0M252.6 759.4h0M302.7 788.7h0M272.0 846.5h0M288.5 804.6h0M252.1 778.7h0M274.6 768.4h0M252.4 763.3h0M262.5 794.4h0M272.1 809.3h0M229.6 841.8h0M297.3 778.1h0M273.3 817.0h0M277.3 825.4h0M250.7 752.2h0M299.6 796.6h0M263.0 789.6h0M321.4 775.3h0M289.5 840.8h0M260.9 794.7h0M260.0 844.8h0M276.9 792.7h0M315.1 847.6h0M322.1 816.0h0M303.7 789.6h0M321.6 747.4h0M299.6 800.4h0M264.1 807.6h0M257.7 782.9h0M303.5 755.5h0M248.1 744.1h0M225.8 799.4h0M248.3 780.9h0M263.2 814.7h0M275.8 770.9h0M281.4 842.6h0M259.2 831.4h0M321.2 835.0h0M256.1 767.7h0M325.1 830.0h0M231.2 815.0h0M238.6 787.8h0M286.5 815.0h0M246.4 804.9h0M322.3 838.8h0M256.2 766.3h0M322.0 817.2h0M303.9 795.4h0M234.6 824.1h0M276.7 820.9h0M299.5 793.5h0M322.6 807.3h0M239.8 835.8h0M313.6 832.6h0M327.8 809.6h0M250.3 798.0h0M296.7 786.1h0M289.4 806.3h0M299.5 822.2h0M247.2 808.9h0M247.1 839.0h0M234.5 744.9h0M295.0 817.3h0M230.6 797.9h0M321.5 786.4h0M229.0 742.9h0M292.0 750.8h0M245.7 746.4h0M323.6 841.9h0M322.5 794.3h0M278.6 837.6h0M294.9 775.2h0M251.3 839.2h0M314.6 784.7h0M258.6 806.0h0M263.8 809.2h0M277.7 744.3h0M250.1 830.8h0M239.1 758.5h0M265.1 753.0h0M319.6 761.9h0M321.5 788.3h0M282.6 747.7h0M320.7 832.9h0M279.9 779.5h0M282.7 844.1h0M247.4 769.1h0M260.9 764.4h0M289.2 778.2h0M313.5 827.1h0M283.5 782.6h0M226.2 810.5h0M232.1 792.6h0M319.6 802.7h0M225.3 831.9h0M309.3 843.7h0M317.7 810.6h0M253.0 829.8h0M230.1 834.4h0M326.0 801.3h0M269.4 745.0h0M269.5 807.2h0M232.6 785.2h0M244.0 817.1h0M277.7 760.4h0M240.9 742.2h0M275.1 812.3h0M306.4 842.6h0M257.5 803.8h0M267.5 792.5h0M315.3 755.8h0M297.0 753.3h0M283.4 795.1h0M284.5 761.4h0M283.4 785.6h0M249.4 811.5h0M273.5 751.6h0M243.0 771.4h0M283.2 797.2h0M263.8 817.2h0M258.5 839.9h0M323.4 795.4h0M309.0 809.0h0M259.4 842.1h0M228.5 830.4h0M267.8 814.3h0M259.9 759.6h0M326.6 818.2h0M267.9 828.1h0M261.9 837.0h0M269.0 751.6h0M261.7 775.4h0M318.9 802.6h0M276.6 815.5h0M249.7 811.6h0M295.3 825.4h0M249.7 804.9h0M228.3 826.3h0M253.4 767.8h0M303.8 807.4h0M241.1 744.8h0M268.3 785.5h0M294.9 834.5h0M225.7 776.1h0M251.9 767.6h0M268.7 762.6h0M255.1 770.9h0M304.1 794.2h0M305.2 838.3h0M236.4 764.0h0M317.8 846.9h0M307.8 835.5h0M255.9 795.5h0M314.6 838.7h0M315.0 836.9h0M234.1 806.0h0M235.1 817.8h0M302.7 831.4h0M253.4 845.2h0M309.3 788.4h0M262.9 810.1h0M282.7 847.8h0M228.8 800.5h0M245.4 822.6h0M263.5 837.0h0M242.0 782.7h0M278.9 804.4h0M228.3 816.2h0M279.6 844.9h0M316.9 755.8h0M228.5 755.3h0M264.3 775.2h0M261.8 803.4h0M287.6 749.1h0M298.8 841.9h0M295.7 775.9h0M326.4 801.9h0M240.5 847.7h0M312.1 761.3h0M231.1 789.2h0M231.8 768.9h0M317.2 806.5h0M230.6 778.8h0M239.6 805.9h0M245.6 837.6h0M254.6 834.8h0M225.6 746.8h0M252.1 742.0h0M325.2 795.1h0M225.3 819.2h0M250.1 794.2h0M285.9 818.3h0M231.4 755.6h0M318.3 756.6h0M238.1 807.9h0M268.4 835.7h0M271.7 741.9h0M238.8 749.8h0M308.2 822.4h0M236.7 804.5h0M308.9 806.2h0M293.3 772.2h0M262.0 746.2h0M245.1 828.2h0M247.4 823.9h0M229.7 825.9h0M264.5 824.3h0M312.9 788.1h0M296.4 747.4h0M313.2 830.5h0M230.2 807.1h0M282.1 777.2h0M251.6 770.5h0M303.2 791.4h0M308.6 811.7h0M320.1 782.5h0M247.2 769.0h0M296.0 744.5h0M318.7 837.7h0M314.3 781.0h0M310.3 751.8h0M237.7 812.2h0M286.9 836.5h0M314.6 819.7h0M232.5 820.5h0M296.4 832.2h0M253.2 770.3h0M247.9 802.2h0M228.3 779.1h0M266.5 774.1h0M251.4 790.6h0M258.3 835.4h0M322.6 822.4h0M293.4 830.1h0M257.7 834.2h0M243.2 842.1h0M245.0 805.2h0M296.9 745.5h0M248.6 799.9h0M288.3 774.7h0M268.0 744.8h0M262.0 839.7h0M298.4 783.9h0M285.8 798.3h0M298.4 799.7h0M325.8 817.0h0M250.6 747.1h0M323.8 781.8h0M294.5 792.2h0M291.5 788.8h0M232.4 821.0h0M241.2 830.1h0M298.7 821.7h0M257.4 766.9h0M261.7 846.0h0M271.3 748.1h0M291.6 774.9h0M244.3 803.1h0M236.1 742.8h0M277.1 838.3h0M230.1 755.3h0M231.0 781.4h0M240.8 765.3h0M237.7 831.0h0M324.7 839.9h0M238.4 797.3h0M258.8 744.0h0M283.5 750.2h0M281.6 769.7h0M275.3 798.6h0M235.0 777.5h0M311.0 819.9h0M255.8 748.2h0M314.3 786.4h0M292.0 781.1h0M310.2 781.2h0M261.9 843.2h0M240.1 759.7h0M248.6 843.2h0M243.5 806.1h0M244.2 764.0h0M320.7 805.2h0M256.0 794.3h0M308.9 772.2h0M290.4 784.6h0M268.2 794.8h0M270.8 818.8h0M241.3 778.5h0M292.6 820.8h0M273.2 796.9h0M281.4 830.9h0M269.5 782.5h0M297.9 746.4h0M245.0 741.3h0M322.3 803.6h0M254.7 764.2h0M238.1 750.4h0M300.5 787.6h0M231.0 812.6h0M228.1 767.7h0M300.0 809.5h0M226.4 788.3h0M242.9 781.1h0M320.6 794.7h0M305.8 838.3h0M317.4 810.3h0M323.1 815.2h0M266.6 826.1h0M260.4 742.5h0M281.7 825.2h0M292.9 810.8h0M276.9 741.7h0M242.6 792.4h0M251.2 765.3h0M231.8 805.8h0M275.6 768.3h0M242.1 769.7h0M274.9 836.8h0M318.2 846.2h0M229.8 787.0h0M276.5 778.3h0M312.3 806.1h0M325.6 827.6h0M259.5 847.6h0M242.5 784.1h0M247.7 748.0h0M236.1 839.7h0M281.2 751.7h0M225.3 745.2h0M245.4 839.1h0M318.9 757.2h0M262.1 781.0h0M321.9 846.9h0M304.4 829.1h0M275.0 799.7h0M315.4 763.8h0M327.4 805.4h0M226.6 821.2h0M311.7 782.6h0M264.0 846.6h0M262.9 840.5h0M318.4 805.7h0M326.8 771.1h0M259.7 830.1h0M285.1 841.2h0M283.3 783.3h0" stroke="#3e3900" stroke-width="2" stroke-linecap="round" stroke-opacity="0.55"/></g><g filter="url(#bf)"><path d="M275.5 794.1h0M292.6 795.4h0M284.3 792.2h0M281.8 796.3h0M278.8 794.6h0M275.9 794.6h0M284.4 783.3h0M280.7 786.9h0M279.7 784.4h0M285.5 784.5h0M278.7 794.6h0M277.7 785.7h0M283.7 796.1h0M284.6 795.7h0M285.2 794.5h0M284.8 806.3h0M282.4 812.8h0M284.7 819.2h0M278.6 823.9h0M292.3 826.0h0M279.5 828.8h0M284.7 825.0h0M284.5 831.1h0M292.5 815.0h0M291.5 821.0h0M281.1 807.8h0M289.4 807.1h0M289.0 806.2h0M286.0 803.5h0M281.7 801.1h0M288.8 810.1h0M275.1 797.6h0M279.6 818.0h0M295.8 801.7h0M283.4 807.1h0M283.0 826.2h0M276.4 817.1h0M294.1 810.3h0M281.4 819.7h0M290.8 773.2h0M291.6 769.7h0M297.4 767.3h0M304.2 768.7h0M292.6 765.6h0M297.9 770.8h0M295.8 765.0h0M292.4 763.4h0M276.2 758.3h0M270.3 743.2h0M272.1 745.5h0M270.3 769.7h0M272.0 739.1h0M267.7 741.0h0M231.0 789.4h0M226.6 785.4h0M227.3 786.8h0M258.4 812.0h0M260.7 807.7h0M263.2 814.4h0M259.7 794.3h0M293.3 821.2h0M300.1 822.7h0M300.7 826.1h0M297.3 821.3h0M299.2 816.9h0M243.3 770.4h0M281.9 744.1h0M290.5 737.9h0M281.9 749.9h0" stroke="#0e0d00" stroke-width="3.6" stroke-linecap="round" stroke-opacity="0.55"/><path d="M282.4 790.4h0M281.3 785.8h0M268.7 783.4h0M274.7 790.4h0M274.2 787.6h0M276.1 775.5h0M275.9 792.1h0M276.6 793.9h0M279.7 794.6h0M274.4 792.1h0M282.5 789.2h0M277.1 794.6h0M272.7 791.7h0M285.7 787.1h0M275.7 792.5h0M286.1 804.7h0M298.8 810.9h0M286.2 813.5h0M278.0 811.7h0M289.5 824.7h0M283.4 802.4h0M282.7 819.2h0M285.2 821.6h0M279.4 837.3h0M295.3 799.5h0M290.5 807.6h0M295.8 813.0h0M285.6 814.7h0M280.3 819.7h0M286.4 815.5h0M297.1 808.5h0M290.2 811.9h0M285.8 794.4h0M278.2 815.8h0M291.0 818.6h0M270.7 821.6h0M277.4 826.5h0M299.1 804.8h0M296.7 766.9h0M294.5 771.7h0M307.7 772.4h0M305.6 765.2h0M286.8 772.4h0M295.9 773.3h0M293.9 769.1h0M293.6 776.4h0M303.2 769.5h0M272.7 760.0h0M268.3 762.5h0M271.5 780.2h0M271.2 756.1h0M273.7 750.1h0M265.7 733.2h0M229.2 783.1h0M228.2 777.5h0M225.2 773.9h0M262.9 792.2h0M261.3 803.4h0M263.6 808.1h0M259.1 810.1h0M302.0 827.2h0M290.7 825.5h0M301.4 835.0h0M294.2 828.1h0M246.4 766.3h0M247.8 770.3h0M287.7 749.6h0M282.8 744.5h0" stroke="#0e0d00" stroke-width="5.2" stroke-linecap="round" stroke-opacity="0.55"/><path d="M288.6 785.4h0M268.1 790.3h0M276.6 791.1h0M282.8 787.3h0M269.3 783.2h0M276.6 778.3h0M285.9 785.0h0M271.1 786.8h0M266.7 786.7h0M273.1 785.0h0M278.9 785.3h0M276.8 798.7h0M266.9 778.9h0M278.2 784.3h0M275.0 788.9h0M283.5 793.6h0M277.8 803.3h0M277.2 805.6h0M282.2 795.1h0M294.5 819.7h0M286.2 832.9h0M283.0 816.8h0M291.0 807.4h0M278.3 810.7h0M278.2 805.6h0M281.7 823.2h0M286.6 807.6h0M283.2 808.2h0M286.4 802.2h0M283.5 805.8h0M286.0 823.7h0M290.2 828.3h0M281.3 810.7h0M284.6 824.4h0M281.3 804.0h0M284.0 807.3h0M283.0 815.1h0M288.6 804.0h0M306.7 769.2h0M286.5 777.1h0M290.0 773.1h0M300.2 776.9h0M291.8 770.4h0M293.3 778.1h0M307.9 769.9h0M296.8 772.2h0M293.6 770.9h0M272.4 767.1h0M271.4 741.1h0M269.4 757.2h0M278.2 772.5h0M265.4 756.0h0M269.3 760.4h0M227.3 776.6h0M231.0 776.3h0M259.0 820.7h0M260.7 797.6h0M264.1 810.6h0M265.2 809.0h0M293.3 832.1h0M303.8 831.5h0M308.7 824.4h0M294.7 825.2h0M298.4 829.3h0M245.7 765.5h0M246.8 769.1h0M281.6 738.6h0M286.6 743.1h0" stroke="#0e0d00" stroke-width="6.8" stroke-linecap="round" stroke-opacity="0.55"/></g></g>
<text x="10.9" y="753" font-size="9.5" text-anchor="start" fill="#fff">DAPI</text>
<text x="10.9" y="843.3" font-size="9.5" text-anchor="start" fill="#fff">PT13</text>
<text x="119.7" y="753.2" font-size="9.5" text-anchor="start" fill="#fff">HNF4A</text>
<text x="228.6" y="753" font-size="9.5" text-anchor="start" fill="#fff">EGFR</text>
<text x="296.4" y="843" font-size="7.8" text-anchor="start" fill="#fff">100 µm</text>
<rect x="294.5" y="844.3" width="29.4" height="1.8" fill="#fff"/>
<text x="658.7" y="540.2" font-size="9.5" text-anchor="middle" fill="#000">Organoid</text>
<text x="658.7" y="551.6" font-size="9.5" text-anchor="middle" fill="#000">expression</text>
<text x="603.3" y="568.7" font-size="9.6" text-anchor="start" fill="#000">i</text>
<text x="658.7" y="569.2" font-size="9.5" text-anchor="middle" font-style="italic">FGF3</text>
<path d="M637.7 575.7 L637.7 624.1 L680.2 624.1" stroke="#222" fill="none" stroke-width="0.9"/>
<line x1="635.7" y1="622.6" x2="637.7" y2="622.6" stroke="#222" stroke-width="0.8"/>
<text x="634.6" y="625" font-size="6.8" text-anchor="end" fill="#000">0</text>
<line x1="635.7" y1="607.9" x2="637.7" y2="607.9" stroke="#222" stroke-width="0.8"/>
<text x="634.6" y="610.3" font-size="6.8" text-anchor="end" fill="#000">1</text>
<line x1="635.7" y1="593.2" x2="637.7" y2="593.2" stroke="#222" stroke-width="0.8"/>
<text x="634.6" y="595.6" font-size="6.8" text-anchor="end" fill="#000">2</text>
<line x1="635.7" y1="578.5" x2="637.7" y2="578.5" stroke="#222" stroke-width="0.8"/>
<text x="634.6" y="580.9" font-size="6.8" text-anchor="end" fill="#000">3</text>
<path d="M649.2 577.03 L649.7 582.91 L651.4 590.26 L652.2 597.61 L651.8 604.96 L650.7 610.84 L650.2 615.25 L651.7 618.19 L655.7 621.13 L657.9 622.6 L640.5 622.6 L642.7 621.13 L646.7 618.19 L648.2 615.25 L647.7 610.84 L646.6 604.96 L646.2 597.61 L647 590.26 L648.7 582.91 L649.2 577.03 Z" stroke="#3a2a00" fill="#e59d05" stroke-width="0.5" stroke-linejoin="round"/>
<line x1="668.5" y1="596.14" x2="668.5" y2="622.6" stroke="#333" stroke-width="0.8"/>
<line x1="659.8" y1="622.6" x2="677.2" y2="622.6" stroke="#333" stroke-width="0.9"/>
<text x="658.7" y="642" font-size="9.5" text-anchor="middle" font-style="italic">FGF8</text>
<path d="M637.7 648.3 L637.7 696.5 L680.2 696.5" stroke="#222" fill="none" stroke-width="0.9"/>
<line x1="635.7" y1="695.1" x2="637.7" y2="695.1" stroke="#222" stroke-width="0.8"/>
<text x="634.6" y="697.5" font-size="6.8" text-anchor="end" fill="#000">0</text>
<line x1="635.7" y1="682.13" x2="637.7" y2="682.13" stroke="#222" stroke-width="0.8"/>
<text x="634.6" y="684.53" font-size="6.8" text-anchor="end" fill="#000">1</text>
<line x1="635.7" y1="669.17" x2="637.7" y2="669.17" stroke="#222" stroke-width="0.8"/>
<text x="634.6" y="671.57" font-size="6.8" text-anchor="end" fill="#000">2</text>
<line x1="635.7" y1="656.2" x2="637.7" y2="656.2" stroke="#222" stroke-width="0.8"/>
<text x="634.6" y="658.6" font-size="6.8" text-anchor="end" fill="#000">3</text>
<path d="M649.2 651.01 L651.2 654.9 L654.4 661.39 L655.8 667.87 L654.8 674.35 L652.6 682.13 L650.4 688.62 L651.4 691.21 L655.7 693.8 L657.7 695.1 L640.7 695.1 L642.7 693.8 L647 691.21 L648 688.62 L645.8 682.13 L643.6 674.35 L642.6 667.87 L644 661.39 L647.2 654.9 L649.2 651.01 Z" stroke="#3a2a00" fill="#e59d05" stroke-width="0.5" stroke-linejoin="round"/>
<line x1="668.5" y1="656.2" x2="668.5" y2="695.1" stroke="#333" stroke-width="0.8"/>
<line x1="659.8" y1="695.1" x2="677.2" y2="695.1" stroke="#333" stroke-width="0.9"/>
<text x="658.7" y="715.4" font-size="9.5" text-anchor="middle" font-style="italic">FGF9</text>
<path d="M637.7 721.3 L637.7 769.8 L680.2 769.8" stroke="#222" fill="none" stroke-width="0.9"/>
<line x1="635.7" y1="768.4" x2="637.7" y2="768.4" stroke="#222" stroke-width="0.8"/>
<text x="634.6" y="770.8" font-size="6.8" text-anchor="end" fill="#000">0</text>
<line x1="635.7" y1="753.03" x2="637.7" y2="753.03" stroke="#222" stroke-width="0.8"/>
<text x="634.6" y="755.43" font-size="6.8" text-anchor="end" fill="#000">1</text>
<line x1="635.7" y1="737.67" x2="637.7" y2="737.67" stroke="#222" stroke-width="0.8"/>
<text x="634.6" y="740.07" font-size="6.8" text-anchor="end" fill="#000">2</text>
<line x1="635.7" y1="722.3" x2="637.7" y2="722.3" stroke="#222" stroke-width="0.8"/>
<text x="634.6" y="724.7" font-size="6.8" text-anchor="end" fill="#000">3</text>
<path d="M649.2 723.84 L651 729.98 L653.2 737.67 L654.9 745.35 L654.2 753.03 L651.7 759.18 L650.5 762.25 L651.7 764.56 L655.7 766.86 L657.7 768.4 L640.7 768.4 L642.7 766.86 L646.7 764.56 L647.9 762.25 L646.7 759.18 L644.2 753.03 L643.5 745.35 L645.2 737.67 L647.4 729.98 L649.2 723.84 Z" stroke="#3a2a00" fill="#e59d05" stroke-width="0.5" stroke-linejoin="round"/>
<line x1="668.5" y1="734.59" x2="668.5" y2="768.4" stroke="#333" stroke-width="0.8"/>
<line x1="659.8" y1="768.4" x2="677.2" y2="768.4" stroke="#333" stroke-width="0.9"/>
<text x="658.7" y="788.7" font-size="9.5" text-anchor="middle" font-style="italic">FGF19</text>
<path d="M637.7 794.6 L637.7 843.1 L680.2 843.1" stroke="#222" fill="none" stroke-width="0.9"/>
<line x1="635.7" y1="841.6" x2="637.7" y2="841.6" stroke="#222" stroke-width="0.8"/>
<text x="634.6" y="844" font-size="6.8" text-anchor="end" fill="#000">0</text>
<line x1="635.7" y1="828.33" x2="637.7" y2="828.33" stroke="#222" stroke-width="0.8"/>
<text x="634.6" y="830.73" font-size="6.8" text-anchor="end" fill="#000">1</text>
<line x1="635.7" y1="815.07" x2="637.7" y2="815.07" stroke="#222" stroke-width="0.8"/>
<text x="634.6" y="817.47" font-size="6.8" text-anchor="end" fill="#000">2</text>
<line x1="635.7" y1="801.8" x2="637.7" y2="801.8" stroke="#222" stroke-width="0.8"/>
<text x="634.6" y="804.2" font-size="6.8" text-anchor="end" fill="#000">3</text>
<path d="M649.2 797.82 L649.6 804.45 L650.2 812.41 L651 820.37 L650.7 827.01 L649.8 832.31 L650 836.29 L652.2 838.95 L656.2 840.94 L657.7 841.6 L640.7 841.6 L642.2 840.94 L646.2 838.95 L648.4 836.29 L648.6 832.31 L647.7 827.01 L647.4 820.37 L648.2 812.41 L648.8 804.45 L649.2 797.82 Z" stroke="#3a2a00" fill="#e59d05" stroke-width="0.5" stroke-linejoin="round"/>
<line x1="668.5" y1="817.72" x2="668.5" y2="841.6" stroke="#333" stroke-width="0.8"/>
<line x1="659.8" y1="841.6" x2="677.2" y2="841.6" stroke="#333" stroke-width="0.9"/>
<text x="618.2" y="702.7" font-size="9.7" text-anchor="middle" fill="#000" transform="rotate(-90 618.2 702.7)">Expression level</text>
<text x="648.7" y="854.5" font-size="8.5" text-anchor="middle" fill="#000">Emb.</text>
<text x="668.3" y="854.5" font-size="8.5" text-anchor="middle" fill="#000">Fet.</text>
<text x="372.6" y="725.8" font-size="9.6" text-anchor="start" fill="#000" font-weight="bold">j</text>
<text x="486" y="724" font-size="9.5" text-anchor="middle"><tspan font-style="italic">FGFR</tspan> expression</text>
<path d="M408 737.5 L408 842 L558.6 842" stroke="#222" fill="none" stroke-width="1.1"/>
<line x1="403.6" y1="738" x2="408" y2="738" stroke="#222" stroke-width="1"/>
<text x="402" y="740.7" font-size="7.6" text-anchor="end" fill="#000">0.020</text>
<line x1="403.6" y1="764" x2="408" y2="764" stroke="#222" stroke-width="1"/>
<text x="402" y="766.7" font-size="7.6" text-anchor="end" fill="#000">0.015</text>
<line x1="403.6" y1="790" x2="408" y2="790" stroke="#222" stroke-width="1"/>
<text x="402" y="792.7" font-size="7.6" text-anchor="end" fill="#000">0.010</text>
<line x1="403.6" y1="816" x2="408" y2="816" stroke="#222" stroke-width="1"/>
<text x="402" y="818.7" font-size="7.6" text-anchor="end" fill="#000">0.005</text>
<line x1="403.6" y1="842" x2="408" y2="842" stroke="#222" stroke-width="1"/>
<text x="402" y="844.7" font-size="7.6" text-anchor="end" fill="#000">0.000</text>
<line x1="425.4" y1="842" x2="425.4" y2="844.2" stroke="#222" stroke-width="1"/>
<text x="425.4" y="856" font-size="9" text-anchor="middle" fill="#000" font-style="italic">1</text>
<line x1="466.3" y1="842" x2="466.3" y2="844.2" stroke="#222" stroke-width="1"/>
<text x="466.3" y="856" font-size="9" text-anchor="middle" fill="#000" font-style="italic">2</text>
<line x1="505.4" y1="842" x2="505.4" y2="844.2" stroke="#222" stroke-width="1"/>
<text x="505.4" y="856" font-size="9" text-anchor="middle" fill="#000" font-style="italic">3</text>
<line x1="546" y1="842" x2="546" y2="844.2" stroke="#222" stroke-width="1"/>
<text x="546" y="856" font-size="9" text-anchor="middle" fill="#000" font-style="italic">4</text>
<text x="357.3" y="794.6" font-size="9.5" text-anchor="middle" transform="rotate(-90 357.3 794.6)">Gene expression</text>
<text x="368.8" y="794.6" font-size="9.5" text-anchor="middle" transform="rotate(-90 368.8 794.6)">(dCt <tspan font-style="italic">GAPDH</tspan>)</text>
<line x1="418.2" y1="756.4" x2="418.2" y2="767.4" stroke="#222" stroke-width="0.9"/>
<line x1="416.7" y1="756.4" x2="419.7" y2="756.4" stroke="#222" stroke-width="0.9"/>
<line x1="418.2" y1="814.4" x2="418.2" y2="818.7" stroke="#222" stroke-width="0.9"/>
<line x1="416.7" y1="818.7" x2="419.7" y2="818.7" stroke="#222" stroke-width="0.9"/>
<rect x="413.6" y="767.4" width="9.2" height="47" fill="#f4a20e" stroke="#222" stroke-width="0.9"/>
<line x1="413.6" y1="801.3" x2="422.8" y2="801.3" stroke="#222" stroke-width="0.9"/>
<circle cx="418.2" cy="756.4" r="1.25" fill="#111"/>
<circle cx="418.2" cy="798.8" r="1.25" fill="#111"/>
<circle cx="418.2" cy="803.7" r="1.25" fill="#111"/>
<circle cx="418.2" cy="818.7" r="1.25" fill="#111"/>
<line x1="433.5" y1="805.8" x2="433.5" y2="818.1" stroke="#222" stroke-width="0.9"/>
<line x1="432" y1="805.8" x2="435" y2="805.8" stroke="#222" stroke-width="0.9"/>
<rect x="428.9" y="818.1" width="9.2" height="23.4" fill="#7fc7ea" stroke="#222" stroke-width="0.9"/>
<line x1="428.9" y1="835.5" x2="438.1" y2="835.5" stroke="#222" stroke-width="0.9"/>
<circle cx="433.5" cy="805.8" r="1.25" fill="#111"/>
<circle cx="433.5" cy="821.3" r="1.25" fill="#111"/>
<circle cx="433.5" cy="830.5" r="1.25" fill="#111"/>
<circle cx="430.5" cy="840" r="1.25" fill="#111"/>
<circle cx="433.5" cy="840.3" r="1.25" fill="#111"/>
<circle cx="436.5" cy="840" r="1.25" fill="#111"/>
<line x1="458.5" y1="759.2" x2="458.5" y2="762.3" stroke="#222" stroke-width="0.9"/>
<line x1="457" y1="759.2" x2="460" y2="759.2" stroke="#222" stroke-width="0.9"/>
<line x1="458.5" y1="784.4" x2="458.5" y2="788.5" stroke="#222" stroke-width="0.9"/>
<line x1="457" y1="788.5" x2="460" y2="788.5" stroke="#222" stroke-width="0.9"/>
<rect x="453.4" y="762.3" width="10.2" height="22.1" fill="#f4a20e" stroke="#222" stroke-width="0.9"/>
<line x1="453.4" y1="770" x2="463.6" y2="770" stroke="#222" stroke-width="0.9"/>
<circle cx="458.5" cy="759.2" r="1.25" fill="#111"/>
<circle cx="458.5" cy="766.5" r="1.25" fill="#111"/>
<circle cx="458.5" cy="773.5" r="1.25" fill="#111"/>
<circle cx="458.5" cy="788.5" r="1.25" fill="#111"/>
<rect x="469.2" y="828.3" width="9.2" height="9.8" fill="#7fc7ea" stroke="#222" stroke-width="0.9"/>
<line x1="469.2" y1="836.5" x2="478.4" y2="836.5" stroke="#222" stroke-width="0.9"/>
<circle cx="470" cy="837" r="1.25" fill="#111"/>
<circle cx="473.5" cy="827.8" r="1.25" fill="#111"/>
<circle cx="477.5" cy="827.3" r="1.25" fill="#111"/>
<circle cx="471" cy="834" r="1.25" fill="#111"/>
<circle cx="476" cy="834.7" r="1.25" fill="#111"/>
<circle cx="478" cy="837.4" r="1.25" fill="#111"/>
<circle cx="494.8" cy="841.6" r="1.1" fill="#111"/>
<circle cx="497.5" cy="841.6" r="1.1" fill="#111"/>
<circle cx="500.2" cy="841.6" r="1.1" fill="#111"/>
<circle cx="502.9" cy="841.6" r="1.1" fill="#111"/>
<circle cx="509.4" cy="841.6" r="1.1" fill="#111"/>
<circle cx="512.3" cy="841.6" r="1.1" fill="#111"/>
<circle cx="515.2" cy="841.6" r="1.1" fill="#111"/>
<circle cx="518.2" cy="841.6" r="1.1" fill="#111"/>
<text x="507.6" y="837.5" font-size="7" text-anchor="middle" fill="#000">N.D.</text>
<rect x="535" y="839.8" width="9.8" height="1.4" fill="#f4a20e" stroke="#222" stroke-width="0.9"/>
<line x1="535" y1="840.5" x2="544.8" y2="840.5" stroke="#222" stroke-width="0.9"/>
<circle cx="535.5" cy="840.2" r="1.25" fill="#111"/>
<circle cx="538" cy="839.6" r="1.25" fill="#111"/>
<circle cx="540.5" cy="840.3" r="1.25" fill="#111"/>
<circle cx="543" cy="839.8" r="1.25" fill="#111"/>
<line x1="554.3" y1="753.9" x2="554.3" y2="770" stroke="#222" stroke-width="0.9"/>
<line x1="552.8" y1="753.9" x2="555.8" y2="753.9" stroke="#222" stroke-width="0.9"/>
<line x1="554.3" y1="826" x2="554.3" y2="828.7" stroke="#222" stroke-width="0.9"/>
<line x1="552.8" y1="828.7" x2="555.8" y2="828.7" stroke="#222" stroke-width="0.9"/>
<rect x="548.8" y="770" width="11" height="56" fill="#7fc7ea" stroke="#222" stroke-width="0.9"/>
<line x1="548.8" y1="809.4" x2="559.8" y2="809.4" stroke="#222" stroke-width="0.9"/>
<circle cx="554.3" cy="753.9" r="1.25" fill="#111"/>
<circle cx="554.3" cy="776.8" r="1.25" fill="#111"/>
<circle cx="554.3" cy="799" r="1.25" fill="#111"/>
<circle cx="554.3" cy="826.5" r="1.25" fill="#111"/>
<circle cx="552.5" cy="828.5" r="1.25" fill="#111"/>
<path d="M417.7 748.6 L417.7 742 L434.4 742 L434.4 794.6" stroke="#222" fill="none" stroke-width="1"/>
<text x="426.05" y="739.7" font-size="8.5" text-anchor="middle" fill="#000">*</text>
<path d="M458.1 748.6 L458.1 742 L473.9 742 L473.9 825.2" stroke="#222" fill="none" stroke-width="1"/>
<text x="466" y="739.7" font-size="8.5" text-anchor="middle" fill="#000">***</text>
<path d="M538.9 831.9 L538.9 740 L554.7 740 L554.7 745.2" stroke="#222" fill="none" stroke-width="1"/>
<text x="546.8" y="737.7" font-size="8.5" text-anchor="middle" fill="#000">*</text>
<rect x="572.4" y="810.2" width="7.1" height="11.1" fill="#f4a20e" stroke="#222" stroke-width="0.9"/>
<rect x="586.2" y="810.2" width="7.1" height="11.1" fill="#7fc7ea" stroke="#222" stroke-width="0.9"/>
<text x="579.4" y="808" font-size="9.5" text-anchor="start" fill="#000" transform="rotate(-90 579.4 808)">Embryonal</text>
<text x="593.2" y="808" font-size="9.5" text-anchor="start" fill="#000" transform="rotate(-90 593.2 808)">Fetal</text>
</svg>
</body></html>
